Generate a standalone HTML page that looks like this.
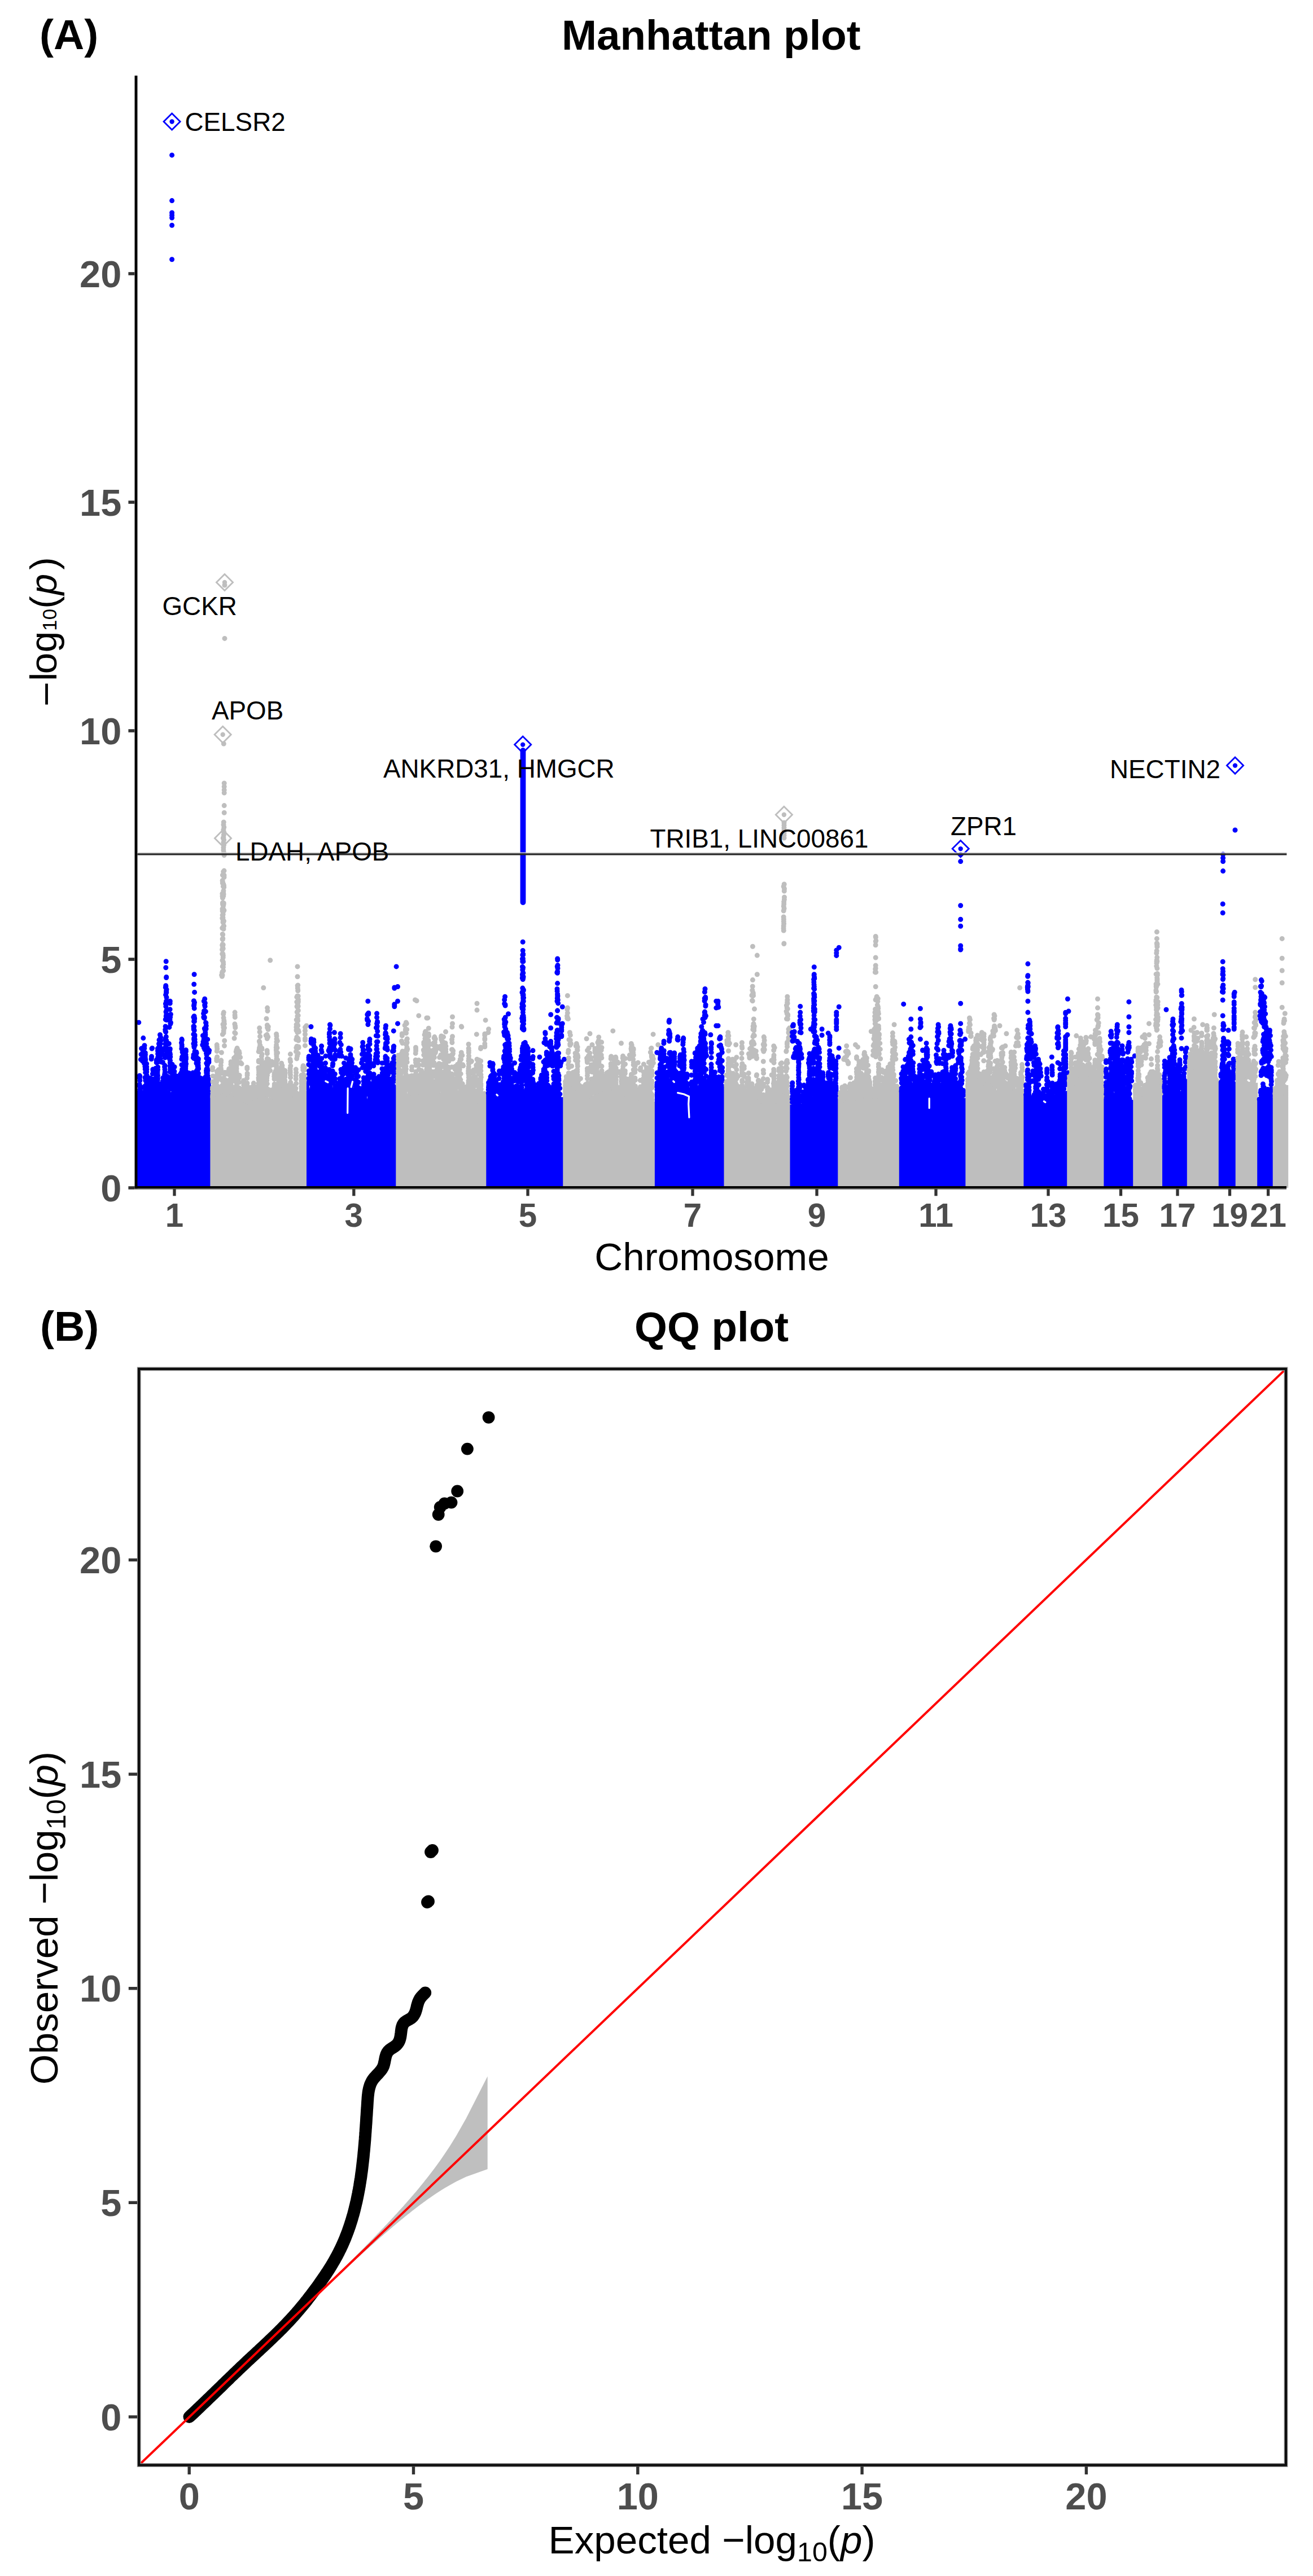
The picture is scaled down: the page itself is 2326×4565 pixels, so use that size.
<!DOCTYPE html>
<html lang="en"><head><meta charset="utf-8"><title>Manhattan plot and QQ plot</title>
<style>
html,body{margin:0;padding:0;background:#fff}
body{width:2326px;height:4565px;overflow:hidden}
svg{display:block}
text{font-family:'Liberation Sans', Arial, Helvetica, sans-serif}
.tk{font-size:66.7px;font-weight:700;fill:#4D4D4D}
.tkx{font-size:58.3px;font-weight:700;fill:#4D4D4D}
.ttl{font-size:74.5px;font-weight:700;fill:#000}
.tag{font-size:75px;font-weight:700;fill:#000}
.axt{font-size:69.2px;fill:#000}
.gl text{font-size:45.8px;fill:#000}
</style></head><body>
<svg width="2326" height="4565" viewBox="0 0 2326 4565">
<rect width="2326" height="4565" fill="#fff"/>
<g id="manhattan">
<path fill="#0000FF" d="M243 2105L243 1934.5L247 1934.5L248.5 1944.4L250 1936.1L251.5 1944.5L253 1943.1L254.5 1949.3L256 1945.6L257.5 1946.7L259 1945.9L260.5 1940.5L262 1937.1L263.5 1928L265 1929.7L266.5 1929.8L268 1925L269.5 1921.6L271 1918.2L272.5 1919.3L274 1929.6L275.5 1920.8L277 1916.4L278.5 1922L280 1924.5L281.5 1921.8L283 1926.7L284.5 1924.3L286 1928.9L287.5 1923.7L289 1926L290.5 1928.5L292 1921L293.5 1918.4L295 1924.1L296.5 1923.7L298 1932.1L299.5 1920.6L301 1928.3L302.5 1935.5L304 1934.2L305.5 1927.8L307 1924.6L308.5 1930.7L310 1932.3L311.5 1941.6L313 1942.6L314.5 1930.7L316 1928.3L317.5 1927.3L319 1920.8L320.5 1930.2L322 1929L323.5 1923.6L325 1919.6L326.5 1924.9L328 1915.6L329.5 1922.8L331 1918.6L332.5 1922.1L334 1930.5L335.5 1925.5L337 1923.8L338.5 1926.8L340 1923.1L341.5 1913.2L343 1921.3L344.5 1921.9L346 1919.9L347.5 1923.6L349 1913.7L350.5 1917L352 1920.3L353.5 1918.6L355 1904.9L356.5 1919.9L358 1920.9L359.5 1915.9L361 1912.8L362.5 1912.6L364 1916.4L365.5 1918.6L367 1914.4L368.5 1920.2L373.4 1920.2L373.4 2105Z"/>
<path fill="none" stroke="#0000FF" stroke-width="9" stroke-linecap="round" d="M247.2 1941.2h0M247.4 1938.2h0M247.1 1934.9h0M247.6 1930.9h0M247.3 1924.9h0M247.1 1921.8h0M247.8 1914.7h0M247.3 1910.2h0M247.8 1907.2h0M247.3 1906.3h0M250.2 1944.7h0M250.4 1941.4h0M250.1 1936h0M250.3 1926.7h0M253.9 1946.3h0M253.5 1942.8h0M253.4 1939.8h0M254.1 1936.2h0M253.7 1927.2h0M257.1 1949h0M257 1945.4h0M257.7 1940.5h0M257.6 1936.2h0M257.8 1933h0M257.3 1927.7h0M257.2 1924.3h0M257.8 1914.7h0M257 1909.5h0M257.7 1900.8h0M257.2 1894.7h0M256.9 1890.1h0M257.4 1884.1h0M257.7 1878.3h0M257.1 1872.8h0M257.4 1869h0M257.3 1865.7h0M260.1 1947.1h0M259.8 1943.1h0M260.1 1937.4h0M259.7 1932.9h0M259.4 1930h0M259.4 1927.2h0M259.7 1922.8h0M259.7 1918.9h0M259.8 1913.5h0M260 1909.9h0M260 1905.4h0M259.8 1899.6h0M259.9 1895.1h0M259.7 1890.8h0M259.7 1885.1h0M263.2 1937.9h0M263.2 1934.2h0M262.7 1929.6h0M264.3 1932.7h0M264 1929.7h0M264.4 1919.8h0M266.2 1929.6h0M266.5 1926.3h0M266.6 1918.6h0M266 1913.1h0M266.1 1910.6h0M268 1928h0M268.3 1922.9h0M268 1918.6h0M268.2 1916.5h0M271.3 1926.6h0M270.3 1918h0M270.4 1912.6h0M270.4 1902.9h0M271 1897.1h0M270.8 1895.1h0M272.2 1926h0M272.2 1914.1h0M275.5 1925.6h0M275.7 1917.3h0M275.4 1913.7h0M275.5 1910.7h0M275.4 1903.1h0M275.4 1899.1h0M275.7 1893.3h0M277.4 1922.3h0M277.4 1917.9h0M278 1913.4h0M277.4 1904.4h0M277.1 1900.4h0M277.1 1893.7h0M277.2 1883.1h0M277.1 1879.3h0M277.5 1878.1h0M279.2 1919.6h0M279.3 1913.7h0M279.4 1910.8h0M279.4 1906.4h0M279 1903.5h0M279 1899.4h0M279.5 1895.6h0M279.6 1891h0M279.9 1881.8h0M279.8 1873.5h0M279.7 1867.8h0M279.5 1862.3h0M279.4 1858.1h0M283.1 1927.7h0M282.8 1920.9h0M285.4 1931.9h0M285.5 1928.6h0M286 1923h0M285.8 1920.7h0M288.4 1931.4h0M288.9 1925.9h0M288.4 1921.4h0M288.4 1916.2h0M288.9 1910h0M292 1922.2h0M292.1 1917.2h0M291.6 1912.2h0M291.8 1908.6h0M291.6 1903.9h0M292.2 1900.2h0M292 1895.2h0M291.6 1890.8h0M292 1888.1h0M293.8 1919.5h0M293.5 1909.7h0M293.8 1905.5h0M295.3 1925.1h0M295.6 1912h0M297.5 1925.8h0M297.5 1922.8h0M297.1 1918.5h0M297.8 1914.6h0M297.5 1908.1h0M299.3 1927.1h0M299 1921.3h0M299.1 1916.1h0M301.1 1929.3h0M301.6 1926.4h0M301.3 1918.9h0M301.8 1915.5h0M301.4 1909.8h0M300.9 1899.4h0M301.6 1894.2h0M300.9 1889.3h0M301.3 1883.4h0M301.5 1879.5h0M301.5 1873.5h0M301.2 1869.7h0M301 1866.3h0M301 1860.5h0M301.3 1858.8h0M304.7 1930.2h0M304.9 1926.7h0M304.9 1923.6h0M305 1913.6h0M304.9 1909.1h0M305.6 1906h0M305.2 1902.8h0M304.9 1897.2h0M305 1893.5h0M305.1 1886.3h0M306.7 1930.6h0M306.5 1924.9h0M306.9 1922h0M306.1 1910.5h0M306.5 1909.3h0M309.5 1935h0M309.3 1929.8h0M308.6 1925.5h0M309.5 1920.1h0M308.7 1915.2h0M309.3 1911.5h0M309.1 1908.3h0M308.8 1903.6h0M308.9 1898.8h0M309.1 1890.7h0M312.3 1940.4h0M312.1 1931.6h0M312.5 1927.2h0M313 1923.5h0M312.4 1919.9h0M312.6 1912.2h0M315.6 1935.8h0M314.9 1932h0M314.9 1928.4h0M314.8 1922.5h0M315.3 1918.9h0M315 1913h0M315.1 1907.2h0M316.5 1932.4h0M316.2 1915.6h0M316.6 1913.6h0M319.9 1929.4h0M319.6 1925.4h0M319.5 1922h0M320 1911.3h0M319.3 1905.8h0M319.7 1903.4h0M321.8 1930.5h0M321.9 1924.8h0M321.5 1919.3h0M322.4 1916.4h0M322.4 1912.7h0M322.4 1908.8h0M322.2 1903.9h0M321.5 1900.1h0M321.9 1887h0M321.9 1877h0M321.8 1858.5h0M322.2 1854.7h0M322.2 1851.6h0M321.5 1847.9h0M322.4 1843.3h0M322 1841.6h0M325.3 1929.3h0M325.9 1926.1h0M325.6 1921.8h0M326 1917h0M325.3 1911.4h0M325.8 1905.9h0M325.4 1901.8h0M325.4 1898.2h0M325.6 1892.5h0M326 1883.9h0M326 1875.8h0M325.7 1873.8h0M329.1 1923.8h0M329.8 1920.6h0M329.3 1911.9h0M329.8 1908.2h0M329.4 1905h0M329 1901.5h0M329.4 1898h0M328.8 1893h0M329 1889.1h0M329.6 1885.3h0M328.9 1880.7h0M329.5 1876.6h0M329.5 1873.4h0M329.1 1869.3h0M329.4 1863.3h0M329.3 1860.8h0M332.1 1923.8h0M331.9 1919.8h0M332.1 1916.3h0M331.7 1916.1h0M335.4 1928.9h0M334.5 1924.6h0M335.4 1920h0M334.9 1916.8h0M334.8 1912.4h0M335.3 1904.7h0M335 1901.8h0M337.2 1930.6h0M336.4 1924.6h0M337.2 1918.8h0M336.8 1911.8h0M340 1925.9h0M340.1 1919.5h0M341.9 1921.4h0M341.7 1917.3h0M342.2 1909.1h0M342 1903h0M341.9 1901h0M344.1 1919.2h0M343.9 1915h0M344 1913.3h0M345.3 1919.8h0M345.6 1916.2h0M345.3 1911.9h0M345.3 1908.7h0M345.3 1907.5h0M347.3 1922.1h0M348 1917.2h0M347.3 1911.8h0M348.2 1907.4h0M348.1 1898h0M348 1884.3h0M347.6 1878.5h0M348.1 1873.2h0M348.2 1866.2h0M347.7 1864.3h0M349.5 1922h0M349.4 1919h0M350.1 1913.1h0M349.3 1909.8h0M349.6 1905.2h0M349.8 1899.5h0M350.2 1893.9h0M350 1889h0M350 1880.6h0M349.7 1879.3h0M351 1920.6h0M351.6 1915.1h0M351.6 1909h0M351 1905.2h0M351.4 1901.9h0M351.6 1894.1h0M351.3 1891.2h0M351.2 1888h0M351.1 1883.3h0M351.1 1878.4h0M351.4 1876.5h0M352.9 1919.4h0M353.3 1913.3h0M355.2 1920.1h0M355.5 1915.2h0M355.6 1910.8h0M358.1 1917.1h0M359.5 1919.8h0M359.7 1915.3h0M360 1913.1h0M363.3 1916.4h0M362.9 1910.5h0M363.2 1909.5h0M365.5 1917.7h0M365.3 1913.9h0M366 1908.2h0M366 1905.3h0M365.7 1901h0M365.5 1897.4h0M366 1894.4h0M365.8 1884.2h0M365.9 1875.4h0M366.2 1869.5h0M365.5 1866.6h0M366.2 1856.1h0M365.8 1854.7h0M367.8 1921.5h0M368.2 1916.4h0M367.9 1912h0M367.9 1906.4h0M367.4 1901.7h0M368.1 1896.9h0M367.3 1893.6h0M367.3 1887.7h0M367.9 1884.8h0M367.9 1879.9h0M367.6 1876.9h0M368.1 1865.7h0M367.3 1856.7h0M367.7 1841.9h0M369.5 1923.2h0M369.2 1919.7h0M369 1916.8h0M369.2 1912.2h0M294.2 1703.8h0M295.2 1777.7h0M295.1 1807.5h0M292.8 1824.7h0M294 1793.1h0M293.7 1846.8h0M294.3 1837.2h0M294.8 1758.8h0M294.6 1732.5h0M293.3 1749.8h0M294.6 1756h0M292.4 1874.3h0M294.1 1805.5h0M293.1 1850.1h0M293.8 1806.1h0M293.4 1854.9h0M293.4 1869.9h0M294.5 1758.5h0M293.2 1806.6h0M293 1827.4h0M294.8 1848.8h0M294.6 1848.7h0M293.9 1783.6h0M295.1 1790.1h0M294.7 1731.4h0M293.8 1714.7h0M295 1767.5h0M293.8 1807.1h0M293.3 1861.9h0M294.2 1800.8h0M294.9 1844.2h0M293.7 1828.8h0M293.4 1778.7h0M294.7 1856.4h0M293.1 1842.4h0M294.8 1797.3h0M293.1 1818.9h0M295.1 1801h0M293.6 1762.9h0M294.6 1774.3h0M293 1856.5h0M293.7 1746.8h0M294.2 1778.7h0M293.9 1747.8h0M295 1753.5h0M292.9 1840.6h0M301.3 1774.3h0M299.9 1820.4h0M302.4 1797.5h0M302 1814.3h0M300.5 1799.7h0M300.2 1808.2h0M301.1 1788.8h0M301.2 1778h0M301.9 1814.1h0M301.6 1802.5h0M300.4 1800.9h0M301 1806.8h0M302.5 1812.2h0M344.1 1726.7h0M344.2 1806.7h0M343.8 1847.9h0M344.5 1776.5h0M345 1863.5h0M345.1 1841.9h0M344.5 1839.4h0M343.6 1810h0M342.9 1832.9h0M344.7 1805.2h0M344.5 1843.5h0M343.9 1780h0M344.4 1810.1h0M344.5 1803.8h0M343 1869.3h0M344.9 1836.2h0M344 1800.8h0M342.4 1874.4h0M343.2 1822h0M345.5 1851.9h0M343 1818.8h0M344.2 1826h0M344.1 1844h0M345 1834.3h0M343.8 1819.1h0M343 1871.3h0M343.7 1840h0M342.9 1849.6h0M343.5 1875.5h0M343.7 1744.2h0M342.9 1802.4h0M343.9 1805.1h0M343.6 1841.7h0M343.5 1782.3h0M345.4 1847h0M343.3 1819.8h0M343.7 1854.2h0M343.4 1773.8h0M345 1851.2h0M344 1833.7h0M343.3 1824.4h0M343.5 1873.1h0M345 1834.3h0M344 1856h0M344.2 1786.9h0M344.6 1758.4h0M362.7 1770.3h0M364.5 1812.2h0M362.1 1804.2h0M362.3 1802.8h0M360.6 1796.1h0M361.1 1841.6h0M361.8 1802h0M362.3 1822.8h0M363.7 1835.3h0M364.9 1812.8h0M359.2 1851.2h0M365.8 1849.4h0M360 1846.2h0M363.7 1849.6h0M361.3 1774.2h0M363.9 1858.1h0M360.8 1802.5h0M361.6 1791.4h0M361.5 1845.6h0M364.3 1792.5h0M360.2 1846.7h0M363.5 1853.8h0M363.9 1846h0M365 1854h0M360.4 1850.1h0M362.9 1839.5h0M362.2 1843.1h0M363.1 1853.2h0M361.4 1803.9h0M362.6 1791.1h0M362.6 1781.1h0M362.6 1791.6h0M362.9 1824.3h0M358.8 1851.8h0M362.4 1850.3h0M363.7 1829.5h0M361.7 1850.3h0M365.2 1817.7h0M363.1 1783.4h0M359.5 1835.2h0M363.9 1833.1h0M361.3 1856.7h0M362.8 1860.1h0M365 1823.2h0M363.3 1777.5h0M361.6 1834.3h0M253.8 1839.6h0M252.4 1880.3h0M254 1865.6h0M251 1877.1h0M253.2 1864h0M256.4 1868.9h0M255.8 1857.7h0M253.8 1862.7h0M253.8 1856.7h0M255.4 1884.3h0M252.1 1877.8h0M252.5 1858.8h0M254.9 1870.1h0M249.4 1877.6h0M257.3 1875.3h0M250.1 1868.5h0M250.6 1858.1h0M256 1852.7h0M255.1 1871h0M257.7 1877.7h0M254.8 1871.1h0M283.5 1833.7h0M285.1 1869.9h0M285 1868.6h0M284.4 1849.8h0M285.4 1862.3h0M282 1842.9h0M284.5 1838h0M285.1 1881.8h0M285.7 1858h0M284.1 1876.7h0M282.3 1852.3h0M282.2 1860.6h0M284.5 1861h0M278.8 1882.6h0M279.7 1867.3h0M284.9 1844.1h0M286.9 1867.7h0M279.9 1861.8h0M284.1 1858.9h0M288.5 1882.7h0M282.8 1863.1h0M284.1 1843h0M281.5 1849.8h0M269.6 1857.4h0M269 1858.3h0M268.5 1872.3h0M268.1 1876.7h0M268.4 1875.3h0M324.3 1863.4h0M324.8 1865h0M325.2 1875h0M322.6 1873h0M325.6 1891.1h0M325.8 1893.3h0M324.6 1868.6h0M324 1889.4h0M322.6 1895.3h0M325.8 1896.1h0M323.1 1864.5h0M370.6 1861.4h0M369.9 1878.6h0M369.9 1864.9h0M368.9 1880.1h0M369.9 1882.6h0M369.9 1864.3h0M369.9 1877.1h0M368.8 1879.1h0M369.9 1881.4h0M299.3 1849.5h0M299.9 1869.5h0M298.9 1863.9h0M301.7 1872.7h0M299.7 1872.6h0M297.8 1860.5h0M300.5 1876.7h0M298.4 1873.6h0M301.5 1868.5h0M245.8 1811.9h0M304.6 274.9h0M304.6 355.6h0M304.6 377h0M304.6 381.5h0M304.6 386h0M304.6 399.2h0M304.6 459.8h0"/>
<path fill="#BEBEBE" d="M372.4 2105L372.4 1939.5L376.4 1939.5L377.9 1945L379.4 1934.8L380.9 1925.2L382.4 1918.3L383.9 1931.2L385.4 1925.1L386.9 1940.1L388.4 1931.5L389.9 1936.3L391.4 1935L392.9 1929.6L394.4 1926.5L395.9 1928.7L397.4 1936.5L398.9 1932.5L400.4 1931.4L401.9 1941.4L403.4 1933.7L404.9 1925.3L406.4 1922.2L407.9 1927.8L409.4 1936.2L410.9 1929.8L412.4 1931.2L413.9 1926.8L415.4 1935.6L416.9 1940.2L418.4 1942.7L419.9 1939.7L421.4 1947.3L422.9 1941.5L424.4 1943.3L425.9 1936.4L427.4 1940.5L428.9 1942.1L430.4 1932.2L431.9 1938.6L433.4 1943.9L434.9 1949.6L436.4 1947.4L437.9 1947.1L439.4 1943.3L440.9 1948.2L442.4 1951.4L443.9 1943.8L445.4 1940.4L446.9 1949.1L448.4 1937.4L449.9 1942.7L451.4 1946.9L452.9 1938.4L454.4 1932.8L455.9 1937.5L457.4 1939.5L458.9 1933.3L460.4 1932.6L461.9 1929.3L463.4 1931.1L464.9 1938.8L466.4 1935.8L467.9 1937.2L469.4 1931L470.9 1934.1L472.4 1941.1L473.9 1937.2L475.4 1945.8L476.9 1939.4L478.4 1945.5L479.9 1943.5L481.4 1945.8L482.9 1938.5L484.4 1939L485.9 1924.6L487.4 1918.6L488.9 1918.6L490.4 1913.1L491.9 1910.2L493.4 1917.5L494.9 1910.2L496.4 1913.5L497.9 1907.3L499.4 1910.2L500.9 1924.2L502.4 1928.4L503.9 1925.6L505.4 1927.9L506.9 1934.4L508.4 1936.5L509.9 1931.8L511.4 1940.1L512.9 1932.7L514.4 1928.5L515.9 1931.2L517.4 1927.8L518.9 1927.3L520.4 1937.1L521.9 1940L523.4 1939.5L524.9 1949.5L526.4 1940.2L527.9 1945.2L529.4 1940.1L530.9 1943.7L532.4 1938.8L533.9 1936.3L535.4 1940.6L536.9 1940.8L538.4 1939.6L539.9 1933.5L544 1933.5L544 2105Z"/>
<path fill="none" stroke="#BEBEBE" stroke-width="9" stroke-linecap="round" d="M376.8 1944h0M377.1 1940.1h0M376.8 1936.1h0M376.5 1930.3h0M376.6 1927.5h0M377 1917.1h0M377.1 1906.9h0M376.3 1895.7h0M376.7 1892h0M380.2 1933.3h0M380.1 1927.5h0M379.7 1922.5h0M380 1918.8h0M382.7 1929.5h0M382.5 1924.2h0M382.5 1913.9h0M382.4 1911.8h0M384.4 1931.4h0M384.1 1927.4h0M383.8 1922.9h0M383.8 1916.9h0M383.9 1912h0M384.2 1907.2h0M384.7 1904.3h0M384.3 1898.7h0M383.8 1879.5h0M383.8 1876h0M384.6 1873h0M384.3 1862.9h0M384.7 1858.8h0M384.4 1855.1h0M384.2 1851.6h0M386.9 1935.5h0M387 1926h0M387.7 1908.2h0M387.5 1905.1h0M387.2 1895.7h0M389.6 1935.3h0M389.6 1931.4h0M390 1928.4h0M391.3 1933.7h0M391.9 1928.7h0M392.1 1925.2h0M391.3 1912.8h0M391.5 1902h0M391.8 1896.5h0M391.3 1893.2h0M391.3 1888.1h0M391.6 1882.4h0M391.7 1879.1h0M393.5 1932.1h0M393.5 1928.7h0M394.2 1923h0M393.7 1915h0M393.4 1911.2h0M393.7 1901.2h0M397.1 1933.7h0M397.3 1930.3h0M398.5 1936.3h0M399 1930.3h0M398.2 1926.3h0M398.4 1920.8h0M398.4 1913h0M398.3 1904.4h0M398.7 1900.4h0M400.8 1938.7h0M400.8 1933.5h0M400.9 1930h0M400.7 1924.2h0M404.4 1935h0M403.6 1929.3h0M404.4 1923.5h0M404.4 1919.8h0M404 1917h0M405.3 1932h0M405.8 1927.4h0M406.1 1924.2h0M406 1918.6h0M405.3 1914.5h0M405.8 1904.4h0M406.2 1899.8h0M405.4 1896.3h0M405.8 1894.1h0M408.7 1931.2h0M408.6 1926.1h0M409.1 1921.3h0M409.5 1916.2h0M408.7 1911.1h0M408.9 1906.6h0M408.7 1903.4h0M409.3 1895.3h0M409 1886.1h0M409.1 1881.8h0M412.2 1931.5h0M411.7 1926.3h0M413.7 1933.3h0M414.3 1915.2h0M413.8 1909.3h0M413.9 1904.4h0M413.9 1901.4h0M414.3 1898.5h0M413.9 1891.2h0M417.6 1941.2h0M416.9 1938.3h0M417.2 1937.5h0M419.6 1943.6h0M419.2 1938.8h0M419.3 1930.8h0M419.6 1927.6h0M419.1 1923.1h0M418.8 1918.5h0M419.1 1915.2h0M418.8 1911.5h0M419.3 1902h0M419.1 1898.6h0M419.1 1893.9h0M418.9 1890.1h0M419.2 1885.6h0M419.5 1882.7h0M419.2 1879.1h0M419.5 1868.2h0M419.2 1866.5h0M420.6 1944.2h0M420.3 1939h0M420.3 1933h0M420.8 1929.1h0M420.9 1918.8h0M420.6 1910h0M424.3 1942.6h0M423.4 1939.3h0M423.9 1934h0M423.8 1928.1h0M423.8 1917.9h0M423.9 1909.8h0M424.2 1905.7h0M423.9 1905.4h0M426.1 1939.9h0M426.4 1936.1h0M428.2 1939.6h0M427.9 1936.4h0M428.1 1933.3h0M431.9 1940.1h0M431.6 1937.2h0M432 1927.4h0M431.7 1922.9h0M431.6 1918.8h0M431.5 1914.9h0M435.2 1951.4h0M435.1 1948.2h0M435.5 1943.6h0M435.1 1937.6h0M435.2 1931.8h0M437.5 1952.7h0M437.4 1943.3h0M438.1 1937.6h0M437.6 1927.3h0M437.5 1922.9h0M437.9 1919.4h0M437.7 1910.6h0M438 1905.2h0M438.1 1902.3h0M437.8 1894.1h0M437.8 1891.4h0M441.2 1950.7h0M440.3 1946h0M440.3 1942.6h0M440.7 1939.5h0M440.7 1936.1h0M443.1 1948.2h0M443.4 1945.3h0M443.2 1940.1h0M443.9 1936.4h0M443.5 1931.7h0M443.9 1927.6h0M443.5 1927.6h0M447.4 1945.9h0M447.7 1942.3h0M447.2 1938.4h0M449.6 1946.6h0M449.8 1942.8h0M449.5 1934.8h0M449.7 1931.2h0M449.2 1923.2h0M449.3 1919.6h0M451.9 1945.6h0M451.6 1941.4h0M451.8 1935.9h0M451.8 1932.5h0M452 1931.6h0M454.6 1940.4h0M454.8 1935.3h0M454.9 1929.8h0M455 1926.7h0M458.1 1936h0M458.8 1930.8h0M458.2 1922.8h0M458.1 1919.6h0M458.2 1913.8h0M458 1910.2h0M458.3 1904.5h0M458.6 1900h0M458.4 1895.9h0M457.9 1892h0M458.2 1881.6h0M458.3 1879.5h0M460.1 1935.5h0M460.6 1932h0M460.7 1928.2h0M460.3 1926.2h0M463.5 1934.6h0M464 1930.9h0M463.8 1925.9h0M463.6 1920.9h0M464 1915.3h0M464.3 1911.9h0M463.4 1906.7h0M463.5 1903.7h0M463.4 1899.9h0M463.5 1896.1h0M464.1 1890.5h0M464 1886.9h0M464.2 1882.9h0M463.4 1877.6h0M463.4 1871.9h0M464.1 1868.3h0M464 1859.5h0M463.8 1857.5h0M466.8 1935.5h0M467.3 1923.1h0M466.6 1918.3h0M467 1913.2h0M467 1907.8h0M468.2 1937.7h0M468.6 1929.8h0M471 1934.9h0M471.2 1931.8h0M470.9 1928.3h0M471 1923.2h0M471.2 1919.6h0M471.1 1913.7h0M471.4 1908h0M471.6 1891.3h0M471.1 1885.8h0M471.3 1884.6h0M472.9 1939.4h0M473.1 1936h0M473.1 1932.8h0M472.7 1928.7h0M473.3 1920.6h0M472.7 1914.6h0M472.8 1910.2h0M473.5 1905.6h0M473.5 1900.7h0M472.9 1895.7h0M473.4 1892.4h0M472.8 1886.9h0M473.4 1876.1h0M473.4 1866.7h0M473.2 1862.8h0M473.1 1861.8h0M476 1939.9h0M476.8 1935.2h0M476.5 1931.3h0M479.7 1940.9h0M480.1 1937.8h0M483 1944.4h0M483.3 1941h0M482.7 1937.9h0M482.8 1931.3h0M485.9 1930.1h0M486 1925.1h0M486.2 1921.2h0M486 1912.3h0M485.8 1907.7h0M486 1904.6h0M486.1 1902.3h0M490 1910.3h0M489.8 1907.3h0M490.1 1903.5h0M489.4 1899.1h0M489.8 1892.2h0M489.8 1888h0M489.6 1883.9h0M489.5 1879.4h0M490 1876.2h0M490 1871.5h0M489.7 1867.9h0M489.7 1864.2h0M489.3 1860.7h0M489.2 1856.2h0M489.6 1852h0M489.9 1846.4h0M490.1 1841.1h0M490 1835.9h0M489.6 1832.4h0M491 1910.3h0M491.1 1905h0M491.5 1900.9h0M491.6 1897.4h0M491.6 1878h0M491.6 1865.8h0M491 1856.9h0M491.4 1844.7h0M493.3 1913.9h0M492.9 1908.3h0M493.6 1905.4h0M493.1 1902h0M493.3 1897.3h0M495.9 1915.1h0M495.6 1910.6h0M499 1918.4h0M498.2 1915.5h0M498.9 1911.1h0M498.9 1908.1h0M498.6 1903.1h0M498.4 1890.8h0M498.6 1884.3h0M499.9 1920.8h0M499.9 1916.5h0M500.1 1912.5h0M500 1908.6h0M499.6 1902.5h0M499.8 1897.5h0M500.1 1893.1h0M500 1888.5h0M501.7 1923.7h0M501.5 1918h0M501.2 1913.1h0M501.4 1911h0M505.1 1926.9h0M505 1921.7h0M504.8 1917.7h0M504.7 1914.7h0M504.7 1908.6h0M504.7 1905h0M505.2 1901.7h0M504.9 1897.4h0M504.9 1897.2h0M506.4 1936.4h0M507 1931.2h0M506.6 1927h0M508.2 1939.4h0M508.4 1933.4h0M508.1 1930.9h0M511.5 1939.5h0M511.3 1933.7h0M511.3 1930.8h0M511.5 1925.7h0M511.6 1923.4h0M514.5 1935.4h0M514.8 1932h0M514.7 1927.2h0M514 1921.5h0M514.7 1918.1h0M514.6 1909.6h0M514.5 1904.7h0M514.3 1900.8h0M514.2 1897.8h0M514.1 1893.4h0M514.8 1889h0M514.6 1881.3h0M514 1877.4h0M514.4 1868.1h0M517.1 1933.1h0M516.8 1928.2h0M517 1924h0M519.2 1934.1h0M519.2 1928.8h0M519 1926.2h0M521.4 1940.6h0M520.9 1934.7h0M521.4 1930.9h0M524.2 1948.3h0M524.6 1942.3h0M524 1939.1h0M524.4 1936.1h0M524 1928.7h0M524.6 1920.1h0M524.2 1912h0M524.2 1906.6h0M524.6 1900.8h0M524.3 1895.1h0M527.9 1947.2h0M527.8 1939.3h0M530.4 1945h0M530.4 1941.3h0M530.7 1938.5h0M533.7 1942.4h0M533.9 1936.3h0M534.2 1933h0M534.2 1929.3h0M533.8 1925.6h0M534 1919.8h0M533.9 1915.1h0M534.2 1909.4h0M533.9 1905.6h0M536.8 1941.5h0M536.7 1932.1h0M537.5 1926.1h0M536.7 1922.8h0M536.7 1919.4h0M536.8 1904.3h0M536.8 1896h0M536.6 1891.7h0M537.1 1888.8h0M538.8 1943.2h0M539.1 1938.7h0M538.8 1935.3h0M538.8 1930.1h0M539.6 1926.1h0M539.7 1922.2h0M539 1916.5h0M538.8 1913.1h0M539.1 1910.1h0M538.7 1905.4h0M539.4 1895.8h0M539.2 1891.9h0M394.4 1600h0M394 1701.9h0M394.2 1655.4h0M394 1728h0M394.1 1663.9h0M395.2 1630.4h0M394.5 1602.5h0M393.5 1723.4h0M394 1690.3h0M393.8 1644.9h0M394.9 1626h0M395.7 1708.9h0M394.6 1613.7h0M394.7 1656.2h0M393.9 1683.3h0M392.6 1727.9h0M395.5 1704.9h0M394.6 1678.9h0M393.4 1730.2h0M395.1 1692.4h0M394.8 1663.1h0M394.4 1664.9h0M394.9 1690.5h0M394.6 1655.9h0M393.6 1682.7h0M393.7 1690.5h0M394.3 1721.6h0M394.4 1702.3h0M393.7 1675h0M395.1 1630.2h0M394.4 1681h0M395.2 1680.9h0M393.7 1644.6h0M394.2 1712.8h0M395.3 1693.6h0M395.6 1720.2h0M394.2 1612.4h0M395.4 1713.9h0M393.8 1627.2h0M396.3 1794.1h0M395 1815.2h0M397.5 1821.5h0M396.1 1830.5h0M396.1 1803.7h0M397.5 1853.3h0M396.2 1826.7h0M397.7 1844.2h0M396.8 1808.4h0M396.4 1822.1h0M395.9 1814.3h0M395.9 1820.5h0M395.7 1797h0M394.3 1833.1h0M397 1810.4h0M395.7 1816.6h0M397.4 1814.5h0M416.1 1794.1h0M416.3 1802.6h0M415.1 1840h0M416.8 1821.1h0M415.8 1829.9h0M416.1 1799h0M416.6 1818.3h0M415.9 1814.7h0M417 1831.3h0M459.7 1821.8h0M459.4 1845.3h0M460.9 1855.9h0M460.6 1836.7h0M459.3 1861.7h0M459.2 1859.7h0M460.1 1828.8h0M459.8 1846.7h0M460.7 1852.2h0M458.2 1863.6h0M459.6 1856.6h0M473.6 1786.1h0M475.3 1819.4h0M473.4 1816.8h0M473.2 1840.6h0M473.6 1821h0M474.7 1837.5h0M473 1833.6h0M474 1791.5h0M475 1824.3h0M471.2 1835h0M472 1805.3h0M527 1730.7h0M524.9 1856.7h0M527.7 1754.4h0M525 1826.1h0M528.1 1840.5h0M525.1 1815.6h0M526.6 1841.8h0M529.3 1828.6h0M529 1856.6h0M526.6 1765.2h0M524.9 1820.2h0M525.7 1876h0M526.4 1784.4h0M528.2 1783.3h0M527.1 1825h0M525.2 1807.2h0M528.3 1790.8h0M528.9 1854.9h0M526 1783.6h0M527.1 1746.7h0M526.9 1800.7h0M527.4 1816.4h0M528.2 1799.6h0M528.3 1774.6h0M525 1825.1h0M527.1 1792.2h0M527.3 1805.6h0M526.2 1793.6h0M525.9 1854.2h0M528.6 1844.1h0M526.8 1829.6h0M526.7 1870h0M524.5 1863.6h0M527.6 1809h0M527.8 1745.9h0M527.3 1751h0M528.3 1771.2h0M528.4 1825.7h0M527.8 1817.6h0M526 1839.8h0M528.1 1776.3h0M528.2 1765.3h0M525.8 1775.6h0M527.7 1755.8h0M526.5 1871.8h0M525.8 1837.9h0M528.1 1866.8h0M525.8 1766.9h0M524.7 1842.3h0M525.9 1858.8h0M527.3 1779.8h0M542.9 1817.8h0M540.5 1832.9h0M540.5 1826.6h0M540.5 1833.1h0M540.5 1826.5h0M540.5 1852.9h0M540.5 1820.6h0M540.5 1843.3h0M540.5 1840.5h0M420.1 1857.4h0M422.9 1873h0M422.3 1872.1h0M422.7 1862.9h0M423.5 1863.2h0M428 1885.1h0M417.3 1874.6h0M422.9 1870h0M425.6 1873.8h0M420 1862.1h0M421.7 1882.3h0M414.6 1874.9h0M418.2 1863.8h0M426 1882.9h0M424.2 1866.5h0M420.7 1859.5h0M417.3 1884.5h0M422.8 1884h0M419 1860.4h0M417 1872.6h0M415.1 1879.6h0M475.5 1877.2h0M469.1 1897.1h0M476.4 1880.4h0M476.3 1881.3h0M478.6 1897.1h0M463.9 1890.5h0M465 1891.6h0M464.9 1894.4h0M471.5 1893h0M479.3 1888.6h0M469.8 1883.3h0M469.7 1899.9h0M487.9 1898.1h0M466.7 1890.9h0M481.3 1881.3h0M475.5 1882h0M465.4 1892.1h0M467.1 1890.7h0M475.7 1892.1h0M468.7 1888.4h0M468.6 1889.3h0M471.3 1882.3h0M475.6 1898.7h0M459.1 1899h0M475.1 1900h0M477.8 1897.2h0M467.5 1895.2h0M464.8 1896.4h0M466.1 1886h0M476 1889h0M483.7 1886.7h0M394.4 1673.3h0M466.8 1750.5h0M478.7 1701.8h0M527 1712.9h0M392.4 1865.3h0M398 1131.4h0M398 1037h0M396.3 1318h0M397.2 1388h0M397.2 1394h0M397.2 1400h0M397.2 1405h0M397.2 1427.6h0M397.2 1440.3h0M396.3 1457h0M396 1461.5h0M396.8 1466h0M395.9 1470.5h0M396.7 1475h0M396.4 1479.5h0M395.9 1484h0M396.6 1488.5h0M395.9 1493h0M396.5 1497.5h0M395.9 1502h0M395.9 1506.5h0M396.5 1511h0M397.1 1515.5h0M394.3 1562.3h0M395.9 1641.3h0M395.7 1581.2h0M397 1543.1h0M396.6 1569.6h0M394.4 1550.8h0M394.9 1627h0M394.5 1601.4h0M395.9 1578.6h0M395.7 1544.8h0M394.1 1560.4h0M396.1 1584.6h0M394.9 1601.8h0M395.4 1570.7h0M396.4 1614.2h0M394.7 1600.6h0M395.6 1633.4h0M396.2 1569.4h0M397 1550.9h0M395.2 1620.5h0M394.4 1591.3h0M394 1610.8h0M396.3 1600.5h0M396.7 1572.2h0M396.1 1602.8h0M395.8 1587.7h0M396.6 1641h0M395.4 1610.4h0M394.1 1614.5h0M396 1646.2h0M396.5 1569h0M395.1 1610.9h0M394 1588.3h0M394.4 1550.8h0M394.1 1621.7h0M394.3 1565h0M395.2 1633h0M394.2 1587h0M395.7 1634.3h0M396.5 1632.2h0M394.8 1583.3h0M395 1634.4h0M397 1554.5h0M394.5 1563.3h0M394.6 1590.9h0M395.8 1566.6h0M393.9 1583.7h0M395.1 1599.7h0M396.9 1613.3h0M395.5 1605.3h0M395.2 1674.2h0M395.2 1696.7h0"/>
<path fill="#0000FF" d="M543 2105L543 1917.4L547 1917.4L548.5 1929.7L550 1912.2L551.5 1911L553 1905.1L554.5 1904.8L556 1898.1L557.5 1903.9L559 1901L560.5 1908L562 1911.1L563.5 1910L565 1909.9L566.5 1914.6L568 1909.1L569.5 1912.3L571 1919.1L572.5 1918.2L574 1919L575.5 1927.8L577 1922L578.5 1921.5L580 1921.8L581.5 1916.4L583 1922.6L584.5 1924.7L586 1927.3L587.5 1932.5L589 1937.2L590.5 1932.7L592 1945.5L593.5 1943.1L595 1948.6L596.5 1940.4L598 1935.2L599.5 1932.1L601 1937.2L602.5 1934.3L604 1927.7L605.5 1933.8L607 1930.6L608.5 1938.5L610 1927.4L611.5 1926.2L613 1925.9L614.5 1929.1L616 1924.9L617.5 1921.7L619 1918.5L620.5 1918.5L622 1919.7L623.5 1918.6L625 1914L626.5 1928L628 1925.6L629.5 1929L631 1929.1L632.5 1937.2L634 1931.2L635.5 1935.7L637 1938.8L638.5 1941.4L640 1938.1L641.5 1937.8L643 1937.1L644.5 1940.8L646 1934.6L647.5 1942.6L649 1931.1L650.5 1948.2L652 1935.6L653.5 1934.1L655 1922.4L656.5 1929.6L658 1916.3L659.5 1931.7L661 1919.6L662.5 1927.5L664 1929.1L665.5 1925.7L667 1916L668.5 1919.3L670 1931.6L671.5 1918.3L673 1923L674.5 1930.9L676 1921.5L677.5 1929.2L679 1922.6L680.5 1921.3L682 1924.8L683.5 1920.2L685 1927.8L686.5 1923.6L688 1927.8L689.5 1928.5L691 1922.8L692.5 1932.8L694 1936.7L695.5 1931.7L697 1933.2L698.5 1929.1L702.3 1929.1L702.3 2105Z"/>
<path fill="none" stroke="#0000FF" stroke-width="9" stroke-linecap="round" d="M547.4 1919.8h0M547.6 1916.2h0M547 1911h0M547.5 1903.3h0M547.6 1897.8h0M546.9 1886.5h0M547.1 1877.8h0M547 1874.5h0M547.3 1871.9h0M551 1915.7h0M551.4 1911.2h0M550.7 1905.9h0M551.3 1901.1h0M550.9 1897.9h0M550.7 1889.6h0M551.4 1878.3h0M551 1872.9h0M551.5 1861.7h0M551.4 1848.5h0M551 1844.9h0M551.4 1841.3h0M551 1819.5h0M552.9 1910.3h0M552.9 1906.4h0M552.6 1905.6h0M553.4 1907.9h0M553.8 1904.7h0M553.7 1899.9h0M554.2 1896.4h0M553.5 1891.6h0M553.8 1887.8h0M553.9 1875.9h0M556.2 1902.7h0M555.7 1897.9h0M555.3 1882.1h0M555.4 1870.8h0M556.3 1861.6h0M555.8 1852.8h0M556 1846.9h0M555.8 1843h0M558.3 1907h0M558 1901.2h0M558.4 1895.2h0M558 1890.1h0M557.7 1876.7h0M558.1 1868.9h0M560.4 1914.1h0M561 1910h0M560.9 1905.3h0M564 1915.1h0M563.5 1909.4h0M565.5 1908.3h0M566.1 1905h0M565.4 1899.6h0M565.8 1889.4h0M567.6 1915.1h0M567.8 1910.1h0M570.1 1918.7h0M569.6 1915.2h0M569.5 1912h0M570 1904.2h0M569.8 1899.9h0M569.3 1894.6h0M569.7 1889.3h0M569.4 1884.3h0M569.7 1875.7h0M570.1 1864.4h0M569.2 1860.7h0M569.6 1853.7h0M571.6 1923.4h0M572.4 1919.6h0M572.2 1914.7h0M571.8 1905.4h0M571.6 1899.9h0M571.9 1895.5h0M574.7 1925.9h0M574.4 1920.1h0M574.6 1917.1h0M574.6 1909.7h0M576.7 1924.7h0M577.2 1919.2h0M577.1 1915.8h0M577.2 1905.6h0M577.1 1897.4h0M576.5 1892.6h0M576.6 1884.1h0M576.9 1871.4h0M580.3 1921.5h0M580.1 1917.6h0M579.5 1914.3h0M580.2 1910h0M579.9 1910h0M583 1923.2h0M583.1 1918.3h0M583.6 1913.6h0M582.8 1904.7h0M583.3 1899.3h0M583.3 1895.4h0M585 1927.1h0M584.8 1922.4h0M585.1 1917.6h0M585.2 1905.6h0M584.4 1902.6h0M584.8 1899.9h0M587.7 1937.9h0M587.7 1934h0M587.8 1931h0M589.6 1942.9h0M589.8 1938.7h0M589.6 1935.2h0M589.8 1919h0M589.1 1916h0M589.7 1910.4h0M589.2 1906.7h0M589.2 1898h0M589.2 1888.5h0M589.8 1885.3h0M589.6 1884.8h0M593.6 1947.2h0M593 1942.9h0M593.3 1939.7h0M592.9 1936.2h0M593.8 1930.4h0M593.6 1924.4h0M592.8 1914.7h0M593.2 1911.2h0M593.3 1903.2h0M596.2 1946.3h0M595.6 1941.7h0M595.8 1935.5h0M598.4 1941.8h0M598.3 1936.1h0M598.4 1931.3h0M598.8 1927h0M598.3 1921.9h0M598.7 1919.4h0M600 1939.3h0M599.9 1934.3h0M600.1 1929.3h0M600.1 1923.5h0M601.9 1933.7h0M601.8 1928.2h0M602.1 1925.3h0M601.1 1919.8h0M601.6 1911.8h0M604.2 1936.2h0M604.7 1932.9h0M604.8 1924.6h0M604.1 1921.2h0M604.8 1910h0M604.6 1900.9h0M604 1895.5h0M604.5 1895.5h0M606.7 1937.4h0M606.8 1934.4h0M606.7 1930.1h0M606.1 1926.6h0M606.4 1920.6h0M606.9 1917.5h0M606.4 1911.9h0M607 1904.8h0M606.1 1899.4h0M606.5 1897.1h0M609.6 1936.7h0M609.6 1932.4h0M609.9 1922.2h0M609.1 1916.7h0M609.4 1896.1h0M609.5 1892.2h0M609.5 1883.9h0M613.2 1931.5h0M612.5 1926.2h0M612.5 1922h0M613 1912.4h0M613.1 1902.1h0M612.6 1898.3h0M612.9 1890.3h0M612.7 1874.9h0M615 1929h0M614.8 1926.1h0M614.5 1920.1h0M614.6 1913.1h0M617.5 1925.1h0M617.5 1922.1h0M617.9 1913.5h0M617.6 1908.8h0M617.3 1905.7h0M617.4 1901.7h0M618 1892.2h0M617.6 1888.8h0M617.7 1884.6h0M618.2 1879.5h0M617.4 1859.8h0M617.8 1857.6h0M619.5 1922.4h0M619.1 1917.4h0M619.5 1910.2h0M619 1906.6h0M619.4 1905.2h0M620.7 1917.6h0M620.9 1912.2h0M620.8 1907.7h0M621 1902.2h0M620.8 1896.9h0M620.9 1893.4h0M621.4 1888.5h0M621.4 1885.5h0M621 1881.9h0M621.3 1878.7h0M621.1 1875.5h0M621 1872.1h0M620.9 1868.9h0M620.8 1859.9h0M621.1 1858.7h0M624.2 1922.6h0M624.2 1917h0M623.5 1912.5h0M623.4 1906.9h0M623.4 1898.8h0M623.5 1894.5h0M623.4 1889.5h0M623.5 1883.5h0M623.8 1877.3h0M625.4 1922.9h0M625.1 1918.4h0M624.8 1913.6h0M625.1 1895.5h0M627.4 1923.1h0M626.5 1920h0M626.7 1915.8h0M627 1913.6h0M629.3 1922.5h0M629.7 1916.6h0M630.1 1902.8h0M630.2 1895h0M629.8 1892.1h0M632.3 1932.3h0M631.7 1929.4h0M632.2 1923.9h0M632.1 1920.2h0M631.8 1915.1h0M632.1 1908.6h0M631.8 1900.8h0M632 1896.1h0M632.1 1895.8h0M635.5 1938.5h0M635.5 1930.6h0M634.8 1927.5h0M635.1 1918h0M634.7 1907.5h0M635 1895.9h0M638.3 1941.9h0M638.7 1936.3h0M641.7 1941.8h0M641.3 1938.1h0M641 1933.6h0M641.5 1928.8h0M644.5 1941.1h0M644.3 1935.7h0M644.5 1930.7h0M644.3 1921.9h0M644.2 1915.9h0M644.3 1909.9h0M647.6 1939.9h0M647.2 1934.6h0M647 1931h0M647.4 1927.8h0M647.9 1924.7h0M647.7 1920h0M647.5 1915.7h0M647.1 1912.8h0M647.7 1898.6h0M647.7 1892.6h0M647.8 1888.8h0M647.2 1878.3h0M647.7 1875.4h0M647 1871.7h0M647.5 1871.5h0M650.2 1939h0M651 1935.3h0M650.9 1932.4h0M650.5 1926.8h0M652.2 1935.9h0M652.2 1932.1h0M651.8 1928.4h0M652.3 1925h0M652.5 1919.9h0M652.2 1914.8h0M651.8 1906.7h0M652.4 1901.6h0M652.3 1892.6h0M652.5 1889.1h0M651.8 1883.7h0M651.8 1878.7h0M651.8 1875.3h0M651.9 1870.4h0M652.4 1866.2h0M652.3 1859.7h0M652.2 1855.4h0M654.8 1928.8h0M654.7 1923.8h0M655.3 1920.3h0M654.8 1909.7h0M655.1 1904.5h0M655 1901.4h0M654.7 1892.4h0M655 1889.2h0M655 1885.2h0M654.6 1879.8h0M654.8 1875.7h0M654.8 1870.7h0M655 1861h0M655 1850.3h0M654.6 1845.4h0M655 1841.6h0M658.6 1927.6h0M658.2 1922.8h0M658.6 1921.2h0M661.4 1931.9h0M662.3 1927.7h0M662.1 1924.7h0M661.4 1921.5h0M662.2 1918.1h0M662.1 1914.7h0M661.4 1910.5h0M662.1 1903.7h0M661.8 1888.8h0M661.8 1884.8h0M664.6 1931.3h0M665.3 1925.4h0M664.7 1921.4h0M665 1910.8h0M666.5 1928.6h0M667 1925.2h0M666.7 1920.3h0M669.7 1925.9h0M669.8 1915.2h0M669.4 1914.1h0M671.3 1926.3h0M671 1922.4h0M671.8 1914.6h0M671.8 1909.3h0M671.4 1907.8h0M675.4 1927.7h0M675.2 1923.9h0M677 1927.6h0M677.1 1922h0M676.9 1918.1h0M677.5 1906.9h0M677.3 1901.6h0M676.9 1894h0M677.1 1884h0M678.7 1926.6h0M678.5 1923.4h0M678.5 1918h0M678.6 1914.9h0M679.2 1910.6h0M679.1 1904.7h0M678.9 1902.8h0M681.6 1925.4h0M681.5 1921.6h0M681.7 1918.4h0M681.3 1913.9h0M681.4 1907.7h0M684.1 1926.2h0M684 1921.1h0M683.5 1918.1h0M683.2 1913h0M683.9 1908.4h0M683.9 1904.4h0M684 1899h0M683.5 1893h0M683.4 1884.3h0M683.7 1879.1h0M683.3 1874.7h0M683.6 1854.1h0M685.3 1927.3h0M686.2 1922.8h0M686.3 1916.9h0M686 1912.2h0M685.9 1906.8h0M685.7 1903.1h0M685.4 1898.6h0M686 1895.8h0M685.6 1890.5h0M685.9 1886h0M685.9 1880.3h0M686.3 1860.4h0M685.4 1856.1h0M686 1847.4h0M686.1 1841.3h0M685.8 1838h0M687.5 1928.5h0M687.3 1923.6h0M687.3 1920.1h0M687.3 1916.2h0M688.1 1911.9h0M687.6 1904.4h0M689.1 1930.9h0M689.6 1927.5h0M689.3 1921.5h0M689.6 1917.3h0M689.4 1915h0M691.2 1934h0M691.3 1931.2h0M691.5 1927.2h0M690.9 1923h0M691.3 1918.4h0M691 1912.5h0M691.1 1899.3h0M694.7 1935h0M695.2 1931.5h0M694.6 1926.1h0M694.6 1921.7h0M694.8 1916h0M694.8 1914h0M697.5 1932.9h0M697.9 1928.9h0M697.5 1925.2h0M697.5 1916.6h0M697.8 1911.1h0M697.2 1908.2h0M697.4 1902.7h0M697.9 1899.7h0M698.1 1888.6h0M697.9 1881.3h0M697.2 1875.7h0M697.3 1862.3h0M697.3 1854.5h0M697.7 1854.1h0M584.5 1815.8h0M586.8 1861.4h0M586.3 1844.4h0M584 1848.7h0M583.6 1837.8h0M587.4 1876.1h0M582.8 1863.1h0M583.4 1832.8h0M585.3 1843.8h0M584.5 1823.2h0M582.1 1861.8h0M585.6 1849h0M584.2 1856.4h0M585 1871.7h0M584.1 1843h0M586.5 1874.6h0M584.8 1873.3h0M583.6 1830.1h0M585.2 1845.7h0M585 1816.9h0M584.5 1867.1h0M585 1817.1h0M585.1 1847.5h0M585.5 1856.1h0M586.3 1847.2h0M587 1875.2h0M583.6 1858.5h0M592.4 1829.7h0M591.7 1852.5h0M593.7 1873.8h0M593.7 1869.5h0M593.3 1876.9h0M593.1 1849.8h0M592.7 1847.1h0M593.2 1841.6h0M591.6 1857.5h0M590.5 1874.5h0M593.6 1874.7h0M593 1841.1h0M593.9 1861h0M603.1 1831.7h0M602.8 1859.6h0M601.2 1871.2h0M601.4 1866.1h0M602 1847.5h0M602.8 1869.2h0M602.1 1864.4h0M603.7 1864.5h0M603.1 1838.9h0M601.9 1864.2h0M602.2 1861.9h0M604.3 1851.4h0M605.4 1871.5h0M651.8 1774.3h0M652 1796.2h0M652.6 1809.7h0M652.7 1797.3h0M652.8 1795.2h0M650.8 1798h0M650.7 1807.7h0M650.5 1805.4h0M651.9 1815.5h0M650.6 1807.4h0M667.6 1796h0M667 1859.6h0M668.7 1827.5h0M667.6 1803h0M668.5 1810.3h0M665 1877.9h0M667.5 1846.2h0M668.8 1865.6h0M669.2 1836h0M666.5 1821.2h0M665.6 1872.5h0M667.6 1821.3h0M666.4 1835.4h0M667.5 1880.4h0M666.3 1870.4h0M666 1879.2h0M668.3 1878.8h0M669.2 1883.2h0M667.8 1859.1h0M667.3 1875.3h0M668.7 1811.7h0M668.6 1871.8h0M666.2 1867.5h0M669 1846.1h0M670.1 1882.6h0M668.2 1818.6h0M667.2 1853.3h0M683.5 1817.8h0M682.6 1833.4h0M683.4 1851.6h0M683.1 1839.9h0M684.4 1856h0M682.2 1857.8h0M682.9 1872.1h0M685.7 1875.4h0M683.6 1831.4h0M682.9 1875.7h0M682.8 1855.6h0M683 1822h0M683 1830.2h0M697.3 1857.4h0M697.8 1888.2h0M698.8 1899.3h0M698.8 1877.8h0M697.7 1888.4h0M698.8 1896.4h0M698 1877.7h0M698.8 1875.1h0M698.8 1872.6h0M695.5 1863h0M695.2 1885.4h0M694.7 1883.6h0M698.8 1895.5h0M698.8 1890.2h0M698.8 1900.7h0M693.3 1891.2h0M697.1 1862h0M695.6 1900h0M693.8 1885.9h0M698.8 1880h0M698.8 1886.7h0M642.7 1853.5h0M642.1 1855h0M643.7 1864.4h0M643.8 1860.6h0M644 1868.2h0M641.9 1877.6h0M642.1 1892.1h0M640.5 1883.7h0M645.3 1887.9h0M643.3 1861.1h0M641.5 1868.3h0M558.7 1857.4h0M560.5 1870.4h0M567.4 1884.2h0M560.9 1885h0M553.8 1877.6h0M559.5 1879.2h0M563.2 1870.3h0M555.2 1867.4h0M555.7 1864.4h0M562.9 1876.1h0M558.7 1864.4h0M559.5 1875.7h0M559.2 1871.7h0M556.1 1858.6h0M555.6 1872h0M554.7 1879.9h0M554.5 1881.4h0M558.5 1862.1h0M556.8 1871h0M554.4 1880.1h0M563.6 1878h0M558.8 1872.7h0M560.5 1883.5h0M704.5 1748.5h0M698.8 1751.3h0M698.8 1750h0M698.8 1750.1h0M704.5 1774.3h0M698.8 1782.6h0M698.8 1783.8h0M698.8 1779.8h0M698.8 1780.8h0M554 1843.6h0M620.1 1889.1h0M642.7 1847.5h0M651.8 1853.5h0M702.1 1712.9h0M704.5 1813.9h0M697.3 1826.9h0M683.5 1848.7h0M667.6 1813.9h0"/>
<path fill="#BEBEBE" d="M701.3 2105L701.3 1913.4L705.3 1913.4L706.8 1917.6L708.3 1922.8L709.8 1926.4L711.3 1927L712.8 1928.1L714.3 1933.9L715.8 1929.4L717.3 1927.1L718.8 1920.7L720.3 1919.1L721.8 1938.5L723.3 1928.1L724.8 1930.8L726.3 1936.5L727.8 1926.6L729.3 1932.5L730.8 1936.8L732.3 1946.4L733.8 1931.5L735.3 1939.1L736.8 1937.2L738.3 1924.2L739.8 1923.3L741.3 1919.2L742.8 1915.6L744.3 1927.7L745.8 1912.5L747.3 1921.5L748.8 1920.2L750.3 1919.4L751.8 1927.5L753.3 1923.4L754.8 1919.7L756.3 1919.3L757.8 1912.4L759.3 1919.4L760.8 1918.6L762.3 1919.4L763.8 1914.2L765.3 1901.5L766.8 1916.4L768.3 1920.7L769.8 1925L771.3 1925.1L772.8 1929.1L774.3 1937.1L775.8 1926.8L777.3 1929L778.8 1924.7L780.3 1936L781.8 1933.4L783.3 1922.5L784.8 1929.1L786.3 1917.3L787.8 1915.5L789.3 1915.8L790.8 1916.4L792.3 1920L793.8 1923L795.3 1928.9L796.8 1927.8L798.3 1914.5L799.8 1919.1L801.3 1918.4L802.8 1916.8L804.3 1919.9L805.8 1915.8L807.3 1918.8L808.8 1915.9L810.3 1925.3L811.8 1932.5L813.3 1926.2L814.8 1921.8L816.3 1914.4L817.8 1919.1L819.3 1926.4L820.8 1924.5L822.3 1931.2L823.8 1933.1L825.3 1940.4L826.8 1945.9L828.3 1938.2L829.8 1939.5L831.3 1941.2L832.8 1938.9L834.3 1930.9L835.8 1937.2L837.3 1938.6L838.8 1934.5L840.3 1947.2L841.8 1940.8L843.3 1950L844.8 1952L846.3 1948.6L847.8 1942L849.3 1951.7L850.8 1945.1L852.3 1947.6L853.8 1954.7L855.3 1944.3L856.8 1949.2L858.3 1948.8L862.3 1948.8L862.3 2105Z"/>
<path fill="none" stroke="#BEBEBE" stroke-width="9" stroke-linecap="round" d="M705.8 1921.1h0M705.1 1916.9h0M705.7 1913.7h0M705.2 1910.3h0M705.2 1905.9h0M705.6 1900.6h0M705.5 1897.2h0M706 1892.3h0M705.5 1889.4h0M705.8 1885.9h0M705.4 1879.9h0M705.5 1874.9h0M705.6 1870.3h0M707.5 1923.4h0M708 1913h0M709.5 1927.1h0M709.5 1923.6h0M710 1918.2h0M709.2 1912.7h0M709.7 1908.3h0M710 1903.2h0M709.8 1900.2h0M709.1 1897h0M709.5 1879.9h0M711.1 1931.1h0M710.5 1925.5h0M710.5 1919.8h0M710.3 1915.8h0M711.2 1912.8h0M710.8 1911.1h0M713.2 1936h0M713.4 1930.3h0M712.9 1929.7h0M716.3 1929.5h0M716.4 1925h0M716.7 1921h0M716.6 1917.4h0M716.8 1912.9h0M716.4 1909.5h0M716.3 1898.8h0M716.5 1893h0M716.6 1892.7h0M719.2 1924.8h0M718.6 1920.4h0M718.7 1916.1h0M719.1 1912.1h0M719.2 1908.6h0M719 1903.7h0M718.5 1898.6h0M719.4 1894.6h0M718.9 1889.6h0M722.1 1930.6h0M722.5 1927.4h0M722.2 1923.8h0M724.4 1932h0M724.8 1926.8h0M724.4 1921.2h0M724.2 1913.9h0M724.4 1907.7h0M727.8 1931.3h0M727.7 1927.8h0M728 1920.4h0M727.8 1916.7h0M727.7 1912.6h0M728 1907.3h0M727.9 1906.9h0M729.8 1936.8h0M729.3 1931.9h0M729.7 1922.8h0M729.5 1918.9h0M729.7 1914h0M729.5 1910.7h0M730 1906.5h0M729.5 1896.1h0M729.6 1890.7h0M731.6 1942.9h0M731.5 1936.9h0M731.9 1933.3h0M731.6 1932.2h0M734.6 1943.2h0M734.5 1940h0M734 1932.6h0M733.9 1929.8h0M734.3 1925.7h0M734.3 1921.9h0M734.3 1915.9h0M734.3 1912h0M736.9 1939.7h0M736.6 1935.7h0M736.1 1931.1h0M736.1 1925.2h0M736.3 1920.2h0M737 1912.4h0M736.2 1908.4h0M736.5 1903.4h0M736.8 1899.2h0M737 1887.9h0M736.5 1882.9h0M736.2 1878.5h0M736.2 1866.6h0M736.6 1862.2h0M736.6 1858.9h0M736.5 1856.3h0M738.6 1932.8h0M738.6 1929h0M741.6 1925h0M741.9 1920.7h0M741.8 1915.4h0M742 1909.5h0M741.4 1906.3h0M742.2 1895.2h0M742.2 1887.3h0M741.8 1878.8h0M744.2 1922.5h0M744 1916.8h0M744 1912.8h0M744.1 1908h0M744.5 1904.6h0M746.9 1922.9h0M746.2 1913h0M746.1 1901.9h0M746.5 1897h0M749.5 1925h0M749.1 1921.7h0M748.8 1916.4h0M749.1 1910.5h0M751.5 1927.2h0M751 1923.6h0M751.6 1920h0M751.1 1916h0M751 1903.8h0M751.1 1903h0M754.1 1926.9h0M754.1 1923.6h0M753.8 1919.1h0M754.4 1913.9h0M754.2 1910.8h0M754.2 1906.4h0M753.6 1902.8h0M754.1 1900.4h0M756.1 1923h0M755.7 1918.2h0M756.4 1912.9h0M756.3 1907.5h0M756.5 1903.2h0M755.9 1899.8h0M755.7 1895.3h0M755.7 1889.6h0M755.7 1886.2h0M756 1881.8h0M756.3 1871h0M755.7 1866.3h0M756.3 1861h0M756.2 1857.4h0M755.6 1853.3h0M756.3 1845.1h0M755.8 1836.3h0M756 1833.8h0M757.9 1917.5h0M757.9 1913.9h0M758.2 1909.8h0M757.5 1906.6h0M758.2 1902.7h0M758.2 1893.8h0M757.5 1885.6h0M757.9 1879.7h0M757.6 1869.9h0M758 1861.6h0M757.7 1857.2h0M758.3 1849.5h0M758 1844h0M759.4 1916.2h0M758.9 1910.6h0M759.5 1906.8h0M759.4 1903.3h0M759.2 1898.3h0M759.1 1894.5h0M759.1 1891.2h0M759.3 1885.8h0M759.5 1880.4h0M759.2 1874.4h0M759.3 1871h0M759.3 1866.8h0M759 1858.9h0M759.4 1852.9h0M759.5 1847.4h0M758.8 1843.7h0M759.6 1835.9h0M759.3 1832.2h0M759.3 1822.3h0M760.7 1917.3h0M761 1913h0M760.8 1908.3h0M761 1902.4h0M761.1 1897.3h0M760.7 1894h0M760.8 1890.7h0M761.2 1887.6h0M760.9 1880.1h0M761.4 1874.6h0M761.6 1867.2h0M761.4 1864.1h0M761.2 1861.8h0M764.3 1919.2h0M764.1 1915.8h0M764.1 1911.1h0M764.6 1906.1h0M763.9 1901.7h0M764.3 1898.9h0M766.7 1920.8h0M766.6 1916.6h0M767 1900.9h0M767.2 1887.8h0M767 1884.4h0M767.1 1880.9h0M767 1874.6h0M766.5 1869.5h0M766.8 1865.9h0M769 1925.9h0M769.3 1920.8h0M769.1 1916.7h0M769.6 1907.3h0M769.3 1899.3h0M769.4 1887.7h0M769 1883.4h0M768.8 1872.4h0M768.8 1869h0M768.8 1865.1h0M769.5 1860h0M769 1852.2h0M769 1849.4h0M769.1 1847.6h0M772.1 1934.8h0M772.3 1928.8h0M772.6 1927.3h0M774.2 1935.7h0M773.9 1931.2h0M774.6 1925.2h0M774.5 1919.5h0M774.4 1916.6h0M774.4 1911.5h0M773.9 1908.2h0M774.3 1904h0M774.6 1894.5h0M774 1889h0M774.1 1888.3h0M776.2 1933.4h0M776.8 1923.4h0M776.3 1918h0M776 1912.7h0M776.4 1900.9h0M778 1931.8h0M778.3 1921.8h0M778 1921h0M779.7 1927.8h0M779.6 1924.9h0M780.1 1919h0M779.4 1913.6h0M779.6 1909.8h0M779.5 1904.8h0M779.2 1896.5h0M779.7 1894h0M781.5 1930.7h0M781.2 1920h0M780.9 1917.2h0M781.2 1912.3h0M781.1 1908.3h0M781.4 1905.1h0M781.2 1900.3h0M781.5 1889.4h0M781.1 1887.8h0M783.5 1928.4h0M783.2 1922.6h0M783.4 1918.6h0M783.2 1913.7h0M783.6 1907.9h0M783.2 1900.3h0M783.3 1890.3h0M783.1 1889.1h0M786.6 1919.4h0M786.2 1918.9h0M789.6 1919.8h0M789.4 1914.3h0M789.5 1910.8h0M789.6 1906h0M789.9 1900.1h0M789.4 1896.4h0M789.2 1892.5h0M789.9 1887.8h0M789.5 1884.9h0M789.8 1879.1h0M789.9 1874.9h0M789.1 1871.9h0M789.7 1868.6h0M789.8 1863.9h0M789.8 1859.4h0M789.9 1853.9h0M789 1848.5h0M789.5 1828.5h0M792.7 1925.7h0M793.2 1920.7h0M792.6 1916h0M793.2 1911.4h0M792.9 1907.8h0M794.9 1929.6h0M795 1926.4h0M794.6 1922.6h0M795.1 1917.2h0M794.6 1913.9h0M794.3 1908.2h0M794.9 1902.9h0M794.9 1899.8h0M794.7 1894.2h0M794.5 1891.2h0M795 1880.5h0M794.6 1877.2h0M794.8 1871.3h0M797.2 1930.9h0M796.8 1926h0M796.9 1922h0M800.6 1925.6h0M800.3 1919.9h0M800.8 1916.8h0M801 1913.4h0M800.9 1909h0M800.2 1903.3h0M800.5 1891h0M803.1 1921.3h0M803.1 1916.1h0M807.2 1920.7h0M806.9 1917.4h0M807.2 1911.7h0M807.1 1903.3h0M806.4 1895.4h0M806.7 1889.7h0M810.4 1925h0M810.9 1920.8h0M810.3 1914.9h0M810.5 1911.7h0M811 1907h0M810.4 1902.8h0M810.4 1894.7h0M810.5 1891h0M810.5 1886.3h0M812 1926.5h0M812.7 1922.5h0M812.2 1918.9h0M811.8 1914.4h0M812.5 1911.3h0M812.3 1906.6h0M814.4 1927.6h0M813.9 1922.7h0M814.6 1918.3h0M814.3 1913.4h0M814 1909.8h0M814.6 1904.4h0M814.2 1895.6h0M814.8 1891h0M814.5 1886h0M814.1 1882.8h0M814.4 1881.3h0M816.1 1927.7h0M815.5 1922.4h0M815.5 1918.8h0M815.9 1913.6h0M816.2 1902.9h0M815.7 1902.6h0M819.2 1925.8h0M819 1921.7h0M819.2 1920.6h0M822.7 1931h0M822.7 1926.6h0M822.4 1926.4h0M824.7 1938.9h0M824.9 1933.9h0M827.5 1942.7h0M827.4 1939.2h0M827.1 1934h0M827.2 1930.1h0M827.3 1925.4h0M830.3 1943.6h0M829.7 1940.4h0M830.1 1937.2h0M830.5 1933.5h0M830.3 1929.7h0M830.5 1925.1h0M829.9 1919.2h0M830 1915.3h0M830.4 1909.5h0M830.5 1905.7h0M829.7 1902h0M829.7 1898h0M830 1894.3h0M830.3 1890.5h0M830.5 1885.3h0M830 1879.9h0M830.5 1876h0M830.5 1871.2h0M830.3 1865.5h0M830.4 1861.9h0M830.2 1857.9h0M830.1 1850.5h0M834 1942.8h0M833.4 1939.8h0M833.5 1936.5h0M833.9 1931.1h0M833.8 1926h0M835.7 1941.3h0M835.9 1933h0M835.5 1923.3h0M835.8 1917.4h0M835.5 1912.1h0M835.6 1900.6h0M835 1881.2h0M835.4 1880.6h0M837.1 1940.4h0M837.2 1927.2h0M837.4 1922.4h0M837.3 1918.2h0M837.4 1914.4h0M836.6 1910.7h0M836.9 1902h0M838.8 1941.1h0M838.5 1936.4h0M838.5 1930.5h0M838.1 1918.8h0M838.6 1913.7h0M838.9 1910.4h0M838.3 1902.9h0M838.6 1896.6h0M842.1 1947.8h0M841.6 1941.7h0M841.8 1937.8h0M842.6 1933.6h0M842.4 1924.1h0M842.2 1916.8h0M842 1911.5h0M842.1 1908.2h0M845 1948.9h0M845.4 1941.2h0M848.8 1952h0M848.8 1946.1h0M848.9 1941.4h0M848.6 1936.7h0M848.8 1932.5h0M848.6 1928.5h0M848.9 1921.3h0M848.8 1917.2h0M848.2 1913.2h0M848.5 1903.8h0M848.4 1895.2h0M848.4 1885.7h0M848.7 1878.8h0M850.8 1952.1h0M849.9 1946.9h0M849.8 1943.9h0M850.3 1938.5h0M850.3 1930.4h0M851.7 1952.3h0M851.6 1943.5h0M851.7 1939.5h0M851.5 1935.3h0M852.3 1930.1h0M851.9 1924.2h0M851.9 1921h0M851.4 1916.1h0M851.5 1912.9h0M852.2 1909h0M851.9 1904.5h0M851.8 1897.5h0M851.5 1891.7h0M851.7 1888.4h0M851.7 1880.2h0M851.5 1858.4h0M851.8 1856.2h0M854 1952.1h0M854 1948.4h0M855.7 1950.5h0M855.3 1945.5h0M855.8 1943.1h0M858 1946.2h0M858.3 1942.7h0M858 1938.8h0M858.2 1938.1h0M801.5 1813.9h0M802.4 1867h0M802.6 1862.3h0M800.4 1859.9h0M801 1820h0M801.5 1836.8h0M801.8 1868.6h0M800.9 1847.5h0M802.4 1876.4h0M800.5 1842.2h0M800.6 1876.4h0M800.2 1869.8h0M801.1 1859.9h0M864.9 1829.7h0M858.8 1855.1h0M858.8 1834.7h0M858.8 1853.3h0M858.8 1849.6h0M858.8 1840.4h0M858.8 1834.1h0M858.8 1832.3h0M858.8 1842.3h0M769.8 1837.6h0M773.3 1858.9h0M767.6 1851.5h0M771.3 1865.6h0M767 1861.5h0M765.4 1873.4h0M768.3 1848.3h0M769.6 1861.7h0M771.8 1863h0M769.4 1874h0M771.3 1841.3h0M769.1 1839.6h0M770.4 1846.8h0M765.9 1870.6h0M772.2 1853.5h0M765.9 1867.6h0M785.6 1837.6h0M786.8 1867.5h0M784.6 1857.9h0M784.9 1866.6h0M784.9 1846.4h0M784.5 1857.6h0M785.8 1857h0M785.3 1863h0M783.9 1871.1h0M786.9 1854.9h0M787.5 1873.1h0M817.3 1865.3h0M817.6 1888h0M817.9 1888.5h0M816.3 1870.9h0M818.8 1870.2h0M816.8 1877.2h0M814.5 1882.8h0M819.7 1886.7h0M820.6 1888.7h0M815.3 1877.1h0M818.9 1887.9h0M845 1877.2h0M843.9 1888.5h0M846.9 1883.1h0M847.6 1890.5h0M843.7 1887.8h0M847.2 1891.6h0M843.4 1898.9h0M844.1 1895.3h0M847.9 1898.5h0M843.8 1892.5h0M847.7 1886.2h0M719.4 1811.9h0M718.2 1876.2h0M718.5 1823.9h0M716.1 1885.9h0M719.6 1876.8h0M719.6 1860.7h0M719.7 1850.9h0M720.7 1824.4h0M718.3 1825.7h0M720.2 1868.3h0M720.6 1876.6h0M716.3 1883.9h0M718.8 1814.4h0M717.2 1874.9h0M720.8 1859.2h0M719.5 1830.8h0M721.1 1882.2h0M719.3 1850h0M721.3 1841h0M720.6 1875.1h0M720.4 1843h0M720.9 1856.2h0M721.1 1847.5h0M719.1 1869.1h0M721.1 1861.3h0M721.8 1859.1h0M720.3 1813.8h0M719.3 1870.9h0M717.1 1879.2h0M753.8 1827.9h0M755.4 1854.5h0M752.4 1879.8h0M755.6 1887.6h0M752.1 1833.8h0M754.1 1836.6h0M752.1 1853.6h0M750.3 1860.7h0M757.7 1883.8h0M753.3 1866.7h0M754.5 1852.7h0M757.3 1855h0M756.4 1885.9h0M749.2 1879.9h0M753 1840.4h0M753.4 1840.6h0M757.8 1887.3h0M750.5 1886h0M750.8 1847.3h0M750.8 1850.6h0M752 1865.1h0M754.4 1872.5h0M751.9 1868.7h0M755.7 1875.5h0M753.5 1874.5h0M752 1861.6h0M753.6 1833.3h0M750.8 1869.6h0M758 1881.5h0M757.3 1881.2h0M751 1863h0M755.4 1850.5h0M749.2 1887.2h0M753.2 1829.3h0M754.5 1855.2h0M781.8 1835.9h0M783.2 1846h0M784.2 1859h0M780.7 1858.5h0M784 1850h0M784.2 1870.9h0M781.9 1842.5h0M785.7 1877.1h0M778.1 1885.4h0M784.8 1860.7h0M785 1868.4h0M779.3 1854.5h0M779.6 1885.8h0M780.8 1869.6h0M785 1870.4h0M785.3 1885.8h0M783.5 1854.7h0M781.5 1838.5h0M779.5 1885.7h0M782.3 1860.4h0M782.9 1853.6h0M778.6 1873.7h0M777.8 1884.8h0M712.2 1831.9h0M711.8 1874.6h0M711.5 1845h0M713.3 1887.8h0M712.9 1863.1h0M713.7 1886.6h0M711.6 1866.8h0M713.5 1866.1h0M712.7 1876.1h0M711.9 1881.2h0M713.2 1868.1h0M712.9 1848.6h0M712.3 1835.4h0M755.9 1804h0M801.5 1802h0M817.3 1819h0M845 1778.2h0M845 1790.1h0M860.1 1807.9h0M865.6 1823.8h0M844.3 1832.9h0M735.4 1771.9h0M741.8 1799.9h0M757.8 1803.9h0M817.8 1819.9h0M717.1 1817h0M738.1 1773.5h0"/>
<path fill="#0000FF" d="M861.3 2105L861.3 1935.5L865.3 1935.5L866.8 1930.9L868.3 1931.6L869.8 1936.3L871.3 1933.3L872.8 1938.1L874.3 1941.6L875.8 1944.5L877.3 1944L878.8 1946.5L880.3 1942.1L881.8 1936.8L883.3 1937.6L884.8 1935.1L886.3 1933L887.8 1927.3L889.3 1924.3L890.8 1921.5L892.3 1934.1L893.8 1926.4L895.3 1926.4L896.8 1920L898.3 1927.5L899.8 1927.6L901.3 1935.2L902.8 1936.7L904.3 1944.6L905.8 1949.6L907.3 1951.4L908.8 1952.8L910.3 1943.2L911.8 1936.9L913.3 1932.7L914.8 1936.8L916.3 1935.4L917.8 1938.1L919.3 1948.7L920.8 1941.8L922.3 1944.4L923.8 1943.3L925.3 1939.5L926.8 1940.8L928.3 1932.9L929.8 1928.2L931.3 1933.2L932.8 1935.7L934.3 1936.7L935.8 1937.8L937.3 1936.7L938.8 1942.1L940.3 1936L941.8 1938.4L943.3 1932.7L944.8 1931.4L946.3 1930.2L947.8 1938.4L949.3 1944.5L950.8 1948.1L952.3 1945.2L953.8 1952L955.3 1953.2L956.8 1947.4L958.3 1949.4L959.8 1942.1L961.3 1935.8L962.8 1939.5L964.3 1931.1L965.8 1933.1L967.3 1922.5L968.8 1925.6L970.3 1929.1L971.8 1935.1L973.3 1923.9L974.8 1939.4L976.3 1940.6L977.8 1938.9L979.3 1940.4L980.8 1940.9L982.3 1939.8L983.8 1940.7L985.3 1931.3L986.8 1932.3L988.3 1939.1L989.8 1927.6L991.3 1936.7L992.8 1933L994.3 1944.3L998.3 1944.3L998.3 2105Z"/>
<path fill="none" stroke="#0000FF" stroke-width="9" stroke-linecap="round" d="M865.2 1936.9h0M865.3 1931.1h0M865.5 1926.9h0M865.8 1924.1h0M865.9 1920.8h0M865.6 1918.4h0M868.6 1935.9h0M869 1930.6h0M868.8 1927.7h0M869.1 1924.1h0M872.4 1938.9h0M872.6 1933.9h0M872.8 1925.7h0M873.1 1922.3h0M872.5 1918.5h0M872.8 1915.3h0M873.1 1909.5h0M872.5 1904.5h0M873 1895.3h0M872.5 1890.5h0M873.3 1886.2h0M872.9 1884.8h0M875.3 1946.1h0M875.3 1941.2h0M875.5 1931.1h0M878.2 1950.6h0M878.5 1943.6h0M878.9 1938.4h0M878 1933.4h0M878 1930.4h0M878.5 1922.5h0M882.4 1945.6h0M882 1941.6h0M881.7 1935h0M881.9 1932.5h0M884.3 1936.7h0M884.1 1931.8h0M884.5 1926.5h0M885 1922.3h0M884.1 1911.3h0M884.3 1903.3h0M884.5 1897.9h0M885.7 1933.6h0M885.8 1923.9h0M888.4 1931.2h0M888.2 1925.7h0M891.1 1931.2h0M891.8 1928.3h0M891.2 1922.8h0M891.3 1917.2h0M891.9 1904.7h0M891.4 1894.4h0M892.7 1932.3h0M893.4 1928.4h0M892.6 1925.4h0M893.1 1919.3h0M893.2 1910.9h0M892.9 1905.9h0M896.8 1933h0M896.4 1927.8h0M896.1 1923.1h0M896 1919.2h0M896.6 1914.1h0M896.8 1910.6h0M896.5 1905.7h0M896.1 1901.6h0M896.5 1893.9h0M898.2 1931.3h0M898.2 1928.3h0M898.2 1925.3h0M901.9 1933.4h0M901.6 1928.6h0M901.4 1920.4h0M901.4 1916.8h0M901.3 1913.9h0M901.5 1910.3h0M901.5 1907.4h0M901.6 1903.5h0M902.1 1899.6h0M901.3 1894.4h0M902.1 1886.5h0M901.8 1880.8h0M901.8 1879h0M903.5 1938.9h0M903.4 1934h0M905.8 1949.1h0M906.6 1946.2h0M906.5 1940.5h0M905.9 1937.1h0M906.6 1931.4h0M906.4 1923.7h0M905.8 1920.1h0M905.9 1914.7h0M906.4 1911h0M906.3 1901.1h0M905.9 1897.8h0M906.6 1894.7h0M905.9 1889.7h0M906.2 1888.1h0M908.9 1949.4h0M909.1 1944.6h0M908.9 1943.7h0M911.5 1941.9h0M911.6 1936h0M912.1 1931.4h0M911.8 1926.1h0M911.3 1915.2h0M911.4 1910.5h0M911.8 1905.2h0M911.8 1900.8h0M911.6 1883.8h0M915.1 1940.4h0M915.3 1937.5h0M915.3 1933.7h0M915.2 1930.6h0M915.3 1926.6h0M915.3 1924.4h0M917 1943.8h0M916.8 1937.8h0M916.9 1933.9h0M916.5 1928.5h0M916.8 1925h0M917.4 1916.6h0M917.2 1911.7h0M917.4 1907.8h0M916.9 1905.2h0M919.5 1945h0M920.1 1940.1h0M920.1 1936.1h0M919.7 1935.6h0M922.1 1942.9h0M921.9 1939.7h0M921.9 1936.6h0M921.3 1931.4h0M922 1925.7h0M921.3 1917h0M921.3 1912.5h0M922 1906.9h0M921.6 1903.5h0M922.1 1900.4h0M921.6 1896.7h0M924.6 1942.6h0M923.8 1936.6h0M924 1931h0M924.3 1927.7h0M923.9 1923.4h0M924 1918.2h0M924.2 1903.8h0M924.2 1902.6h0M927 1942.7h0M927.4 1938.4h0M931 1938.1h0M931.1 1935h0M931.1 1933.6h0M933.3 1937.9h0M932.5 1935h0M933.3 1929.8h0M932.4 1922.6h0M933.3 1919.6h0M932.4 1915.6h0M932.5 1911.1h0M932.7 1906.3h0M932.9 1901h0M935.5 1940.8h0M936 1937.8h0M936.2 1926.2h0M936.4 1920.9h0M935.9 1916.3h0M937.1 1942h0M937.8 1937.2h0M938 1934.3h0M937.9 1930.6h0M937.6 1921.7h0M937.6 1918.8h0M937.5 1915.8h0M939.8 1941.5h0M939.7 1936.5h0M940.1 1931h0M942.3 1935.5h0M942.2 1929.9h0M942.3 1924.6h0M943.8 1939.9h0M943.5 1935.6h0M944.1 1931.1h0M944.2 1925.6h0M944 1921.8h0M944.3 1917.3h0M943.8 1912.8h0M943.6 1901.4h0M944.4 1896.5h0M944 1891.5h0M943.9 1886.4h0M943.7 1876.3h0M944.2 1872.6h0M944 1861.7h0M946.6 1940.4h0M946.1 1934.5h0M946.7 1930.5h0M947 1926h0M946.6 1921.7h0M948.2 1941.1h0M947.7 1936.1h0M948.1 1935h0M951.1 1945.6h0M951.6 1942.3h0M951.9 1939h0M951.5 1936.1h0M954 1949.4h0M954.3 1945h0M954.6 1941.7h0M954.5 1938.9h0M954.8 1933h0M954.1 1929.8h0M954.4 1925.9h0M954.4 1920.3h0M957.6 1948.5h0M958.4 1942.9h0M958.2 1938.4h0M958.2 1926h0M957.8 1920.9h0M958 1913.1h0M958 1910.7h0M959.9 1948h0M959.3 1944.3h0M959.8 1941.2h0M959.7 1935.8h0M959.6 1931h0M959.7 1926.4h0M959.8 1923.2h0M959.7 1918.5h0M959.5 1914.1h0M959 1911.2h0M959.5 1905.3h0M962.7 1940.6h0M963.3 1935h0M963.3 1930.1h0M963.1 1926.4h0M962.9 1917.4h0M963.1 1909.3h0M962.9 1903.6h0M963 1898.5h0M963.2 1894.9h0M963 1881.7h0M965.5 1930.4h0M966.1 1927.3h0M965.4 1922h0M966 1916.2h0M966.1 1910.5h0M965.5 1905.6h0M966 1900.8h0M965.1 1895.1h0M965.8 1889.7h0M966 1886.6h0M966.1 1882.6h0M965.6 1879.1h0M968 1925.9h0M968.8 1915.1h0M968.6 1909.9h0M968.5 1904.5h0M968.1 1901.1h0M968.2 1888.7h0M968.7 1881.6h0M968.3 1877h0M968.3 1869h0M968.3 1865.7h0M968.3 1864.7h0M971.1 1928.5h0M970.2 1925.2h0M970.7 1923.2h0M972.3 1931.7h0M972.3 1926.4h0M972.4 1925.6h0M975.4 1936.2h0M975 1932.8h0M975 1928.1h0M978.4 1942.3h0M977.8 1938.5h0M978.1 1933.9h0M978 1931.5h0M981 1944.9h0M981.2 1940.2h0M980.6 1936h0M980.7 1932.7h0M981.4 1927.7h0M980.7 1924.1h0M981.1 1920.8h0M981.1 1912.1h0M980.6 1907.2h0M981 1898.5h0M984.1 1939.3h0M984 1935.3h0M984.5 1931.8h0M984.7 1912.5h0M984.3 1909.8h0M987 1936.2h0M987.2 1932h0M987.5 1928.2h0M986.9 1919.8h0M987.3 1914.2h0M986.7 1909.6h0M987.4 1905.2h0M986.9 1901.7h0M987.2 1896.3h0M987.3 1893.3h0M987.1 1891.2h0M989.1 1936.5h0M988.6 1932.4h0M989.1 1927.9h0M988.5 1923.2h0M988.8 1914.2h0M988.2 1909.6h0M988.8 1904.4h0M988.7 1902.2h0M990.2 1937.4h0M989.6 1927.6h0M990.4 1921.6h0M990 1914.3h0M989.8 1911.2h0M990 1906.2h0M991.9 1938.9h0M991.8 1928.6h0M894.6 1766.3h0M895.7 1828.1h0M893.7 1814.9h0M896.7 1832.6h0M893.8 1834.9h0M895.3 1827.9h0M895.9 1828.9h0M894.2 1805.8h0M895.2 1826.4h0M895.9 1811.2h0M893.7 1771.7h0M893.2 1806.5h0M892.7 1829h0M893.3 1831.2h0M895.1 1782.1h0M894.2 1819.6h0M894.8 1814.7h0M894.6 1834.9h0M894.4 1811.2h0M895.2 1803h0M895 1780.1h0M895.8 1833.8h0M894 1811.4h0M893.7 1778.8h0M895.9 1811.2h0M893.1 1830.3h0M895.8 1823.7h0M898.5 1829.7h0M902.8 1870.8h0M897.1 1850h0M901.3 1873h0M896.2 1868.8h0M896.8 1893.8h0M895.4 1866.9h0M901 1871h0M900.2 1863h0M892.7 1871.7h0M895 1899h0M904.3 1875h0M894.7 1851.6h0M895.5 1851.5h0M898.8 1892.9h0M897.1 1836.3h0M894.6 1872.8h0M902.5 1859.1h0M895.5 1868.5h0M893.5 1878.2h0M900.3 1873.4h0M898.9 1841.3h0M900.9 1859.3h0M903.9 1879.3h0M894.4 1878.7h0M900.2 1849.9h0M891.9 1890.6h0M896.1 1866.7h0M902.9 1870h0M901.6 1875.8h0M895.3 1888h0M896.9 1879.4h0M898.9 1870.4h0M894 1882.3h0M893.3 1892.2h0M902 1859.5h0M896.3 1900.2h0M890.9 1898.4h0M893.6 1898.6h0M900.1 1835.5h0M900.5 1847.9h0M896.5 1831.4h0M894.2 1862.7h0M896.7 1870.2h0M898.4 1886.5h0M904.2 1899.1h0M901.9 1848.7h0M899.5 1895.3h0M894.5 1873.8h0M895.7 1860.1h0M899.5 1850.7h0M901.2 1860.3h0M902.7 1876.7h0M900.9 1841.2h0M900.1 1872.6h0M900.3 1854h0M901 1866h0M893.9 1877.3h0M901 1858.6h0M899.2 1832.9h0M901.2 1874.9h0M898.3 1860.7h0M901.5 1870.6h0M898.6 1839.7h0M899.3 1855.6h0M895.8 1855.6h0M902.1 1853.5h0M902.5 1863.1h0M895.2 1886.3h0M892.3 1875.5h0M900.6 1897.4h0M926.2 1669.3h0M926.3 1699.7h0M926.7 1761.6h0M927.1 1731h0M925 1779h0M927.5 1804h0M926.7 1733.4h0M927.5 1809h0M926.7 1690.7h0M926.8 1724.3h0M926.1 1787.3h0M927.3 1814.1h0M927.9 1825.1h0M926.9 1772.4h0M925.9 1785.2h0M926.3 1762.2h0M925.8 1718.8h0M927.4 1807.1h0M926.8 1788.7h0M926.4 1763.7h0M924.8 1784.7h0M927.4 1754.3h0M926.2 1717.1h0M925.9 1692.3h0M924.7 1804.6h0M927.2 1801.5h0M925.4 1810h0M925.8 1817.6h0M927.3 1755.3h0M926.7 1768.5h0M925.5 1699.3h0M925.4 1727h0M925.4 1804.6h0M926.9 1820.7h0M926.6 1714.6h0M926.3 1735.6h0M926.7 1691.9h0M926.5 1800h0M925.8 1787.8h0M926 1702.7h0M926.4 1794.1h0M925.8 1704.1h0M925 1758.8h0M926.2 1684.5h0M926.9 1703.9h0M926.6 1702.9h0M925.6 1801h0M927.6 1768.1h0M925.9 1778.2h0M925.4 1822.9h0M925.6 1820.5h0M925.8 1751.1h0M927.3 1782.8h0M925.3 1787.6h0M927 1824.6h0M927.1 1763.2h0M926.4 1698.6h0M927.1 1799.9h0M924.9 1785.5h0M925.7 1759.3h0M925.9 1777h0M926.3 1756.1h0M927.3 1774.4h0M925.8 1729.9h0M925.5 1713.3h0M927.6 1807.7h0M926 1702.4h0M927.5 1814.4h0M928 1823.2h0M925.3 1733.3h0M926.2 1724.6h0M930.2 1847.5h0M928 1850.5h0M933.6 1887h0M925.5 1864.6h0M923.7 1877.7h0M925.5 1861.9h0M939.1 1906.1h0M933.1 1854h0M933.8 1908.5h0M935.1 1875.6h0M925.3 1858.1h0M923 1914.5h0M936.6 1912.4h0M926.2 1854.5h0M922.7 1897.5h0M933.9 1898.6h0M929.9 1870.7h0M935.3 1869.2h0M934.2 1896.6h0M921 1896h0M937.1 1910.8h0M931.9 1889.7h0M935 1888.3h0M925.9 1890.8h0M924.7 1889.7h0M930.4 1848.8h0M935.6 1910h0M930.3 1869h0M931.8 1893.8h0M930.4 1886.2h0M938.5 1899.9h0M935.6 1889.7h0M921.9 1899.4h0M927.5 1872.7h0M930.1 1879.3h0M937.8 1875.2h0M927.3 1902.5h0M939.6 1900.6h0M931.8 1865h0M927 1914.7h0M937.7 1910.4h0M924.6 1877h0M928.2 1906.5h0M929.6 1879.1h0M939.1 1902.2h0M936.9 1912.4h0M928.5 1866.3h0M927.7 1849.2h0M925 1878.4h0M923.4 1887.3h0M928.3 1897.9h0M932.9 1871.8h0M922.6 1877.6h0M936.3 1908.2h0M925.1 1910.4h0M933.1 1873h0M935.9 1863.9h0M931.2 1897.9h0M928 1855h0M938.7 1883.9h0M931.3 1863.8h0M935.2 1857.7h0M937.3 1903.2h0M922.9 1903.3h0M923.6 1871.4h0M921.9 1891.9h0M925.9 1867.3h0M937.5 1912.6h0M937.3 1874.6h0M925.7 1865h0M935.4 1881.2h0M933.4 1859.7h0M936.1 1891.4h0M922.8 1878.1h0M932.7 1859.8h0M935.2 1889.2h0M927.2 1868.2h0M935 1869.1h0M922.6 1900.7h0M919.8 1902h0M925.7 1886.6h0M965.8 1829.7h0M966.8 1849.1h0M964.6 1847.6h0M966.1 1831.9h0M963.9 1847.8h0M967.6 1850.5h0M965.9 1840.8h0M967.5 1846.9h0M965.9 1846.9h0M987.6 1699h0M987.6 1721.8h0M987.7 1701.1h0M987.4 1713.3h0M987.2 1712.8h0M988 1710.6h0M987.5 1724.3h0M986.8 1723.5h0M988 1715.9h0M987.4 1722h0M987.6 1742.6h0M988.7 1777.9h0M988.2 1835.4h0M986.5 1803.3h0M987.3 1831h0M988.4 1866h0M987.9 1851.7h0M986.1 1851.4h0M988 1876.9h0M986.5 1834.1h0M988 1764.9h0M988.3 1848.5h0M987.6 1790.9h0M988.2 1853.1h0M985.7 1868h0M985.6 1853.8h0M987.8 1837.2h0M987.5 1761.7h0M989.1 1842.1h0M987.6 1762.3h0M986 1856h0M989.6 1866.2h0M986.8 1802.9h0M987 1774.3h0M988.3 1812.7h0M987.9 1870.8h0M987.3 1872.5h0M985.7 1840.9h0M986.1 1812.7h0M988.3 1772.1h0M987.2 1769.1h0M987.7 1825.7h0M987 1752.4h0M987.2 1843h0M987.6 1765.1h0M989.1 1806.8h0M987.1 1756.4h0M987.7 1761.8h0M988.9 1873.2h0M987.7 1768.7h0M989.1 1804.9h0M988 1846.4h0M987.5 1791.1h0M987.2 1825.8h0M986.1 1830.2h0M989.2 1812.9h0M987.6 1810.2h0M988.9 1851.5h0M987.1 1849.6h0M986.4 1846.9h0M985.8 1836.3h0M996.3 1813.9h0M994.8 1820.8h0M994.8 1824.7h0M994.8 1815.2h0M994.8 1817.8h0M994.8 1836.7h0M994.8 1834.7h0M994.8 1826.9h0M994.8 1815.8h0M975.7 1845.5h0M977.9 1874.2h0M973.9 1855.1h0M976.5 1869.9h0M973.2 1875.4h0M979.2 1871.5h0M977.4 1859.7h0M977.4 1884h0M975.2 1867h0M973.2 1867.9h0M974.9 1851.2h0M977.6 1856.2h0M978 1864h0M978.6 1871.3h0M977.7 1882h0M974.1 1867.2h0M872.8 1897h0M871.1 1909.9h0M867.8 1914.2h0M871.2 1911.1h0M873.1 1907.4h0M878.6 1916.6h0M876.2 1906.2h0M873.1 1916.2h0M870 1909.9h0M872.6 1913.6h0M877.2 1913.2h0M874.6 1910.9h0M869.5 1909.7h0M869.1 1908.1h0M875.6 1902.5h0M870 1906.6h0M983.7 1873.3h0M974.8 1881.8h0M977.3 1884.2h0M985.8 1878.3h0M969.6 1888.2h0M985.7 1885.6h0M982 1882.5h0M982.2 1873.8h0M980.1 1883h0M978.9 1889h0M992.2 1887.2h0M983.4 1886.6h0M991 1882.7h0M980 1876.4h0M983.6 1873.9h0M993.1 1882h0M980.9 1888.3h0M975.2 1882.6h0M984.2 1886.1h0M989.1 1877.4h0M980.3 1874.8h0M994.1 1882.4h0M980.4 1876.9h0M979.3 1886.6h0M969.8 1888.3h0M980.6 1878.7h0M972.7 1887.3h0M993.2 1885.1h0M992.7 1888.8h0M983.5 1875h0M977.7 1878.3h0M868 1883.2h0M868 1889.1h0M900.5 1796.8h0M955.9 1873.3h0M975.7 1798h0M975.7 1821.8h0M975.7 1849.5h0M996.3 1784.2h0M999.5 1877.2h0"/>
<path fill="#BEBEBE" d="M997.3 2105L997.3 1921.9L1001.3 1921.9L1002.8 1918L1004.3 1919L1005.8 1917.5L1007.3 1920.6L1008.8 1917.2L1010.3 1918.4L1011.8 1907.4L1013.3 1912.2L1014.8 1913.2L1016.3 1910.6L1017.8 1911.8L1019.3 1917.7L1020.8 1924.2L1022.3 1926.5L1023.8 1927L1025.3 1929.4L1026.8 1935.2L1028.3 1940.3L1029.8 1938.6L1031.3 1942.8L1032.8 1939.3L1034.3 1933.8L1035.8 1934.2L1037.3 1932.5L1038.8 1939.8L1040.3 1938.5L1041.8 1944.1L1043.3 1935.4L1044.8 1938.7L1046.3 1940.4L1047.8 1936.2L1049.3 1932.9L1050.8 1942.1L1052.3 1937.8L1053.8 1927L1055.3 1929.5L1056.8 1928.8L1058.3 1934.5L1059.8 1922.1L1061.3 1925.8L1062.8 1927.8L1064.3 1934L1065.8 1924.3L1067.3 1919.6L1068.8 1925.5L1070.3 1927.7L1071.8 1931.9L1073.3 1928.8L1074.8 1929.9L1076.3 1925.5L1077.8 1925.3L1079.3 1923.5L1080.8 1913.1L1082.3 1912.6L1083.8 1918.7L1085.3 1919.8L1086.8 1930.1L1088.3 1929.2L1089.8 1928L1091.3 1931.3L1092.8 1925.8L1094.3 1940.5L1095.8 1940.1L1097.3 1941.9L1098.8 1945.6L1100.3 1939.7L1101.8 1949L1103.3 1932.4L1104.8 1929.2L1106.3 1928.7L1107.8 1923.1L1109.3 1918.5L1110.8 1926.4L1112.3 1923.1L1113.8 1923.7L1115.3 1923.2L1116.8 1928.1L1118.3 1931L1119.8 1929.3L1121.3 1938.4L1122.8 1935.9L1124.3 1937.7L1125.8 1942.6L1127.3 1939.1L1128.8 1940.1L1130.3 1940.7L1131.8 1935.6L1133.3 1941.1L1134.8 1942.5L1136.3 1953.4L1137.8 1944.1L1139.3 1951.4L1140.8 1944.2L1142.3 1931.9L1143.8 1927.2L1145.3 1933.7L1146.8 1937.3L1148.3 1933L1149.8 1939.7L1151.3 1940.1L1152.8 1949.3L1154.3 1940.4L1155.8 1939.3L1157.3 1952L1160.9 1952L1160.9 2105Z"/>
<path fill="none" stroke="#BEBEBE" stroke-width="9" stroke-linecap="round" d="M1001.8 1920.1h0M1001.6 1916.6h0M1002.8 1919.1h0M1003.2 1913.2h0M1003.2 1908h0M1006.7 1921.9h0M1007.1 1918.4h0M1007 1913.9h0M1007.4 1910h0M1006.6 1907h0M1007.3 1901.8h0M1007.4 1892.1h0M1006.6 1886.6h0M1007.4 1880.8h0M1007.4 1875h0M1006.5 1865.4h0M1007 1861.4h0M1009.5 1922.5h0M1009.8 1918.8h0M1009.7 1914h0M1009.3 1909.7h0M1009.4 1908.2h0M1012.4 1918.5h0M1012.2 1913.4h0M1012.5 1908.3h0M1012.5 1902.2h0M1012.5 1889.4h0M1012.6 1889.3h0M1014.8 1915.8h0M1015.5 1910.9h0M1014.8 1903.9h0M1015.3 1900.5h0M1017.9 1917.9h0M1018.3 1915.1h0M1017.9 1912.4h0M1019.4 1920.6h0M1019.5 1916h0M1019.8 1910.1h0M1019.3 1898.7h0M1023.1 1929.1h0M1023.1 1923.7h0M1022.9 1919h0M1022.9 1914.2h0M1023 1905.2h0M1022.8 1899.6h0M1022.7 1895.5h0M1023.3 1889.5h0M1022.9 1885.3h0M1023.5 1880.6h0M1022.6 1875.9h0M1023.2 1872.3h0M1022.8 1868.9h0M1023.1 1855.5h0M1024.6 1933.9h0M1024.1 1921h0M1024.5 1915.5h0M1024.6 1913.2h0M1027 1940.7h0M1026.6 1935.9h0M1026.6 1930h0M1027.2 1925.3h0M1026.8 1923.7h0M1028.1 1943.6h0M1028.6 1939.3h0M1028 1933.6h0M1028.1 1930.4h0M1028.7 1926.2h0M1028.4 1911.4h0M1031.6 1944.2h0M1032.2 1938.4h0M1031.5 1935.4h0M1032.2 1926.3h0M1031.9 1925.9h0M1034.6 1942.9h0M1035.3 1933.4h0M1034.8 1930.5h0M1037.4 1941.7h0M1037.5 1935.6h0M1037.5 1931.5h0M1037.2 1922.1h0M1041 1943.1h0M1040.1 1938.5h0M1040.1 1934h0M1041 1927.9h0M1040.8 1925h0M1040.6 1920h0M1040.6 1911.6h0M1040.5 1906.1h0M1040.8 1901.7h0M1040.4 1893.7h0M1040.4 1882.6h0M1040.1 1878.4h0M1040.6 1861.4h0M1043.6 1942.2h0M1044 1939h0M1043.7 1933.8h0M1043.7 1933.7h0M1045.8 1939.2h0M1046.3 1933.2h0M1045.9 1931.2h0M1047.5 1937.9h0M1047.9 1933.1h0M1047.5 1929.3h0M1047.8 1924h0M1047.1 1917.9h0M1047.8 1912.2h0M1047.5 1892.9h0M1047.5 1888.9h0M1047.6 1886.9h0M1049.2 1932.1h0M1049.1 1927.2h0M1051 1936.4h0M1051.5 1932.7h0M1051.3 1928.4h0M1052.7 1935.4h0M1052.5 1932h0M1052.5 1928.3h0M1052.6 1922.7h0M1054.1 1934.4h0M1054.1 1929.7h0M1054.5 1924h0M1054.4 1919.1h0M1053.5 1913.4h0M1054.1 1908.5h0M1054.4 1903h0M1053.5 1899.2h0M1054 1896h0M1053.8 1890.1h0M1053.9 1886.1h0M1053.6 1881.1h0M1054.2 1873.1h0M1053.9 1865h0M1053.9 1861.9h0M1054 1858.3h0M1057.7 1931.9h0M1057.6 1927.4h0M1057.4 1923.3h0M1058 1919.1h0M1057.5 1915.2h0M1057.9 1911.6h0M1057.4 1908.2h0M1057.2 1903.5h0M1057.7 1899.1h0M1057.3 1894h0M1058 1890.2h0M1057.3 1880.4h0M1057.3 1873h0M1057.6 1867.4h0M1057.6 1858.5h0M1060.5 1933h0M1061.2 1928.2h0M1060.6 1923h0M1061 1920h0M1060.9 1916.7h0M1060.7 1912.4h0M1060.8 1902.5h0M1060.8 1889.4h0M1061.1 1884.7h0M1061.1 1880.4h0M1061.2 1870.5h0M1060.4 1867.5h0M1060.3 1862.6h0M1060.8 1859.4h0M1060.3 1855h0M1060.3 1850.5h0M1060.6 1847.5h0M1060.4 1844.1h0M1060.7 1837.9h0M1062.5 1930.9h0M1062.6 1923.2h0M1062.2 1917.9h0M1065.7 1930.6h0M1065.4 1925h0M1065.3 1922h0M1065.5 1916.2h0M1065.6 1910.2h0M1065.4 1907h0M1066.1 1901.1h0M1066 1897.4h0M1066 1889.6h0M1065.8 1874.8h0M1065.2 1869.6h0M1065.2 1861.1h0M1066 1856.5h0M1065.3 1847.1h0M1065.6 1847h0M1068.9 1927.8h0M1068.6 1923.9h0M1068.5 1922.3h0M1071.7 1932.6h0M1071 1927.8h0M1071 1921.9h0M1071.2 1918.5h0M1071.4 1912.6h0M1071.4 1907h0M1075 1932.2h0M1075.2 1926.3h0M1074.6 1921.7h0M1075.1 1916.7h0M1075.2 1912.8h0M1075.4 1902.9h0M1074.9 1901.6h0M1078.1 1923.2h0M1077.9 1920.2h0M1077.9 1916.7h0M1078.2 1907.3h0M1078.1 1901.9h0M1077.7 1899.7h0M1081 1920.4h0M1080.7 1916.4h0M1080.4 1913.1h0M1080.8 1909.4h0M1082.7 1920h0M1082.7 1916.5h0M1082.6 1911.7h0M1082.3 1906.2h0M1082.6 1899.3h0M1082.2 1895h0M1082.4 1889.5h0M1082.2 1885.2h0M1082.2 1876.2h0M1082.9 1872.3h0M1082.6 1872.2h0M1085.7 1925.6h0M1086.4 1920.6h0M1086.5 1917.6h0M1086.1 1913.4h0M1085.9 1910.2h0M1086 1904.9h0M1088.2 1932.2h0M1087.9 1928.8h0M1088 1922.8h0M1088.1 1918.4h0M1087.6 1915.3h0M1087.7 1910h0M1088 1901.6h0M1088 1895.7h0M1088.2 1890.2h0M1087.8 1884.1h0M1091.8 1934.5h0M1091.6 1930.4h0M1091.9 1925h0M1091.2 1921.4h0M1091.1 1918.1h0M1091.4 1913.4h0M1091.7 1908h0M1091 1904.8h0M1091.4 1898.2h0M1091.5 1882.3h0M1093.6 1932.5h0M1093.8 1930.5h0M1097.6 1943.9h0M1097.1 1938.9h0M1097.4 1934.8h0M1097.2 1927.4h0M1099.2 1946.2h0M1098.6 1942.7h0M1098.7 1939.2h0M1098.2 1934.4h0M1098.7 1929.4h0M1100.9 1946.1h0M1100.7 1942.4h0M1100.9 1938.8h0M1100.5 1934.3h0M1100.6 1929.6h0M1100.4 1925h0M1101.1 1919.3h0M1100.7 1916.2h0M1101.1 1912h0M1100.4 1908.1h0M1100.7 1905.3h0M1103.4 1940.1h0M1103.5 1936.2h0M1103.3 1930.4h0M1103.1 1921h0M1103.7 1916h0M1103.2 1912.3h0M1103.9 1907.1h0M1103.8 1902.9h0M1103.5 1899.2h0M1103.2 1895h0M1103.9 1889.7h0M1104 1884.2h0M1103.5 1881.4h0M1103.2 1875.1h0M1103.5 1871.5h0M1105.6 1934.3h0M1105.5 1929.3h0M1105.7 1923.3h0M1105.9 1919.5h0M1105.9 1918.9h0M1107.2 1932.5h0M1107.9 1928.6h0M1107.1 1923.2h0M1107.4 1919.2h0M1107 1915.1h0M1107.1 1910.2h0M1107.3 1902.3h0M1107.3 1897.7h0M1107.5 1885.8h0M1107.5 1875.8h0M1110.6 1931.1h0M1110.1 1925.3h0M1112.7 1929.6h0M1112.4 1924.5h0M1112.6 1919.7h0M1112.3 1912.5h0M1115.3 1929h0M1115.7 1922.9h0M1115.5 1918.1h0M1119 1932.3h0M1118.5 1926.5h0M1118.9 1922h0M1118.5 1916.5h0M1118.4 1911.1h0M1118.4 1907.4h0M1118.5 1904h0M1121.7 1941.6h0M1122.1 1938.8h0M1121.7 1934.5h0M1121.6 1931.7h0M1122.2 1927.8h0M1122.2 1924.2h0M1121.9 1918.2h0M1121.8 1915h0M1121.9 1912.1h0M1122.2 1901.4h0M1122.2 1895.8h0M1122.1 1887.1h0M1122.3 1882.7h0M1121.6 1877.2h0M1122.3 1869.8h0M1121.6 1865.2h0M1122.2 1860.1h0M1122.1 1858.4h0M1125.7 1944.5h0M1124.9 1939.2h0M1125.4 1934h0M1125.6 1928.9h0M1125.4 1924.7h0M1125.3 1914.1h0M1124.9 1910.5h0M1124.7 1900.3h0M1125.4 1895.6h0M1125.2 1888.5h0M1128.1 1944.1h0M1128.3 1940.3h0M1128.1 1939.6h0M1131 1943.8h0M1130.7 1938h0M1131 1930.8h0M1134.4 1947h0M1134.7 1942.6h0M1135.2 1937.2h0M1135.1 1933.7h0M1134.6 1930.1h0M1134.5 1925.9h0M1134.3 1914.6h0M1134.3 1896h0M1134.8 1892.6h0M1137.6 1950h0M1137.9 1940.5h0M1138 1935.6h0M1140.2 1947.1h0M1140.5 1939h0M1140.3 1935.1h0M1140.6 1929.5h0M1140.3 1924.8h0M1140.2 1921.5h0M1140.4 1918.7h0M1139.9 1914.3h0M1139.9 1911h0M1140.8 1905.4h0M1140.2 1899.7h0M1140.4 1885.9h0M1143.8 1938.8h0M1143.5 1934.3h0M1143.1 1923.8h0M1143.8 1908.1h0M1143.5 1902.4h0M1145.5 1935.8h0M1145 1930.5h0M1145.4 1926.9h0M1145.3 1921.6h0M1145.6 1916.9h0M1145.6 1912h0M1145.7 1899.1h0M1145.6 1894.2h0M1145.4 1891.9h0M1148.9 1938.6h0M1148.9 1932.8h0M1148.1 1926.8h0M1148.1 1923.1h0M1148 1919.5h0M1148.7 1914.7h0M1148.2 1911h0M1148.9 1904.1h0M1148.1 1900.1h0M1148.4 1892.7h0M1151.5 1945.9h0M1151.9 1942.9h0M1152 1938.3h0M1151.7 1934.8h0M1151.5 1931.5h0M1151.5 1921.8h0M1151.7 1914.5h0M1151.8 1913.4h0M1153.4 1948h0M1153.2 1944.7h0M1153.6 1941.1h0M1153.5 1937.9h0M1155.1 1948.9h0M1154.8 1943.3h0M1155.2 1940.2h0M1155.2 1927.6h0M1154.4 1923.8h0M1154.6 1919.2h0M1154.6 1915.5h0M1154.9 1905.9h0M1155.1 1902.2h0M1154.6 1897.5h0M1154.9 1888.8h0M1005.4 1786.1h0M1005.4 1795.1h0M1004.9 1804.6h0M1005.6 1805.2h0M1004.9 1788.8h0M1004.6 1800.5h0M1005.7 1803.8h0M1006.5 1805.6h0M1006.2 1805.2h0M1009.4 1829.7h0M1010.4 1834.4h0M1009.9 1852.2h0M1009.7 1850.3h0M1008 1842.4h0M1010.3 1843.4h0M1011.5 1849.7h0M1021.3 1849.5h0M1023.6 1871.3h0M1019.1 1866.5h0M1021.5 1868.3h0M1019.6 1878.9h0M1021.8 1851.8h0M1022.6 1859.8h0M1019.3 1872.8h0M1022.7 1871.4h0M1023 1861.1h0M1020.3 1853.6h0M1022.3 1873.6h0M1023.7 1873.9h0M1058.9 1847.5h0M1058.1 1857.6h0M1058.5 1868.7h0M1058.7 1864.3h0M1058.2 1878.2h0M1059.1 1873.1h0M1059.8 1860.6h0M1058.5 1859.6h0M1059.3 1857.3h0M1118.3 1849.5h0M1117.5 1870.6h0M1118.6 1855.1h0M1118.5 1861.8h0M1115.4 1869.7h0M1119.2 1852.2h0M1115.6 1874.4h0M1118 1858.5h0M1117.1 1873.7h0M1115.4 1876.3h0M1115.3 1875.2h0M1043.1 1857.4h0M1047.5 1887.2h0M1047.3 1891.5h0M1046.5 1877.3h0M1040.5 1897.8h0M1047.5 1893.3h0M1042.4 1871.1h0M1043.8 1893.3h0M1042.3 1898.3h0M1040.3 1881.3h0M1045.6 1873.9h0M1045.7 1873.3h0M1043.8 1894.4h0M1039.6 1875.2h0M1044.8 1866.2h0M1048.5 1899.6h0M1090.6 1873.3h0M1095.1 1883.9h0M1089 1888.3h0M1096.1 1899.1h0M1087.4 1894h0M1088.1 1878.5h0M1087.5 1883.5h0M1088.1 1891.5h0M1094.1 1882h0M1084.9 1886.4h0M1090.9 1874.1h0M1091 1875.2h0M1090.4 1875h0M1091.2 1892.6h0M1093.8 1882.1h0M1096.2 1900.4h0M1154 1857.4h0M1157.4 1883.7h0M1154.3 1870.5h0M1156.2 1871.7h0M1152.4 1864.7h0M1154.3 1872.7h0M1152 1885h0M1153.5 1857.9h0M1149.4 1882.5h0M1154.8 1874.4h0M1152.1 1881.7h0M1157.4 1876.5h0M1154.7 1884.6h0M1005.4 1764.4h0M1045 1831.7h0M1039.1 1840.8h0M1049 1851.5h0M1085.8 1826.9h0M1100.5 1848.7h0M1118.3 1850.3h0M1157.1 1832.9h0M1130.2 1883.2h0M1165.8 1851.5h0"/>
<path fill="#0000FF" d="M1159.9 2105L1159.9 1936.1L1163.9 1936.1L1165.4 1932.1L1166.9 1930.1L1168.4 1921L1169.9 1921.1L1171.4 1918.9L1172.9 1920.2L1174.4 1915.5L1175.9 1915.9L1177.4 1913.6L1178.9 1920.5L1180.4 1918.3L1181.9 1922L1183.4 1932.7L1184.9 1934.5L1186.4 1930.9L1187.9 1926.5L1189.4 1927.2L1190.9 1920.8L1192.4 1921.6L1193.9 1920.7L1195.4 1926.7L1196.9 1932.3L1198.4 1930.5L1199.9 1934.9L1201.4 1926.8L1202.9 1925.7L1204.4 1914.8L1205.9 1930.4L1207.4 1918.8L1208.9 1921.3L1210.4 1925.2L1211.9 1922L1213.4 1921.2L1214.9 1917.8L1216.4 1919.6L1217.9 1929.8L1219.4 1925.3L1220.9 1934.8L1222.4 1930.8L1223.9 1932.4L1225.4 1941.7L1226.9 1936.4L1228.4 1939.3L1229.9 1930.8L1231.4 1935.6L1232.9 1939.1L1234.4 1939L1235.9 1936.1L1237.4 1936.5L1238.9 1935.8L1240.4 1937.1L1241.9 1926L1243.4 1926.9L1244.9 1923.5L1246.4 1919.2L1247.9 1925.4L1249.4 1933.7L1250.9 1924.2L1252.4 1928.4L1253.9 1931.7L1255.4 1926.5L1256.9 1935.4L1258.4 1931.4L1259.9 1935.8L1261.4 1929.4L1262.9 1950.8L1264.4 1944.6L1265.9 1943.4L1267.4 1937.9L1268.9 1941.7L1270.4 1941.3L1271.9 1933L1273.4 1940.8L1274.9 1938.3L1276.4 1939.3L1277.9 1936.3L1279.4 1941.9L1283.5 1941.9L1283.5 2105Z"/>
<path fill="none" stroke="#0000FF" stroke-width="9" stroke-linecap="round" d="M1164.4 1936h0M1164.1 1930.9h0M1163.9 1925.8h0M1163.9 1922.6h0M1164.1 1918.9h0M1164.1 1910.2h0M1164.2 1901.2h0M1166.5 1934h0M1166.6 1930.5h0M1166.9 1927.5h0M1166.8 1920.5h0M1169.9 1925.4h0M1169.7 1920.3h0M1169.5 1916.6h0M1170.1 1913.1h0M1170.1 1909.8h0M1169.6 1906.8h0M1169.2 1895.8h0M1169.4 1892.3h0M1169.6 1886.8h0M1171.7 1920h0M1171.2 1915.9h0M1171.2 1912.4h0M1171.1 1907.9h0M1171.7 1904.1h0M1171.5 1898.9h0M1171.6 1895h0M1171.7 1889.1h0M1171.6 1884.1h0M1172.1 1879.2h0M1172.1 1875.3h0M1171.4 1869.9h0M1171.5 1866.5h0M1171.6 1862.2h0M1171.6 1859.3h0M1173.4 1918h0M1172.7 1914.6h0M1173.1 1910.2h0M1172.7 1905.4h0M1173.6 1902.4h0M1172.9 1897.3h0M1173.2 1894.3h0M1175.7 1919.6h0M1176.4 1915.9h0M1176 1911.8h0M1176.5 1908.9h0M1175.9 1903.8h0M1175.6 1899.6h0M1175.8 1893.8h0M1176.5 1890.9h0M1175.6 1880h0M1176 1876.2h0M1176.4 1872.7h0M1176.1 1867.7h0M1176.2 1862h0M1175.9 1848.9h0M1176.1 1845.2h0M1180.2 1915.3h0M1179.8 1907h0M1182 1930h0M1181.5 1926.6h0M1181.8 1917.4h0M1181.7 1912.1h0M1181.5 1907.6h0M1181.9 1903.6h0M1182.1 1900h0M1181.8 1889.3h0M1181.9 1880.2h0M1182 1877.3h0M1181.8 1875.8h0M1184.2 1932.9h0M1184.4 1929h0M1184.5 1923.7h0M1184.2 1921.5h0M1187.7 1930h0M1187.5 1922.8h0M1186.8 1919.6h0M1187.1 1914.4h0M1187.5 1905.8h0M1187.2 1904.5h0M1190.8 1926.9h0M1190.6 1917h0M1190.3 1912.4h0M1190.5 1901h0M1190.3 1886.7h0M1190.5 1882.9h0M1192.8 1927.9h0M1193.1 1922.1h0M1192.8 1914.7h0M1194.8 1930h0M1194.6 1924.1h0M1194.6 1918.3h0M1194.4 1913.4h0M1195 1907.7h0M1194.5 1904.1h0M1194.6 1898.7h0M1194.4 1894.6h0M1194.3 1889.5h0M1195.2 1885.5h0M1195.2 1881.4h0M1194.6 1876.2h0M1194.7 1872.6h0M1194.7 1867.7h0M1194.7 1865.9h0M1197.8 1934.5h0M1197.1 1930.3h0M1197.8 1926.8h0M1197.6 1917.7h0M1197.4 1912.7h0M1197.5 1907.5h0M1197.5 1902.9h0M1197.5 1899.1h0M1199.5 1934.8h0M1199.4 1930.3h0M1199.3 1922.6h0M1199.3 1920h0M1201.4 1930.3h0M1201.9 1926.7h0M1201.5 1922.9h0M1201.5 1919.7h0M1201.1 1907.9h0M1201.5 1903.9h0M1202.8 1925.5h0M1203.1 1921.6h0M1204.9 1922.7h0M1205 1918.2h0M1204.7 1912.8h0M1204.3 1908.8h0M1204.3 1905.2h0M1204.5 1901.9h0M1208.1 1926.5h0M1207.7 1921.1h0M1208.3 1909.6h0M1207.9 1904.7h0M1208.5 1899.6h0M1208 1892.3h0M1209.7 1928.2h0M1210.2 1922.8h0M1210.2 1919h0M1211.4 1926.9h0M1211.7 1923.2h0M1212.1 1920.4h0M1211.6 1916.6h0M1211.5 1910.9h0M1211.2 1905.9h0M1211.3 1901.9h0M1211.2 1895.5h0M1211.7 1892.4h0M1211.7 1887.4h0M1211.3 1883.5h0M1212.1 1878.7h0M1211.3 1875.1h0M1211.8 1870.9h0M1211.6 1864.3h0M1213.9 1925.7h0M1214.6 1921.9h0M1214.1 1915.9h0M1217.1 1930.7h0M1216.8 1926.2h0M1217.3 1923.4h0M1217 1920.3h0M1217 1909.6h0M1217.1 1906.4h0M1216.9 1903.4h0M1219.6 1935.2h0M1220 1931.7h0M1222.8 1935.9h0M1222.4 1932.7h0M1222.6 1920.6h0M1224.9 1939.6h0M1225.4 1935.6h0M1225.7 1927.8h0M1225.2 1922.7h0M1225.5 1917.5h0M1225 1905.2h0M1225.5 1890.9h0M1225.6 1886.7h0M1225.2 1881.6h0M1225.3 1881h0M1227.5 1940.5h0M1227.3 1934.6h0M1227.7 1924.1h0M1227.2 1920.9h0M1227.5 1919.4h0M1231.5 1931.4h0M1231.1 1928.3h0M1231.7 1922.3h0M1231 1917.8h0M1231.4 1913.4h0M1231.7 1907.4h0M1231.4 1904.1h0M1231.3 1898.4h0M1231.2 1892.9h0M1231.3 1887.4h0M1231.2 1880.3h0M1231.2 1866.6h0M1231.3 1866h0M1232.3 1935.2h0M1232.7 1931.8h0M1232.5 1928.7h0M1232.6 1925.4h0M1232.2 1921.4h0M1232.2 1917.4h0M1232.7 1908.2h0M1232.1 1905.1h0M1232.4 1900.5h0M1232.9 1894h0M1232.4 1889.7h0M1232.3 1877.9h0M1232.6 1873.7h0M1235.4 1938.8h0M1236 1935.8h0M1235.8 1931.2h0M1235.5 1916.2h0M1237.4 1940.7h0M1237.2 1931.7h0M1239.5 1939.5h0M1239.1 1936.3h0M1239.5 1932.2h0M1239.7 1927.3h0M1239.7 1917.4h0M1238.9 1912.1h0M1239.7 1909.2h0M1239.3 1905.1h0M1239 1896.3h0M1239.7 1891.1h0M1239.2 1886.9h0M1239.2 1880.7h0M1239.3 1879.8h0M1241.6 1929.1h0M1241.4 1923.3h0M1241.4 1918.7h0M1241.5 1905.2h0M1241.3 1901.4h0M1241.5 1895.4h0M1241.6 1886.7h0M1241.5 1881h0M1240.9 1876.1h0M1241 1865.7h0M1241.7 1855.2h0M1241 1851.9h0M1241.4 1846.6h0M1241.2 1845.2h0M1245 1925.9h0M1244.9 1913.1h0M1246.2 1926.3h0M1246.5 1922.9h0M1246.3 1920.4h0M1247.4 1927.9h0M1247.5 1924.3h0M1248.3 1919h0M1248 1915.3h0M1247.4 1910.4h0M1247.4 1900.3h0M1247.8 1892.8h0M1247.3 1884.5h0M1248.3 1873.4h0M1248.3 1868.5h0M1248.2 1863.4h0M1247.8 1861.4h0M1250.4 1930.2h0M1250.4 1924.8h0M1250.3 1921.8h0M1251 1916.4h0M1251 1907.1h0M1250.7 1895.1h0M1253.4 1932.4h0M1252.8 1929.1h0M1253.3 1923.8h0M1253.1 1918.9h0M1254.4 1934.4h0M1254.7 1930.5h0M1254.9 1925h0M1254.9 1924.8h0M1256.7 1936h0M1256.9 1933h0M1257.2 1927.5h0M1256.8 1916.9h0M1256.4 1913.6h0M1256.6 1910.4h0M1256.8 1909.4h0M1260.6 1940.2h0M1260.3 1934.7h0M1259.9 1931.2h0M1259.7 1927.7h0M1260.5 1922.3h0M1260.5 1919.2h0M1260.4 1915.1h0M1259.8 1910.6h0M1260.6 1907.4h0M1260.2 1904.4h0M1260.2 1900.7h0M1260.1 1897h0M1260.2 1891.6h0M1260 1886.1h0M1260.1 1874.2h0M1260.2 1865.1h0M1259.8 1859.3h0M1259.8 1855.9h0M1260.5 1849.9h0M1260.2 1847.9h0M1263.2 1946.4h0M1263 1942.2h0M1262.8 1937h0M1266.5 1946.9h0M1266.3 1941.4h0M1266.3 1937h0M1266.7 1931.7h0M1266.8 1927.9h0M1266.7 1922.5h0M1266.9 1919.1h0M1266.7 1913.8h0M1266.9 1910.4h0M1266.5 1907.5h0M1266.6 1900.1h0M1269.9 1942.2h0M1269.8 1938.9h0M1270.2 1933h0M1270.2 1929h0M1273.2 1942.3h0M1273.2 1939h0M1273.1 1934.3h0M1273.3 1931.1h0M1273.1 1926.8h0M1273.5 1923.6h0M1273.4 1918.5h0M1273.2 1910.5h0M1273.4 1908.6h0M1277.5 1941.7h0M1276.9 1938.5h0M1277.1 1934.9h0M1277.5 1930h0M1277.2 1918.4h0M1279.2 1940h0M1279.3 1934.8h0M1279.6 1928.9h0M1279.5 1924.9h0M1279.6 1915.1h0M1278.8 1911.6h0M1279.1 1908.3h0M1185.6 1807.9h0M1185.6 1828.2h0M1185.4 1811.3h0M1184.5 1832.9h0M1186.7 1832h0M1186.9 1838.1h0M1185.6 1845.1h0M1185.1 1810.2h0M1186.6 1835.4h0M1184.8 1826.1h0M1185.8 1841.7h0M1184.7 1831.4h0M1185.8 1834.6h0M1187.6 1865.3h0M1191.7 1892.9h0M1189.2 1870.5h0M1187 1880.6h0M1189.9 1881.4h0M1184.1 1884.6h0M1184.7 1885.7h0M1185.8 1866.9h0M1187.2 1882.6h0M1186.3 1865.5h0M1188.1 1898.3h0M1188.1 1900.5h0M1189.9 1899.8h0M1184.1 1882.8h0M1189.3 1873.8h0M1185.6 1891.5h0M1188.4 1874.5h0M1184.7 1899.1h0M1188 1900.9h0M1185.7 1876.3h0M1192 1893h0M1200.7 1837.6h0M1200.2 1842.4h0M1200.2 1841.3h0M1200.5 1842.8h0M1201 1843h0M1210.6 1839.6h0M1210.1 1847.1h0M1209.8 1850.9h0M1210 1841.9h0M1210.8 1840h0M1210.6 1841.9h0M1211 1859.5h0M1205.4 1869.3h0M1205 1880.7h0M1204.6 1884h0M1204.5 1872.4h0M1204.5 1875.8h0M1203.7 1881.4h0M1203.7 1888.6h0M1206.5 1886h0M1206.7 1885.7h0M1249 1752.5h0M1248.8 1796.9h0M1248.2 1769.2h0M1248.6 1793.1h0M1248.1 1773.7h0M1249.7 1767.3h0M1249.9 1782.9h0M1248.2 1799.6h0M1249.7 1770h0M1249.2 1770.6h0M1248.9 1803.4h0M1250.1 1780.6h0M1250.4 1800.3h0M1248.2 1793.7h0M1248.4 1758h0M1249.2 1802.8h0M1245 1805.9h0M1251.2 1870.9h0M1248.7 1830.2h0M1242.4 1832.9h0M1249.1 1832.8h0M1243 1874h0M1248.3 1847.2h0M1250.2 1866.5h0M1242.6 1839.2h0M1249.6 1849.1h0M1249.3 1855.3h0M1245.1 1827h0M1246 1872.7h0M1249 1865.9h0M1246.9 1844.6h0M1244.3 1860h0M1248.3 1849.6h0M1251.6 1870.8h0M1246.6 1839.6h0M1248.8 1851.5h0M1244.8 1830.4h0M1247.5 1831.6h0M1239.1 1861.1h0M1242.8 1819.4h0M1248.1 1854h0M1241.3 1838h0M1246.3 1853.7h0M1242.8 1843.8h0M1242.7 1838.2h0M1243.5 1867h0M1245.6 1861.3h0M1243.4 1829.6h0M1249.3 1858.8h0M1240.3 1872.8h0M1241.9 1831.8h0M1244.2 1826.4h0M1250.1 1861.6h0M1241.1 1854h0M1241.8 1840.2h0M1245.7 1833.3h0M1241.7 1848.4h0M1248.3 1833.1h0M1246.2 1856.4h0M1243.3 1836.4h0M1239 1864.1h0M1250.4 1857.8h0M1239.9 1856.7h0M1246.5 1811.6h0M1244.5 1826.1h0M1247.1 1857.6h0M1246.6 1834h0M1244.6 1872.6h0M1246.8 1841.5h0M1247.6 1870.3h0M1248.9 1873.3h0M1241.5 1874.9h0M1239.1 1853.5h0M1234.8 1877h0M1237.9 1859.8h0M1235.5 1883.9h0M1243.6 1866.6h0M1243.7 1884.7h0M1242.7 1868h0M1235.7 1857.6h0M1238 1857.5h0M1242.6 1864.4h0M1243.4 1870.8h0M1237.5 1872h0M1234.1 1867.6h0M1244.7 1871h0M1246.8 1884.5h0M1238.7 1859h0M1233.4 1881.1h0M1237 1857.6h0M1240.9 1858.4h0M1246.5 1878h0M1240.5 1856.8h0M1234 1880.1h0M1242.6 1858.2h0M1232.2 1880h0M1240.5 1862.5h0M1238.5 1861.9h0M1235.7 1861.1h0M1239.6 1871.9h0M1230.9 1881.4h0M1234.3 1868h0M1234.6 1873.8h0M1171.8 1857.4h0M1174.5 1869.5h0M1173.1 1877.5h0M1169.5 1876.5h0M1175.5 1878.3h0M1173.1 1862h0M1170 1869.9h0M1174.5 1877.6h0M1170.4 1864.7h0M1169.7 1873.9h0M1175.2 1874.1h0M1272 1774.3h0M1271.9 1775.3h0M1271.6 1779h0M1272.8 1784.9h0M1272.1 1783.2h0M1275.9 1837.6h0M1279.5 1898.2h0M1274 1914.9h0M1278.4 1859.3h0M1279.5 1892h0M1277.6 1856.4h0M1274 1853.6h0M1275.2 1853.9h0M1277.2 1878.6h0M1275.1 1913.1h0M1275.1 1890.2h0M1274.1 1876.2h0M1275 1839.1h0M1279 1899.7h0M1275.4 1897.3h0M1273.5 1878.3h0M1279.2 1865h0M1275.1 1890.8h0M1275.9 1887.2h0M1275.4 1869.2h0M1279.2 1879.7h0M1273.5 1910.3h0M1273.6 1881.5h0M1271.7 1914h0M1271.8 1883.4h0M1275.6 1881.9h0M1274.6 1840.9h0M1275.7 1884.7h0M1272.8 1870h0M1274.8 1871.7h0M1276.5 1852.1h0M1163.9 1865.3h0M1258.9 1833.7h0M1268.8 1774.3h0M1268.8 1786.1h0M1268.8 1817.8h0M1272 1817.8h0M1275.9 1840.4h0"/>
<path fill="#BEBEBE" d="M1282.5 2105L1282.5 1923.8L1286.5 1923.8L1288 1923.5L1289.5 1926.3L1291 1924.6L1292.5 1916.9L1294 1933.7L1295.5 1928.9L1297 1930.5L1298.5 1926.4L1300 1934.6L1301.5 1933.9L1303 1937.1L1304.5 1942.6L1306 1939.1L1307.5 1942.9L1309 1939.3L1310.5 1937.1L1312 1944.2L1313.5 1939.3L1315 1942.6L1316.5 1940.7L1318 1941.9L1319.5 1938.3L1321 1936.6L1322.5 1940.1L1324 1940.3L1325.5 1935.5L1327 1930.3L1328.5 1927.6L1330 1939.5L1331.5 1938.5L1333 1929.9L1334.5 1933L1336 1926.5L1337.5 1931.8L1339 1931.3L1340.5 1929.6L1342 1925.4L1343.5 1938.2L1345 1937.5L1346.5 1940.7L1348 1945.3L1349.5 1951.7L1351 1942.6L1352.5 1947.8L1354 1945.6L1355.5 1947.3L1357 1943.1L1358.5 1953.2L1360 1948.3L1361.5 1946.4L1363 1943.6L1364.5 1945.4L1366 1944.8L1367.5 1937.8L1369 1932.5L1370.5 1940.2L1372 1936.5L1373.5 1946.8L1375 1945.6L1376.5 1947.9L1378 1950.5L1379.5 1946.3L1381 1940L1382.5 1934L1384 1932L1385.5 1920.1L1387 1924.2L1388.5 1922.5L1390 1931.5L1391.5 1928L1393 1936.6L1394.5 1944.8L1396 1942.2L1400.5 1942.2L1400.5 2105Z"/>
<path fill="none" stroke="#BEBEBE" stroke-width="9" stroke-linecap="round" d="M1286.8 1923.3h0M1286.8 1918.2h0M1286.8 1916.9h0M1290.7 1925.2h0M1290.6 1920.2h0M1290.8 1914.9h0M1290.6 1908h0M1289.9 1904.6h0M1290 1898.1h0M1290.7 1892.2h0M1290.1 1888.5h0M1290.4 1883.8h0M1290.8 1879h0M1290.5 1876.1h0M1290.5 1862.2h0M1290.7 1851.6h0M1290.8 1835.6h0M1290.3 1834.7h0M1293 1929.1h0M1294 1924.8h0M1293.5 1921.6h0M1293.3 1913.7h0M1293 1910.3h0M1293.4 1906.9h0M1293.5 1906.7h0M1295.2 1930h0M1294.9 1925h0M1295 1921.7h0M1295 1916.3h0M1295.2 1914.1h0M1297.4 1931.4h0M1296.8 1925.6h0M1297.3 1921.3h0M1297 1916.6h0M1300.4 1935.8h0M1300.2 1930h0M1300.3 1921.2h0M1300.1 1917.6h0M1301.1 1937.8h0M1301.6 1933.5h0M1301.6 1929.8h0M1301.5 1921.9h0M1301.4 1917.9h0M1301.5 1916h0M1303.3 1939.6h0M1303.1 1933.7h0M1303.1 1930.8h0M1303.4 1927.5h0M1303.3 1919.2h0M1304.8 1940.7h0M1304.5 1935.9h0M1304.7 1932h0M1304.9 1927.4h0M1305 1923h0M1304.7 1911.7h0M1304.7 1908h0M1304.9 1904.1h0M1304.9 1895.6h0M1304.5 1886.6h0M1304.8 1873.7h0M1308.5 1943.1h0M1308.4 1938.5h0M1307.9 1933.4h0M1308.8 1928.8h0M1308.3 1925.7h0M1311.6 1944.3h0M1312.4 1939.6h0M1311.7 1934.8h0M1311.9 1931.7h0M1314.2 1942.3h0M1314.7 1937.3h0M1314.7 1932.2h0M1313.9 1929.3h0M1314.7 1923.4h0M1314.8 1917.3h0M1314.7 1914.4h0M1314.2 1905h0M1314.4 1901.7h0M1314.4 1897.2h0M1314.6 1894.1h0M1314 1890.7h0M1314.8 1885h0M1314 1875.5h0M1314 1866.5h0M1314.7 1857.2h0M1314.3 1854.3h0M1314.4 1847.7h0M1318.3 1944.2h0M1318.6 1941h0M1318.1 1936.3h0M1317.9 1932.3h0M1317.7 1928.9h0M1318.2 1907.3h0M1318.4 1903.8h0M1318.2 1893.4h0M1318.2 1889.7h0M1321 1944.9h0M1321 1940.7h0M1323 1941.9h0M1323 1938h0M1323.2 1933.8h0M1323.5 1924.9h0M1323.5 1921.8h0M1323 1917.6h0M1323.5 1911.1h0M1326.2 1932.8h0M1326.4 1927.5h0M1326.4 1923.5h0M1326.1 1918.7h0M1326.1 1914.8h0M1326 1910.5h0M1326.2 1901.7h0M1329 1937.1h0M1329.1 1934.3h0M1329.1 1928.4h0M1332.3 1937.7h0M1332 1934.4h0M1332.1 1930.1h0M1331.6 1924.1h0M1332 1920.7h0M1334.4 1938.3h0M1333.7 1933.7h0M1333.5 1930.1h0M1333.9 1928.2h0M1336.6 1936h0M1337 1929.7h0M1341 1932.5h0M1340 1928.2h0M1340.9 1923.5h0M1340.2 1906.2h0M1340.5 1904.8h0M1341.9 1933.2h0M1342 1927.7h0M1342 1927.4h0M1343.4 1938.8h0M1344.1 1933.6h0M1343.4 1929.7h0M1343.6 1926.2h0M1343.6 1920.2h0M1343.3 1915h0M1343.7 1914.5h0M1345.5 1946.8h0M1345.8 1937.5h0M1345.7 1934h0M1346.1 1927.2h0M1345.9 1921.5h0M1348.5 1951.4h0M1348.5 1942.9h0M1348.4 1939.8h0M1348.8 1930.5h0M1349 1925.3h0M1348.5 1922h0M1348.6 1918.9h0M1348.8 1917.2h0M1352.4 1949.8h0M1352.3 1944.9h0M1352.3 1940.3h0M1352.1 1925.6h0M1352.6 1921.2h0M1352.3 1911.6h0M1352.6 1901.9h0M1352.3 1896.7h0M1352.3 1881h0M1354.5 1950.1h0M1354.4 1945.9h0M1356.7 1951.9h0M1356.2 1948.5h0M1356 1944.5h0M1356.2 1942h0M1359.2 1949.1h0M1360.1 1944.8h0M1359.1 1941.8h0M1359.8 1935.8h0M1359.6 1930.9h0M1359.5 1926.7h0M1359.5 1917.7h0M1359.8 1913.2h0M1359.6 1912.8h0M1360.8 1951.8h0M1361.5 1946.7h0M1360.8 1943.6h0M1361.6 1939.1h0M1361.4 1933.4h0M1361.1 1929.5h0M1363.3 1948.7h0M1362.9 1945.8h0M1362.6 1940.1h0M1362.9 1938.7h0M1364.2 1945.5h0M1364.8 1942.5h0M1364.4 1935.1h0M1367.5 1942h0M1367.9 1936.1h0M1367.4 1931.7h0M1371.2 1943.2h0M1370.4 1938h0M1371.2 1932.3h0M1370.9 1926.6h0M1370.9 1923.2h0M1370.3 1920.1h0M1371 1916.5h0M1371.1 1911.4h0M1370.6 1908.1h0M1371 1904.4h0M1370.8 1899.2h0M1370.7 1895.3h0M1371 1883.4h0M1371.1 1878h0M1370.7 1873.7h0M1371 1869.9h0M1370.7 1861.3h0M1370.7 1853.7h0M1373.3 1944.8h0M1373.8 1939.5h0M1373.7 1934.6h0M1373.8 1930.7h0M1373.6 1928.2h0M1375 1951.3h0M1375.9 1948.3h0M1375.5 1937.2h0M1375.1 1926.6h0M1375.7 1922.1h0M1375.4 1918.9h0M1378.3 1950.8h0M1378.6 1947.5h0M1377.9 1942.5h0M1378.5 1932.2h0M1378.2 1928.1h0M1378.4 1924.4h0M1378.5 1919.9h0M1378.3 1918.7h0M1380.1 1945h0M1380.2 1940.1h0M1380.1 1936.1h0M1380.1 1932.4h0M1379.8 1916.6h0M1380 1911h0M1379.6 1906.4h0M1379.7 1897.5h0M1380 1893.9h0M1381.8 1937.9h0M1381.3 1932.2h0M1381.3 1926.9h0M1381.7 1921h0M1381.8 1916.5h0M1381.7 1912.3h0M1382.9 1932.6h0M1383.5 1928.4h0M1383.7 1925h0M1383.4 1920.2h0M1383.4 1916.5h0M1383.4 1913.3h0M1383.3 1912.8h0M1384.4 1929.6h0M1384.2 1926.5h0M1384.3 1918.4h0M1384.4 1914.3h0M1384.9 1908.8h0M1384.4 1905.5h0M1384.9 1898.3h0M1384.3 1892.3h0M1384.7 1883.8h0M1386.6 1927.8h0M1387.4 1923.2h0M1386.9 1917.8h0M1386.6 1913.1h0M1387 1911.2h0M1389.1 1928.7h0M1389.1 1925.9h0M1389.4 1922h0M1392.9 1937.1h0M1392.8 1932h0M1393.2 1928.5h0M1392.9 1922.7h0M1392.7 1917.6h0M1393.2 1914.7h0M1392.8 1910.4h0M1393 1906.8h0M1392.6 1898h0M1392.8 1893.6h0M1392.7 1890.2h0M1392.9 1884.3h0M1393.4 1881.2h0M1392.8 1863.3h0M1393.1 1862.3h0M1394.7 1942.5h0M1394.7 1937.4h0M1394.1 1933.2h0M1394.7 1924.4h0M1394.4 1918.4h0M1394.3 1909.3h0M1394.1 1893.6h0M1395 1883.6h0M1394.2 1879.5h0M1394.5 1854.8h0M1394.3 1849.9h0M1394.5 1847.3h0M1289.8 1829.7h0M1290.2 1834.4h0M1287.8 1843.9h0M1289.2 1835.8h0M1288 1847.7h0M1290.3 1841.1h0M1292.4 1848.9h0M1288.1 1850.5h0M1290.3 1845.1h0M1333.4 1736.6h0M1333.6 1760.7h0M1332.8 1754.9h0M1334.5 1764.4h0M1333.8 1764.9h0M1332.5 1773.1h0M1334.3 1761.5h0M1331.9 1764h0M1334.2 1759.4h0M1333.2 1748h0M1333.2 1773.8h0M1335.3 1805.9h0M1335.7 1826h0M1335.2 1834h0M1336.3 1835.2h0M1335.7 1821.9h0M1334.1 1818.8h0M1333.8 1824.4h0M1336.3 1818.8h0M1333.9 1836.9h0M1335 1814.2h0M1334.2 1823.4h0M1333.4 1845.5h0M1327.8 1872.5h0M1330.3 1865.5h0M1327.8 1868.4h0M1337.8 1864.2h0M1331.5 1847h0M1335.8 1850h0M1329.6 1869h0M1327.8 1874.8h0M1336.3 1864.1h0M1327.3 1867.2h0M1331.3 1848.8h0M1340.3 1875.9h0M1328.6 1858.4h0M1329 1868.1h0M1340.5 1874.6h0M1337.8 1871.9h0M1338.6 1871.8h0M1335.9 1860.9h0M1334.5 1846.7h0M1339.3 1862.8h0M1332.6 1872h0M1334.7 1870h0M1326.4 1867.6h0M1331.1 1855.9h0M1339.6 1869.9h0M1353.2 1837.6h0M1354.2 1860h0M1351.8 1860.2h0M1353.4 1849h0M1352.8 1863.3h0M1352.5 1861.7h0M1352.2 1850.9h0M1353.4 1854h0M1354.1 1843.7h0M1353.5 1838.5h0M1354.5 1851.9h0M1394.8 1766.3h0M1393.4 1781.8h0M1394.3 1796.3h0M1395.5 1800.4h0M1395.3 1787.8h0M1394.1 1796h0M1395.1 1778h0M1393.1 1792.3h0M1394.6 1776.4h0M1394.8 1772.8h0M1394.1 1786.1h0M1395.7 1798.3h0M1394.9 1771.6h0M1395.3 1805.7h0M1393.5 1805.5h0M1398.7 1821.8h0M1397 1829.4h0M1397 1829.8h0M1397 1830.3h0M1397 1842.1h0M1397 1823.9h0M1397 1838.7h0M1297.7 1877.2h0M1300.5 1878h0M1295 1884.3h0M1301.9 1890.2h0M1307.4 1907.6h0M1305.3 1905.3h0M1290.3 1895.3h0M1293.1 1887.9h0M1293.9 1883.5h0M1291.3 1890.7h0M1302.7 1889.9h0M1297.8 1888.2h0M1287 1905.3h0M1298.6 1902.2h0M1301 1879.5h0M1289.2 1903.9h0M1299.5 1908h0M1292.2 1899.8h0M1299.5 1879.5h0M1291.3 1901.8h0M1298.4 1879.7h0M1333.4 1677.2h0M1341.3 1693.1h0M1341.3 1726.7h0M1333.4 1736.6h0M1336.5 1788.1h0M1388.8 1672.5h0M1303.7 1851.5h0M1372.2 1856.6h0M1367 1879.2h0M1367 1905h0M1382.9 1885.1h0M1389 1458h0M1389 1462.5h0M1389 1467h0M1389 1471.5h0M1389 1476h0M1389 1480.5h0M1389 1485h0M1389.2 1567h0M1388.2 1571h0M1389.5 1575h0M1389.3 1579h0M1389.5 1590h0M1389.4 1594h0M1388.7 1598h0M1388.7 1602h0M1388.3 1606h0M1389.1 1610h0M1388.2 1614h0M1388.2 1625h0M1388.4 1629h0M1388.4 1633h0M1388.6 1637h0M1388.2 1641h0M1388.1 1645h0M1388.3 1649h0M1388.9 1672h0"/>
<path fill="#0000FF" d="M1399.5 2105L1399.5 1957.6L1403.5 1957.6L1405 1947.3L1406.5 1941.9L1408 1942.5L1409.5 1945L1411 1934L1412.5 1941.1L1414 1948.9L1415.5 1948.4L1417 1953.5L1418.5 1954.7L1420 1956.1L1421.5 1951.7L1423 1945L1424.5 1940.1L1426 1939.2L1427.5 1930.9L1429 1931.3L1430.5 1939.1L1432 1940L1433.5 1937.2L1435 1936L1436.5 1933.1L1438 1941.3L1439.5 1942.6L1441 1926.1L1442.5 1934.8L1444 1927.7L1445.5 1928.7L1447 1932L1448.5 1920.5L1450 1926.7L1451.5 1925.9L1453 1930L1454.5 1935.1L1456 1930.4L1457.5 1926.2L1459 1933.1L1460.5 1929.5L1462 1924.5L1463.5 1928.6L1465 1918L1466.5 1909.5L1468 1902.5L1469.5 1906.3L1471 1911.1L1472.5 1910.3L1474 1921.2L1475.5 1922.6L1477 1926.4L1478.5 1930.3L1480 1926.7L1481.5 1926.3L1485.3 1926.3L1485.3 2105Z"/>
<path fill="none" stroke="#0000FF" stroke-width="9" stroke-linecap="round" d="M1403.6 1953.4h0M1403.4 1947.8h0M1403.9 1942.7h0M1403.9 1936.8h0M1403.6 1933.7h0M1403.4 1929.5h0M1403.6 1924.4h0M1403.6 1919.7h0M1403.8 1918.9h0M1406.6 1946.1h0M1407 1937.7h0M1406.9 1934.5h0M1408.8 1943.8h0M1408.7 1937.5h0M1411.5 1944.9h0M1411.8 1940.8h0M1411.7 1931.7h0M1415.3 1948.4h0M1414.8 1944h0M1414.7 1939.5h0M1414.5 1935.3h0M1414.8 1931.9h0M1414.8 1926.2h0M1414.7 1920.6h0M1414.4 1916.1h0M1415.2 1913h0M1414.9 1909.6h0M1414.7 1904.5h0M1415.1 1900.5h0M1414.6 1896.5h0M1414.7 1892.1h0M1414.9 1888.9h0M1415.2 1885h0M1414.6 1881.9h0M1414.8 1878.9h0M1414.8 1878.6h0M1417.2 1949.7h0M1416.5 1944.8h0M1416.3 1931.8h0M1416.5 1928.2h0M1416.8 1921.7h0M1420.2 1951.2h0M1420.1 1945.5h0M1422.9 1949.8h0M1422.9 1945.4h0M1422.5 1940.6h0M1422.9 1935.2h0M1424.3 1946.7h0M1424.5 1936.5h0M1424.4 1924.5h0M1424.2 1923.1h0M1427.8 1938h0M1427.6 1934.1h0M1427.5 1928.2h0M1430 1936.9h0M1429.3 1931.6h0M1429.6 1929.8h0M1431.3 1939.1h0M1431.4 1934.1h0M1431.9 1930.4h0M1431.3 1924.5h0M1432.1 1918.9h0M1431.6 1913.7h0M1431.7 1913h0M1434.5 1941.5h0M1434.6 1935.7h0M1434.5 1929.8h0M1434 1923.9h0M1434 1919h0M1433.8 1914.6h0M1434.3 1909.2h0M1433.9 1905h0M1433.9 1901.9h0M1434.1 1898.4h0M1434.1 1892.7h0M1433.8 1888.4h0M1434.6 1884.6h0M1434.6 1879.8h0M1434 1874.4h0M1434.1 1867.3h0M1437.1 1939.4h0M1436.9 1936.4h0M1437.4 1928.6h0M1437.4 1927.2h0M1438.9 1937.8h0M1439.6 1934.5h0M1439.3 1928.8h0M1438.9 1924.6h0M1439.6 1919.6h0M1439.6 1915.9h0M1439.2 1915.2h0M1440.6 1937.3h0M1441.3 1933.4h0M1440.7 1929.3h0M1440.4 1923.7h0M1440.7 1920h0M1441 1916.2h0M1441.1 1913.2h0M1440.4 1904.1h0M1441.2 1899.1h0M1441 1893.5h0M1440.8 1879.7h0M1443.8 1935h0M1444 1931.8h0M1444.3 1927.6h0M1443.8 1923.9h0M1443.8 1903.4h0M1445.1 1931.8h0M1445.5 1926.7h0M1445.1 1922.7h0M1445.8 1913.7h0M1445.5 1903.8h0M1445.4 1900.5h0M1445.5 1894.6h0M1448.5 1923.9h0M1448.5 1918.9h0M1448.5 1909.7h0M1448.4 1904.9h0M1448.9 1899.2h0M1448.9 1889.5h0M1448.9 1885.9h0M1448.6 1883.5h0M1451.5 1935h0M1452.3 1929.3h0M1451.4 1924.7h0M1452 1921.3h0M1452.2 1917.2h0M1451.9 1910.6h0M1451.5 1907h0M1451.9 1902.4h0M1452 1898.7h0M1452 1890.8h0M1452 1885.1h0M1451.3 1877.4h0M1451.8 1874.5h0M1454.6 1934h0M1454.4 1929.8h0M1454.7 1928.9h0M1458 1933.3h0M1457.4 1929.6h0M1457.7 1924.6h0M1457.2 1920.4h0M1457.5 1914.4h0M1457.9 1908.8h0M1457.7 1904.6h0M1457.6 1901.3h0M1459.7 1927.4h0M1459.4 1926.9h0M1461.6 1932.6h0M1461.6 1929.2h0M1461.5 1923.5h0M1464 1920h0M1464 1919.3h0M1468 1910.5h0M1467.1 1907.1h0M1467.1 1904.1h0M1467.6 1900.7h0M1469.7 1909.7h0M1470.2 1906.9h0M1470.2 1892.4h0M1469.8 1889.2h0M1469.6 1885.3h0M1469.5 1879.8h0M1470 1875.3h0M1469.7 1868.1h0M1469.8 1862.3h0M1469.9 1850.8h0M1470 1847.7h0M1469.7 1843h0M1470 1838.5h0M1470 1836.1h0M1471.2 1913.1h0M1471.3 1907.7h0M1472.1 1903.8h0M1471.6 1903.6h0M1474.3 1924.4h0M1474.7 1920.9h0M1474.7 1920.5h0M1478.6 1932.1h0M1477.7 1923h0M1478.1 1918.9h0M1480.2 1933.6h0M1480.5 1929.3h0M1480.8 1924.9h0M1480.3 1919.8h0M1480.3 1914.2h0M1480.8 1910.7h0M1480.7 1907.5h0M1480.9 1902.5h0M1480.3 1898.8h0M1480.9 1893.2h0M1480.5 1888.7h0M1480.9 1885.6h0M1480.2 1882.8h0M1480.6 1880.5h0M1405.4 1815.8h0M1405.2 1818.1h0M1404 1845h0M1407.2 1828.2h0M1404.8 1843.8h0M1406.9 1837.8h0M1403.6 1829.5h0M1406.2 1830h0M1405.1 1844.7h0M1405 1831.1h0M1403.5 1836.3h0M1408 1843.6h0M1404.4 1818h0M1417.7 1794.1h0M1417 1812.3h0M1418.9 1829.9h0M1418.9 1821.7h0M1417.1 1808.4h0M1417.6 1815.3h0M1418.5 1807h0M1417.1 1829.2h0M1417.3 1808.4h0M1418.1 1815.8h0M1419.1 1830.1h0M1417.3 1800.7h0M1418.8 1815.1h0M1412.6 1845.5h0M1415.3 1863.2h0M1411.9 1873.1h0M1415.7 1860.8h0M1419.7 1868.2h0M1417.2 1857.4h0M1417.3 1864h0M1413.5 1868.2h0M1405.6 1873.7h0M1412.4 1857.8h0M1407.5 1872.8h0M1406 1871.8h0M1412.2 1860h0M1412.9 1870.2h0M1415.8 1873.6h0M1412.8 1861h0M1416.9 1861.2h0M1409.2 1858.5h0M1410.1 1856.6h0M1415.6 1872.6h0M1411.8 1856.6h0M1420.4 1874.7h0M1416.8 1855.8h0M1416 1849.3h0M1417.5 1859h0M1413.8 1847.9h0M1418.1 1875.4h0M1407.9 1866.4h0M1416.9 1856.3h0M1407.9 1874h0M1413.8 1859.8h0M1442.3 1726.7h0M1441.7 1772h0M1441 1826.5h0M1442 1805.4h0M1443.2 1789.7h0M1443.1 1815.7h0M1442.6 1731.8h0M1440.7 1819.9h0M1442.7 1763h0M1442.4 1826.6h0M1440.9 1828.3h0M1442.9 1767.1h0M1441.4 1820h0M1442.1 1799.4h0M1442 1815.1h0M1442.8 1773.8h0M1441.9 1811.2h0M1441.6 1812.9h0M1441.5 1792.7h0M1442.1 1776.5h0M1442 1744.7h0M1441.9 1777.4h0M1443.3 1793.3h0M1441.6 1824.9h0M1441.6 1751.4h0M1443.2 1828h0M1443.5 1815.1h0M1441.5 1782.6h0M1442.1 1745.1h0M1441 1817.7h0M1441.3 1786.4h0M1442.4 1761.7h0M1443.6 1807h0M1441.7 1774h0M1441.8 1740.4h0M1441.6 1735.7h0M1442.3 1748.7h0M1443.3 1788.3h0M1441.2 1791.2h0M1442.6 1752.9h0M1443.2 1836h0M1442 1764.1h0M1442.1 1786.4h0M1441.6 1769.7h0M1442.8 1734h0M1444 1835.6h0M1442.7 1780.4h0M1441.6 1760.7h0M1442.1 1728h0M1442.4 1820.3h0M1442.2 1764h0M1446.2 1837.6h0M1443 1862.6h0M1450.5 1859.3h0M1451.1 1859.3h0M1441.7 1868.7h0M1448.9 1874.8h0M1443.2 1859.1h0M1442.6 1866.6h0M1442.8 1859.8h0M1450.7 1858.1h0M1446.4 1864.6h0M1448 1865.2h0M1443.8 1864.7h0M1447 1850h0M1451.4 1875.1h0M1444.1 1860.8h0M1441.2 1864.2h0M1449.2 1861.1h0M1440.4 1876.3h0M1446.1 1849.5h0M1451.5 1864.9h0M1443.9 1845.1h0M1449.2 1860.6h0M1445.6 1840.4h0M1445.3 1868.3h0M1443.2 1848.5h0M1446.4 1869.9h0M1448.2 1862.5h0M1445 1869.9h0M1450 1856.2h0M1447.8 1843.3h0M1474 1871.3h0M1474.1 1892.3h0M1475.7 1884.6h0M1473.2 1886.7h0M1475 1875.8h0M1471 1904h0M1473.2 1880.3h0M1474 1873.9h0M1475.4 1904.5h0M1476.4 1893.8h0M1473.2 1886.7h0M1474.4 1885.2h0M1472.1 1892.5h0M1476.3 1893.4h0M1474.8 1905.4h0M1486.2 1679.2h0M1481.8 1693.4h0M1481.8 1688.6h0M1481.8 1684h0M1481.8 1688.7h0M1481.8 1688.6h0M1486.2 1784.2h0M1481.8 1814h0M1481.8 1806.9h0M1481.8 1810.4h0M1481.8 1820.1h0M1481.8 1819.6h0M1481.8 1824.3h0M1481.8 1793.9h0M1481.8 1798.6h0M1481.8 1808.1h0M1481.8 1812.2h0M1481.8 1799.5h0M1481.8 1798.3h0M1481.8 1794.6h0M1481.8 1807h0M1436.3 1873.3h0M1438 1880.9h0M1436.1 1881.5h0M1432.4 1883.8h0M1433 1877.8h0M1440.7 1884.3h0M1439 1879.3h0M1440.2 1881h0M1434.4 1884.3h0M1417.7 1783.4h0M1442.3 1713.7h0M1456.1 1823.8h0M1456.1 1834.5h0M1467.2 1830.9h0M1486.2 1857.4h0M1436.3 1823.8h0M1485 1873.3h0"/>
<path fill="#BEBEBE" d="M1484.3 2105L1484.3 1943.1L1488.3 1943.1L1489.8 1943.7L1491.3 1950.6L1492.8 1944.2L1494.3 1942.4L1495.8 1939L1497.3 1946.9L1498.8 1941.2L1500.3 1939.8L1501.8 1931.7L1503.3 1930.1L1504.8 1933.2L1506.3 1939.8L1507.8 1942L1509.3 1940.7L1510.8 1943.9L1512.3 1940L1513.8 1937.5L1515.3 1946.1L1516.8 1946.3L1518.3 1938.3L1519.8 1940.1L1521.3 1943.5L1522.8 1941.7L1524.3 1949.4L1525.8 1942.3L1527.3 1937.9L1528.8 1937.1L1530.3 1921.2L1531.8 1921.3L1533.3 1936.6L1534.8 1936L1536.3 1922.2L1537.8 1927.6L1539.3 1921.1L1540.8 1934.2L1542.3 1937.7L1543.8 1937.1L1545.3 1932.5L1546.8 1941.1L1548.3 1938.4L1549.8 1934L1551.3 1941.6L1552.8 1935.8L1554.3 1944L1555.8 1938.2L1557.3 1941L1558.8 1935.9L1560.3 1936.4L1561.8 1939.8L1563.3 1938.9L1564.8 1941.2L1566.3 1947.1L1567.8 1938.9L1569.3 1937.5L1570.8 1933.7L1572.3 1930.8L1573.8 1925L1575.3 1923.5L1576.8 1923.8L1578.3 1917.7L1579.8 1926.2L1581.3 1926.5L1582.8 1926.8L1584.3 1926.3L1585.8 1927.9L1587.3 1928.2L1588.8 1929.3L1593.8 1929.3L1593.8 2105Z"/>
<path fill="none" stroke="#BEBEBE" stroke-width="9" stroke-linecap="round" d="M1488.5 1945.4h0M1488.5 1939.4h0M1489 1936.5h0M1488.6 1936.3h0M1492.3 1949.8h0M1491.7 1944.6h0M1492 1933.5h0M1491.7 1928.4h0M1491.9 1926.7h0M1493.5 1949.4h0M1494.1 1945h0M1493.6 1940.9h0M1493.8 1938.8h0M1496.5 1946.2h0M1496.9 1941.1h0M1496.1 1935.9h0M1496.9 1931.9h0M1496.8 1924.6h0M1496.6 1924.2h0M1499 1944.8h0M1498.8 1940.5h0M1502.3 1940.7h0M1501.8 1935.9h0M1501.8 1926.6h0M1504.8 1937.7h0M1504.8 1924.5h0M1506.6 1939h0M1506.3 1933h0M1506.6 1926.1h0M1506.1 1921h0M1506.5 1909.8h0M1509.6 1943.1h0M1509.7 1939.5h0M1512.9 1945.2h0M1512.3 1942.3h0M1512.8 1938.7h0M1512.4 1935.5h0M1512.4 1931.6h0M1512.5 1926.2h0M1513.2 1920.5h0M1512.8 1918.9h0M1515.3 1945.7h0M1515.6 1939.6h0M1515.4 1939.3h0M1517.9 1945.6h0M1517.8 1942.7h0M1517.7 1938.3h0M1517.2 1934.9h0M1517.4 1929.3h0M1517.7 1923.9h0M1517.7 1920.3h0M1517.4 1914.2h0M1517.8 1908.9h0M1517.8 1903.3h0M1517.4 1899.5h0M1517.4 1894.1h0M1517.5 1875.5h0M1517.5 1873.1h0M1518.9 1945.3h0M1519.2 1941.1h0M1518.6 1937.9h0M1518.5 1934.7h0M1518.8 1930.4h0M1519 1923.6h0M1518.9 1923.3h0M1520.4 1945.1h0M1520.6 1942h0M1520.3 1938h0M1520.4 1927h0M1520.2 1922.4h0M1520.2 1917.7h0M1520.9 1904.4h0M1520.5 1892.7h0M1521.4 1942.2h0M1521.4 1936.9h0M1522.2 1931.4h0M1521.7 1927.3h0M1521.8 1922h0M1521.4 1918.4h0M1522 1914.7h0M1522.3 1911.4h0M1522.2 1906.5h0M1522.3 1901.2h0M1521.3 1896.7h0M1521.8 1893.5h0M1521.4 1888h0M1522.2 1884.8h0M1521.8 1881.1h0M1522.9 1945.4h0M1522.9 1941.9h0M1523 1938.1h0M1523.4 1933.3h0M1523.3 1929.6h0M1523.2 1929.3h0M1525.5 1944.6h0M1524.6 1939.8h0M1525.4 1935.2h0M1525.5 1929.9h0M1525 1927h0M1525.2 1915.9h0M1524.7 1912.7h0M1525.1 1908.9h0M1525.3 1905.8h0M1525.4 1902h0M1524.7 1891.2h0M1525 1885.6h0M1529 1937.6h0M1529 1934.5h0M1528.3 1931.3h0M1528.6 1926h0M1529 1921.3h0M1529 1918.3h0M1528.9 1913.8h0M1528.9 1909.6h0M1528.6 1907.5h0M1531.5 1935.6h0M1531.5 1932.7h0M1532.3 1927.9h0M1531.7 1925h0M1532 1918.9h0M1532.5 1913.3h0M1531.8 1909.5h0M1531.5 1905.5h0M1531.9 1885.8h0M1532 1874.9h0M1534.6 1935.9h0M1534.9 1932.2h0M1534.6 1928.1h0M1534.9 1924.2h0M1534.6 1920.8h0M1534.5 1914.8h0M1535.2 1900.5h0M1535.2 1895.5h0M1534.3 1891.1h0M1535.2 1886h0M1534.5 1880h0M1534.8 1877.9h0M1535.7 1935.8h0M1535.8 1932h0M1536.1 1926.7h0M1539.1 1936.9h0M1538.9 1931.7h0M1538.7 1926.2h0M1538.4 1923.3h0M1538.4 1919h0M1539.3 1913.3h0M1538.8 1908.1h0M1538.6 1899.7h0M1538.8 1897.4h0M1541.1 1938.2h0M1540.3 1934h0M1541 1930.2h0M1540.8 1925.6h0M1540.6 1922.2h0M1540.7 1919.2h0M1540.6 1917.2h0M1542.7 1939.6h0M1543.1 1936.3h0M1542.6 1935.4h0M1546.5 1942.2h0M1545.8 1936.6h0M1546.2 1932.9h0M1546.3 1929.9h0M1547.5 1942.7h0M1547.8 1938.5h0M1548.1 1932.1h0M1548 1931.4h0M1550.4 1941.1h0M1550.7 1936.3h0M1550.9 1932.3h0M1550.9 1928h0M1550.3 1922.8h0M1550.7 1919.4h0M1550.3 1916.3h0M1551 1911.8h0M1550.7 1910.5h0M1553.2 1940.3h0M1552.7 1930.5h0M1552.4 1927h0M1552.6 1922.1h0M1552.9 1922h0M1554.8 1941.2h0M1555.4 1935.8h0M1555.2 1931.3h0M1556.6 1942h0M1557 1938.4h0M1556.4 1934.5h0M1556 1928.5h0M1556.8 1923.5h0M1556.4 1920.3h0M1556.1 1916.6h0M1556.1 1913.6h0M1556.7 1910.7h0M1556.8 1905.8h0M1556.9 1902.8h0M1556.4 1899.8h0M1556.8 1895.8h0M1556.4 1890.4h0M1556.5 1886h0M1558.8 1944h0M1558.7 1938.5h0M1559 1934.7h0M1562.1 1945.5h0M1561.9 1940.9h0M1562.2 1935.2h0M1561.9 1930.6h0M1561.8 1927.2h0M1562 1923h0M1562.4 1914.1h0M1562.2 1909.7h0M1562.3 1898.6h0M1562.3 1896h0M1564.6 1944.1h0M1565 1939.5h0M1564.3 1934.8h0M1564.9 1930.7h0M1564.7 1925.7h0M1564.7 1916h0M1565.1 1900.2h0M1564.7 1898.6h0M1566.5 1943.2h0M1566.5 1936.3h0M1566.6 1933.5h0M1569.8 1941.6h0M1570.2 1938.3h0M1570.3 1934.8h0M1570.2 1930.8h0M1569.4 1925.9h0M1569.6 1922h0M1570.1 1913.7h0M1570.3 1908.6h0M1569.9 1904.6h0M1569.7 1899h0M1569.9 1897.8h0M1573 1934.4h0M1573.5 1925h0M1572.8 1920.2h0M1573.6 1914.5h0M1573.3 1891.3h0M1576.6 1926.9h0M1577.4 1921.2h0M1576.5 1917.3h0M1576.8 1911.6h0M1577.3 1906.6h0M1576.9 1902.9h0M1577.1 1898.5h0M1577.3 1891.2h0M1576.9 1885.5h0M1579.6 1925.6h0M1579.2 1922.2h0M1579.7 1916.3h0M1579 1912.1h0M1579 1908.6h0M1579.5 1903.7h0M1579.3 1893.9h0M1579.3 1890h0M1581.2 1924.6h0M1581.5 1920.1h0M1581.5 1906.5h0M1581.1 1902.2h0M1581.7 1896.2h0M1581.2 1891.8h0M1581.5 1885.9h0M1581.5 1881.7h0M1580.9 1877.2h0M1581.4 1872.2h0M1581.1 1864.6h0M1581.6 1860.7h0M1581.6 1850.5h0M1581.1 1846.5h0M1581.6 1842.4h0M1581.4 1836.5h0M1581.4 1830.6h0M1583.2 1927.5h0M1583.4 1923.1h0M1583.1 1917.1h0M1583 1907.3h0M1583.4 1904.2h0M1586.3 1931.1h0M1586.9 1925.7h0M1586.6 1915h0M1589.2 1932.5h0M1588.9 1927.2h0M1588.9 1925.1h0M1551.2 1659.4h0M1551.4 1661h0M1551.1 1674.7h0M1551.3 1668.3h0M1551.8 1667.1h0M1551.2 1710.9h0M1551.2 1715.9h0M1551.7 1722.9h0M1550.7 1717.4h0M1550.4 1722.9h0M1553.2 1766.3h0M1546.9 1862.3h0M1557.4 1867.2h0M1557.2 1832.9h0M1555.4 1858.3h0M1549.9 1806.6h0M1550.6 1788.4h0M1555.6 1848.9h0M1551.5 1872.7h0M1556.4 1818.2h0M1559.3 1859.4h0M1555.3 1769.7h0M1556 1823.5h0M1553.5 1800.5h0M1555.9 1855.9h0M1548.2 1850.8h0M1547 1870.1h0M1554 1861.9h0M1550 1844h0M1556.5 1859.2h0M1556.6 1805.4h0M1556.6 1823.7h0M1552.2 1803.5h0M1549.7 1801h0M1550.9 1792h0M1553 1833.9h0M1555.7 1786.9h0M1553.4 1845.2h0M1552.5 1808.3h0M1552.1 1869.7h0M1557.5 1832.6h0M1556.5 1822h0M1554.3 1781.1h0M1551.7 1789.1h0M1555.4 1783.9h0M1557.2 1868.2h0M1549.2 1832.2h0M1557.4 1834.3h0M1547.1 1853.1h0M1559.6 1876.2h0M1547.9 1840.8h0M1554.7 1852.4h0M1552.9 1768.1h0M1551.1 1771.7h0M1556.3 1849.3h0M1550.2 1814.1h0M1551 1808.3h0M1550.7 1837.8h0M1546.5 1869.9h0M1554.1 1803.2h0M1549.1 1827h0M1551.1 1820.7h0M1549.8 1860h0M1555.2 1845.6h0M1548.8 1823.9h0M1549 1835.7h0M1556.5 1804.4h0M1556.4 1796.4h0M1550 1794.3h0M1554.9 1774.6h0M1550.1 1868.5h0M1551.8 1816.3h0M1550.9 1845.1h0M1554.7 1829.1h0M1550.2 1808.5h0M1554.9 1846.9h0M1552.9 1768.1h0M1554.4 1864.2h0M1558.8 1848.9h0M1552.4 1799.9h0M1555.8 1792.8h0M1557.3 1840.6h0M1551.3 1847.3h0M1550.4 1852.1h0M1554.5 1832.7h0M1549.9 1858.1h0M1584.9 1845.5h0M1585.1 1871.2h0M1582.9 1867.9h0M1583.1 1865.1h0M1586.2 1868h0M1584.6 1861h0M1585.1 1867.8h0M1586.9 1876.7h0M1584.1 1869.4h0M1585.3 1849.1h0M1585.5 1855.9h0M1586.6 1868.5h0M1584.8 1849.4h0M1531.4 1865.3h0M1529.6 1877.7h0M1534.7 1875.4h0M1532 1880.7h0M1531.8 1870.9h0M1526 1885h0M1528.8 1877.7h0M1525.7 1883.1h0M1529.4 1892.7h0M1523.3 1891.5h0M1537.6 1887.7h0M1529.9 1880.3h0M1528.6 1884.8h0M1535.4 1875h0M1531.4 1885.3h0M1535.1 1880.8h0M1528 1887.5h0M1530.4 1876.9h0M1530.8 1868.5h0M1532.7 1870.8h0M1529.5 1877.5h0M1499.7 1853.5h0M1498.1 1863.6h0M1502.2 1864h0M1500.1 1871h0M1503 1866.9h0M1496.6 1875h0M1494.8 1877.2h0M1502.6 1885h0M1499.3 1863.4h0M1502.8 1883h0M1500.6 1879.9h0M1500.6 1862.8h0M1496.5 1874.5h0M1515.5 1851.5h0M1519.5 1855.4h0M1551.2 1697h0M1551.2 1748.5h0M1584.1 1815.8h0M1543.3 1827.7h0"/>
<path fill="#0000FF" d="M1592.8 2105L1592.8 1929.7L1596.8 1929.7L1598.3 1928.4L1599.8 1919.8L1601.3 1923.1L1602.8 1916.2L1604.3 1918L1605.8 1916.2L1607.3 1910.5L1608.8 1910.5L1610.3 1911.2L1611.8 1914.2L1613.3 1909.3L1614.8 1910.2L1616.3 1919.9L1617.8 1907.9L1619.3 1910.6L1620.8 1917.2L1622.3 1925.4L1623.8 1924.3L1625.3 1930.1L1626.8 1927.2L1628.3 1924.9L1629.8 1933.7L1631.3 1927L1632.8 1930.6L1634.3 1934.2L1635.8 1926L1637.3 1935.2L1638.8 1929.8L1640.3 1938.7L1641.8 1944.3L1643.3 1939.7L1644.8 1948.7L1646.3 1947.4L1647.8 1941.4L1649.3 1942.7L1650.8 1936.7L1652.3 1942.6L1653.8 1936.1L1655.3 1926L1656.8 1931.1L1658.3 1928L1659.8 1926.4L1661.3 1923.6L1662.8 1927L1664.3 1919L1665.8 1930.1L1667.3 1923.6L1668.8 1926.5L1670.3 1917.1L1671.8 1919.7L1673.3 1921.2L1674.8 1909.8L1676.3 1907L1677.8 1913L1679.3 1919.3L1680.8 1910.4L1682.3 1916.6L1683.8 1917.1L1685.3 1913.6L1686.8 1918.4L1688.3 1917.2L1689.8 1923L1691.3 1923.3L1692.8 1921.6L1694.3 1930.1L1695.8 1931.3L1697.3 1936.8L1698.8 1938.3L1700.3 1941.8L1701.8 1940L1703.3 1931.3L1704.8 1935.2L1706.3 1936.6L1707.8 1945.7L1711.4 1945.7L1711.4 2105Z"/>
<path fill="none" stroke="#0000FF" stroke-width="9" stroke-linecap="round" d="M1597.1 1933.9h0M1597.2 1928.1h0M1597.3 1919.2h0M1597.5 1914h0M1596.7 1911h0M1597.1 1903h0M1600.1 1925.4h0M1600.1 1921.2h0M1599.7 1917.3h0M1599.8 1912.4h0M1599.7 1907.7h0M1600.3 1904.7h0M1600.1 1901.4h0M1600 1897.9h0M1600 1890.8h0M1604 1919.4h0M1603.3 1914.6h0M1603.3 1910.7h0M1603.3 1907.6h0M1603.8 1902.9h0M1603.7 1898.8h0M1604 1890.8h0M1603.7 1877.6h0M1607.2 1918.5h0M1606.9 1915h0M1610.3 1913.6h0M1610.9 1909.5h0M1610.3 1900.1h0M1610.6 1896.4h0M1610.1 1892h0M1610.1 1886.6h0M1610.3 1882h0M1610.4 1873.9h0M1610.5 1865.1h0M1610.9 1848.1h0M1610.4 1841.8h0M1612 1911.6h0M1612.2 1902.1h0M1612.4 1901.2h0M1614.7 1911.4h0M1614.9 1906.7h0M1614.8 1905h0M1617.6 1912.5h0M1617.6 1906.8h0M1617.1 1903h0M1617.7 1899.7h0M1616.9 1894.8h0M1616.9 1889.5h0M1617.8 1883.4h0M1617.3 1868.2h0M1617.1 1863.3h0M1617.3 1852.7h0M1620.7 1919.4h0M1621.2 1914.4h0M1620.4 1911.1h0M1620.9 1907.6h0M1621.9 1923h0M1622.6 1918h0M1622.3 1910.9h0M1622.3 1908.9h0M1625.4 1928.4h0M1626 1924.8h0M1625.6 1919.8h0M1625.3 1914.5h0M1625.7 1912.1h0M1626.8 1929.6h0M1627.4 1925.8h0M1626.7 1922.7h0M1627.5 1918.5h0M1627.1 1917.7h0M1629.1 1930.6h0M1629.3 1925.1h0M1629.3 1915.1h0M1629 1910.4h0M1629.1 1904.6h0M1629.3 1900.2h0M1628.8 1894.1h0M1629 1888h0M1632.4 1928.7h0M1632.1 1922.8h0M1632.4 1921.9h0M1634.8 1934.1h0M1634.1 1929.8h0M1634.8 1925.8h0M1634 1921.5h0M1634.7 1917.3h0M1634.4 1909.8h0M1634 1905.8h0M1634.2 1895.2h0M1634.3 1891.3h0M1634.8 1887.6h0M1634.7 1879.1h0M1634.6 1861.6h0M1634.5 1860.9h0M1636.9 1936.9h0M1636.9 1931.3h0M1637 1927.2h0M1637.1 1921.3h0M1636.8 1917.1h0M1636.8 1906.6h0M1638.7 1938.3h0M1638.6 1932.8h0M1638.8 1929.3h0M1638.2 1919.1h0M1638.8 1906.4h0M1638.6 1894.9h0M1637.9 1891.7h0M1638.3 1887.5h0M1638.4 1884.8h0M1641.8 1942.5h0M1641.3 1938.7h0M1641.7 1935h0M1641.2 1930h0M1641 1926.3h0M1641.1 1920.2h0M1641.4 1907.1h0M1641.5 1903.5h0M1641.6 1892.3h0M1641.1 1876.3h0M1641.3 1871.5h0M1641.3 1867h0M1641.4 1857.2h0M1642.9 1945.8h0M1643.2 1940.4h0M1643.3 1936.8h0M1643 1933.4h0M1643 1930.4h0M1642.9 1927.2h0M1642.6 1915h0M1643.3 1910.2h0M1642.6 1907.2h0M1643.3 1901.3h0M1643.3 1893.3h0M1643.1 1883.7h0M1642.9 1873h0M1643.1 1869.2h0M1642.7 1864.4h0M1642.7 1860.7h0M1642.9 1859.9h0M1645.2 1948.9h0M1645.2 1934.7h0M1644.6 1931.2h0M1644.9 1927.8h0M1645.1 1924.6h0M1644.5 1919.1h0M1645.3 1916.2h0M1644.8 1913.6h0M1647.8 1949h0M1647.1 1944.3h0M1647.1 1938.3h0M1647.8 1935.4h0M1647.1 1926.5h0M1647.5 1922.1h0M1647.3 1914.1h0M1647.4 1908.5h0M1647.5 1904.1h0M1650.9 1943.7h0M1651.7 1939.8h0M1651.4 1934.7h0M1651.3 1930.4h0M1655 1935h0M1655.1 1930.1h0M1655.1 1925.8h0M1655 1921.7h0M1655.1 1917.8h0M1656.5 1931.6h0M1656.6 1925.7h0M1656.5 1919.8h0M1656.4 1914.6h0M1656.5 1911.4h0M1656.8 1904.8h0M1659.6 1929h0M1659.6 1923.5h0M1659.2 1920h0M1659.5 1915.8h0M1659.5 1912.9h0M1659.4 1911.4h0M1662.8 1929.4h0M1662.9 1926.4h0M1662.6 1921h0M1663.2 1911.9h0M1662.8 1908.4h0M1662.7 1903.6h0M1666.1 1931.2h0M1665.8 1927.8h0M1666.1 1924.1h0M1666.4 1913.4h0M1666.3 1907.8h0M1670.4 1925h0M1670.1 1921.3h0M1669.5 1908.7h0M1669.8 1900.9h0M1669.9 1899.9h0M1671.6 1919.8h0M1672.2 1914.9h0M1672 1905.7h0M1672 1900.1h0M1672.1 1898.9h0M1673.1 1917.1h0M1673.1 1911.3h0M1673.5 1906.1h0M1675.5 1915.2h0M1675.4 1911h0M1675.6 1907.4h0M1675.9 1903.9h0M1676.1 1897.9h0M1676 1893.3h0M1675.5 1890.4h0M1675.8 1885.3h0M1675.7 1878.3h0M1676 1874.4h0M1676.3 1870.2h0M1675.8 1870h0M1678.8 1911.2h0M1679.3 1903.9h0M1680.5 1916.5h0M1680.7 1911.1h0M1680.9 1906.8h0M1683.5 1918.5h0M1683.9 1915.7h0M1683.5 1912.3h0M1683.4 1906.5h0M1686.9 1921.5h0M1687 1917.1h0M1686.5 1913.7h0M1686.3 1910.6h0M1686.9 1907.2h0M1686.6 1902.1h0M1686.2 1898.1h0M1686.6 1892h0M1689.6 1924.3h0M1689.7 1920h0M1693 1928.3h0M1692.7 1924.5h0M1692.2 1919.1h0M1692.5 1911.4h0M1692.7 1902.9h0M1692.5 1896.9h0M1693 1893.4h0M1692.7 1888.4h0M1695.2 1934.6h0M1695 1922.5h0M1695.3 1919.1h0M1698.1 1943.7h0M1698.1 1939.9h0M1698.3 1935.5h0M1698.6 1928.6h0M1701.6 1943.5h0M1702.3 1935.6h0M1702.4 1932.7h0M1701.7 1928h0M1701.5 1922.8h0M1701.6 1918.5h0M1701.8 1915.2h0M1702.3 1909.3h0M1701.6 1906.4h0M1701.9 1903.5h0M1704 1940.5h0M1704.1 1936.7h0M1703.5 1931.1h0M1703.6 1920.1h0M1704.2 1914.4h0M1703.5 1908.6h0M1704.3 1899.6h0M1704.4 1894.8h0M1703.6 1891.8h0M1703.9 1886.1h0M1707.1 1940.7h0M1707.1 1934.9h0M1706.7 1932.6h0M1613.8 1837.6h0M1612.8 1861.3h0M1614.8 1855.9h0M1613 1858.9h0M1612.9 1849.2h0M1614.7 1851.9h0M1614.6 1847.2h0M1613.7 1846.4h0M1614.7 1855.1h0M1630.4 1805.9h0M1629.9 1821.1h0M1631 1813.8h0M1631.3 1819.3h0M1631.1 1811.8h0M1630.7 1818.9h0M1662.1 1815.8h0M1662.9 1828.9h0M1662.6 1819.8h0M1663.1 1831.3h0M1661.4 1835.8h0M1662.1 1828.4h0M1661.4 1822.5h0M1660.6 1837h0M1662.2 1843.7h0M1660.9 1828.5h0M1661.7 1827.2h0M1660.1 1849.5h0M1659.3 1857.5h0M1664.2 1884.2h0M1664.2 1882.8h0M1663.8 1876.9h0M1659.4 1875h0M1660.8 1858.9h0M1664.2 1884.2h0M1659.6 1884.4h0M1664.1 1876.3h0M1663 1877.4h0M1660.6 1881.6h0M1658.8 1881.7h0M1659.5 1880.4h0M1661.7 1860.8h0M1661.3 1879.5h0M1658.5 1869.8h0M1683.9 1817.8h0M1685.3 1870.1h0M1686.4 1861.8h0M1684.8 1821.8h0M1680.7 1870.6h0M1685.2 1823.9h0M1684 1839.6h0M1681 1874.1h0M1680.8 1852.9h0M1687.1 1871.5h0M1685.8 1849.7h0M1685.2 1832.2h0M1685.8 1868.5h0M1683.2 1822.5h0M1686.5 1861.4h0M1685.1 1852.7h0M1684.4 1850.8h0M1682.2 1841h0M1684.3 1871.4h0M1682.7 1843.2h0M1684 1844.1h0M1683.6 1832.7h0M1683.2 1844.9h0M1681.1 1845.8h0M1682.1 1872h0M1687.5 1865.6h0M1682.9 1846.6h0M1687.4 1862.1h0M1684.9 1854.9h0M1683.1 1829h0M1684.9 1850.7h0M1685.3 1846.7h0M1681.7 1869.9h0M1700.9 1825.7h0M1698.1 1862.5h0M1701.3 1851.1h0M1698.2 1877.3h0M1702.3 1876h0M1697.1 1877.1h0M1698.4 1862h0M1702.4 1874.8h0M1703.4 1845.5h0M1699.9 1880.5h0M1702.3 1844.6h0M1703 1852.1h0M1702.8 1848.5h0M1701.4 1853h0M1701.6 1850.7h0M1700.4 1832.9h0M1701.4 1853h0M1700.8 1876.1h0M1697.7 1883h0M1700 1872.8h0M1700.1 1844.3h0M1700.8 1854.2h0M1702.9 1860.5h0M1700 1875.6h0M1701.7 1874.5h0M1702 1830.5h0M1702.2 1879.9h0M1703.7 1861.4h0M1701.7 1884.3h0M1701 1832.5h0M1700.7 1843.7h0M1698.8 1866.3h0M1700.9 1833.4h0M1701.7 1676h0M1701.7 1681.4h0M1702 1682.2h0M1701.6 1683h0M1610.6 1869.3h0M1611.4 1886.7h0M1613.9 1879.4h0M1616.4 1895.3h0M1610.6 1884.8h0M1606.4 1888.7h0M1611.8 1880.8h0M1604.5 1899.2h0M1610.7 1883.3h0M1608.4 1885.5h0M1609.3 1877.8h0M1609.4 1873h0M1612.7 1873.3h0M1610.6 1892.1h0M1612.1 1882.9h0M1613.6 1883.5h0M1607.1 1897.3h0M1609.2 1888.6h0M1606.8 1900.6h0M1609.2 1872.1h0M1612.3 1899.6h0M1646.2 1889.1h0M1646.1 1904.8h0M1645.2 1904.3h0M1648.2 1901.3h0M1653.3 1905.8h0M1650.9 1903.3h0M1643.7 1894.2h0M1638.8 1907.6h0M1643 1900.2h0M1643.6 1901.7h0M1639.4 1907.5h0M1653.7 1906.3h0M1649.8 1899.2h0M1642.3 1902.9h0M1641.3 1901.2h0M1641.7 1897.3h0M1672 1861.4h0M1672.9 1868h0M1673.2 1875.7h0M1671.3 1874.7h0M1671.5 1875.3h0M1669.8 1884.7h0M1671.3 1868.4h0M1600.7 1779.4h0M1613.8 1805.9h0M1613.8 1823.8h0M1630.4 1787.3h0M1630.4 1841.6h0M1641.1 1848.7h0M1641.1 1868.5h0M1701.7 1604.8h0M1701.7 1629.3h0M1701.7 1641.2h0M1701.7 1778.2h0M1701.7 1813.9h0M1709.6 1841.6h0M1701.7 1514.4h0M1701.7 1526.6h0"/>
<path fill="#BEBEBE" d="M1710.4 2105L1710.4 1919.4L1714.4 1919.4L1715.9 1921.3L1717.4 1920.4L1718.9 1922.1L1720.4 1919.8L1721.9 1906L1723.4 1914L1724.9 1919.4L1726.4 1916.4L1727.9 1905.9L1729.4 1898.5L1730.9 1898.5L1732.4 1897.3L1733.9 1905.1L1735.4 1918.5L1736.9 1920L1738.4 1920.8L1739.9 1921.4L1741.4 1907.3L1742.9 1913L1744.4 1902.3L1745.9 1908.9L1747.4 1903.2L1748.9 1907.3L1750.4 1905.2L1751.9 1911.3L1753.4 1909.6L1754.9 1910.3L1756.4 1910.6L1757.9 1911.7L1759.4 1914.3L1760.9 1912.2L1762.4 1915.7L1763.9 1922.8L1765.4 1932.4L1766.9 1922.8L1768.4 1926.2L1769.9 1926.3L1771.4 1925.3L1772.9 1926.6L1774.4 1928.6L1775.9 1921.5L1777.4 1934.3L1778.9 1933.1L1780.4 1941.7L1781.9 1935.2L1783.4 1934.9L1784.9 1940.5L1786.4 1929.8L1787.9 1931.6L1789.4 1923.2L1790.9 1919.6L1792.4 1919.8L1793.9 1912.5L1795.4 1927.3L1796.9 1922L1798.4 1921.1L1799.9 1931.6L1801.4 1931.5L1802.9 1934.2L1804.4 1933.4L1805.9 1932.4L1807.4 1939.5L1808.9 1941.2L1810.4 1939.5L1814.4 1939.5L1814.4 2105Z"/>
<path fill="none" stroke="#BEBEBE" stroke-width="9" stroke-linecap="round" d="M1714.6 1923.9h0M1715.1 1920.6h0M1714.7 1916h0M1714.5 1912.4h0M1714.7 1902.8h0M1717.1 1922.9h0M1716.8 1919.5h0M1716.6 1914.3h0M1716.4 1908.4h0M1716.4 1903.8h0M1717 1900.8h0M1716.8 1899.6h0M1719.9 1921.3h0M1720.1 1915.9h0M1719.2 1911.7h0M1720 1907.7h0M1719.8 1903.4h0M1720 1900.4h0M1719.7 1897.2h0M1719.6 1892.4h0M1719.7 1891.5h0M1723.2 1915.9h0M1723.5 1910.2h0M1724 1907.1h0M1723 1903.5h0M1723.1 1897.9h0M1723.4 1892.3h0M1723.6 1884.7h0M1723.2 1876.4h0M1723.9 1873.5h0M1723.3 1868.3h0M1723.2 1859h0M1723.5 1856.1h0M1726.1 1916h0M1725.5 1910.6h0M1726.3 1905.6h0M1726 1904.4h0M1729.3 1907.6h0M1728.7 1901.8h0M1729.2 1896.5h0M1728.6 1891.9h0M1728.6 1888.5h0M1729.1 1878.9h0M1729.5 1873.8h0M1729.2 1870.8h0M1729 1866.9h0M1729.3 1862.5h0M1728.5 1850.5h0M1728.9 1847.5h0M1728.7 1844.1h0M1729 1840.4h0M1731.8 1903.6h0M1731.3 1899.4h0M1731.9 1893.4h0M1731.3 1887.6h0M1731.4 1884.1h0M1731.7 1875.2h0M1732.1 1866.1h0M1731.6 1860.6h0M1731.3 1857.5h0M1731.9 1850h0M1731.4 1842.5h0M1731.7 1834.7h0M1735.5 1913.3h0M1735.4 1909h0M1735.6 1905.5h0M1735.3 1903h0M1738.6 1921h0M1738.7 1917.5h0M1738.9 1916.1h0M1740.9 1918.4h0M1740.9 1914.2h0M1742.7 1914h0M1742.7 1910.9h0M1742.8 1906.9h0M1743.5 1903.4h0M1742.9 1899.8h0M1742.7 1879.7h0M1743.4 1864.2h0M1742.8 1858.8h0M1742.9 1855.8h0M1743 1851.3h0M1742.9 1847.5h0M1743.5 1842.5h0M1742.9 1836.8h0M1743.1 1832.5h0M1746.3 1911h0M1746.6 1907.7h0M1748.3 1907h0M1747.6 1903.2h0M1748.4 1899h0M1748.1 1898.7h0M1751 1911.9h0M1751.6 1908.1h0M1751.1 1903.9h0M1751.5 1899.9h0M1751.4 1894.3h0M1750.9 1889.7h0M1751.3 1886.7h0M1751.2 1881.1h0M1751.3 1872h0M1751.4 1870h0M1754.8 1914.4h0M1754.2 1910.1h0M1754.4 1899.8h0M1754.4 1892.4h0M1754.1 1887.8h0M1754.5 1884.2h0M1755 1874.1h0M1754.7 1871.2h0M1754.7 1866.3h0M1754.4 1862h0M1754.8 1857.8h0M1755 1854.4h0M1754.3 1842.6h0M1754.5 1839.5h0M1758.3 1918.1h0M1757.8 1914.4h0M1758.3 1911.3h0M1760.7 1920.4h0M1760.7 1915.2h0M1760.6 1910.9h0M1760.5 1906.5h0M1760.3 1893.9h0M1762.6 1923.7h0M1763.2 1919.9h0M1763.4 1916.4h0M1763.2 1912.7h0M1762.7 1907.8h0M1762.8 1902.3h0M1763.2 1897.8h0M1763 1880.6h0M1766.8 1925.5h0M1766.6 1920.8h0M1766.8 1916.3h0M1766.6 1909.3h0M1766.6 1903.3h0M1767 1897.8h0M1767.2 1894.7h0M1766.4 1889.9h0M1767.1 1884.5h0M1766.9 1880.2h0M1766.7 1879.4h0M1769.6 1925.9h0M1769.5 1918.4h0M1769.5 1913.5h0M1769.2 1909.1h0M1769.7 1906.9h0M1771.5 1927.4h0M1771.8 1923.6h0M1771.8 1917h0M1771.4 1912h0M1771.9 1906.9h0M1771.8 1901.1h0M1771.6 1899h0M1774.5 1930.3h0M1774.1 1924.6h0M1774.4 1920h0M1774.4 1916.4h0M1773.9 1913.2h0M1774.1 1908.1h0M1774.3 1902.5h0M1774.6 1898.6h0M1774 1894.6h0M1774.8 1889.5h0M1774.2 1885.9h0M1774.3 1878.3h0M1774.8 1874.1h0M1774 1870h0M1773.9 1866.6h0M1774.3 1857.1h0M1775.8 1933.6h0M1776.7 1930.1h0M1776 1924.8h0M1776.2 1921.5h0M1776.1 1915.6h0M1776.2 1911.9h0M1776.7 1906.5h0M1776.8 1901.7h0M1776.8 1897.7h0M1776.2 1882.2h0M1776.4 1869.4h0M1776.4 1865.5h0M1775.8 1857.3h0M1776.3 1855.4h0M1777.7 1936.7h0M1777.3 1932.6h0M1777.4 1928.1h0M1777.2 1916.4h0M1777.7 1910.2h0M1779.8 1941.3h0M1779.7 1936.5h0M1780 1931h0M1780.1 1928.2h0M1779.8 1923.7h0M1779.5 1917.9h0M1779.5 1908.5h0M1779.9 1904.9h0M1779.6 1896.9h0M1779.3 1892.6h0M1779.7 1891.8h0M1782.2 1943.8h0M1782.1 1940h0M1781.5 1935.8h0M1782 1932.6h0M1782 1928h0M1781.4 1923.3h0M1782.1 1919.9h0M1782.1 1907.6h0M1781.8 1904.1h0M1781.7 1902.5h0M1785.2 1940.5h0M1784.7 1932.8h0M1785.1 1928.1h0M1785.2 1924.1h0M1785.1 1910.2h0M1788.8 1931.4h0M1788.9 1927.3h0M1789 1922.7h0M1789.2 1916.7h0M1789 1912.9h0M1788.6 1907.4h0M1788.8 1905.7h0M1791.1 1926.1h0M1790.9 1914.4h0M1790.9 1910.3h0M1790.9 1905h0M1791.6 1900.5h0M1790.8 1896.3h0M1791.7 1891.5h0M1791.3 1887.9h0M1791 1882.8h0M1791.1 1874.7h0M1791.6 1871h0M1791.1 1865.7h0M1791.3 1864.4h0M1793.6 1923.3h0M1793 1919.5h0M1792.9 1913.5h0M1793.2 1908.4h0M1792.9 1902.8h0M1793.2 1897.9h0M1793.4 1894.4h0M1793.5 1885.5h0M1793.2 1882.8h0M1796.6 1916.3h0M1797.2 1912.9h0M1796.7 1903.8h0M1797.1 1897.7h0M1796.8 1892.8h0M1797.2 1889.2h0M1797 1883.4h0M1797.2 1879.5h0M1796.3 1873h0M1796.8 1864.6h0M1798.1 1922.9h0M1798.7 1917.7h0M1798 1913.8h0M1798.1 1909.3h0M1798.5 1892.8h0M1798.7 1886.8h0M1798.4 1886.5h0M1800.5 1922.5h0M1801.8 1933.1h0M1802.3 1911.6h0M1803.6 1938.2h0M1804.5 1932.5h0M1804.1 1929.3h0M1803.8 1925.3h0M1804.3 1917.8h0M1804 1917.4h0M1806.4 1942.1h0M1806.1 1937.6h0M1808.9 1944.2h0M1808.5 1940.1h0M1808.7 1936.9h0M1808 1932.6h0M1808.5 1921.7h0M1808.7 1909.8h0M1808.5 1904h0M1808.5 1900.7h0M1810.7 1943.2h0M1810.5 1937.4h0M1810.1 1932.7h0M1810.4 1924.2h0M1810.7 1919.3h0M1810.2 1914.8h0M1811.1 1909h0M1811 1896.7h0M1810.7 1891.6h0M1810.6 1886.6h0M1717.5 1804h0M1716.2 1820.9h0M1718.5 1816h0M1720.2 1836.3h0M1718.4 1806.9h0M1717 1827.7h0M1718 1806.9h0M1716.3 1825h0M1715.7 1825h0M1719.5 1836.2h0M1720.1 1830.6h0M1717.5 1813.2h0M1719.9 1836.5h0M1715.7 1828.1h0M1717.8 1823.8h0M1739.3 1829.7h0M1738.6 1854.6h0M1738.8 1842.5h0M1740.5 1843.6h0M1738.6 1840.1h0M1737.5 1868.8h0M1739.1 1832.8h0M1739.9 1855.2h0M1741.2 1865.3h0M1739.8 1831.4h0M1739.6 1842.4h0M1761.1 1798h0M1759 1832.3h0M1763 1823h0M1761.6 1818.3h0M1760.4 1830.5h0M1761.6 1805.5h0M1762 1800.3h0M1761.3 1820.9h0M1761.2 1807.2h0M1761.7 1819.4h0M1760.6 1804.7h0M1762.3 1823h0M1758.8 1827.1h0M1760.5 1835.8h0M1763.4 1826.3h0M1755.1 1837.6h0M1753.6 1865.3h0M1755.2 1849h0M1752 1856.5h0M1758.4 1859.5h0M1755.8 1846.3h0M1752.6 1857.5h0M1751.1 1865.8h0M1750.6 1863.9h0M1752.6 1866.7h0M1756.8 1861.8h0M1757.8 1861.2h0M1754.7 1849.5h0M1757.1 1859h0M1754 1853.8h0M1725.4 1853.5h0M1721.6 1886.9h0M1724.6 1883.4h0M1723.7 1889.2h0M1726.3 1859h0M1722.4 1873.7h0M1727.4 1858h0M1722.3 1881.8h0M1725.7 1859.5h0M1721.8 1878.9h0M1725.5 1883.5h0M1721.9 1885.1h0M1725.9 1854.5h0M1725.5 1853.9h0M1728.3 1876.9h0M1722.3 1882.9h0M1801.9 1825.7h0M1803.3 1832.3h0M1802.4 1835h0M1800.7 1838.4h0M1802.6 1838.8h0M1800.9 1838.6h0M1804 1838.6h0M1804.4 1853h0M1800.9 1848.3h0M1803.3 1847.6h0M1799.4 1853.2h0M1771 1817.8h0M1782.9 1831.7h0M1780.9 1853.5h0M1806.6 1750.5h0"/>
<path fill="#0000FF" d="M1813.4 2105L1813.4 1938.2L1817.4 1938.2L1818.9 1941.8L1820.4 1938.8L1821.9 1946.5L1823.4 1948.7L1824.9 1954.4L1826.4 1957.9L1827.9 1955.3L1829.4 1957.1L1830.9 1952.1L1832.4 1963L1833.9 1954L1835.4 1955.2L1836.9 1948.5L1838.4 1951.5L1839.9 1951.6L1841.4 1946.5L1842.9 1951.7L1844.4 1952.7L1845.9 1951.2L1847.4 1954.4L1848.9 1952.6L1850.4 1945.8L1851.9 1966.2L1853.4 1966L1854.9 1958.9L1856.4 1963.1L1857.9 1957L1859.4 1956.8L1860.9 1952.5L1862.4 1954L1863.9 1962.2L1865.4 1958.7L1866.9 1948.3L1868.4 1948.8L1869.9 1943.1L1871.4 1954.8L1872.9 1947L1874.4 1949.1L1875.9 1949.9L1877.4 1956.1L1878.9 1958.6L1880.4 1930.9L1881.9 1933L1883.4 1932.2L1884.9 1932.8L1886.4 1933.3L1891.2 1933.3L1891.2 2105Z"/>
<path fill="none" stroke="#0000FF" stroke-width="9" stroke-linecap="round" d="M1817.7 1939.8h0M1818.2 1934.6h0M1818.1 1931.2h0M1817.9 1925.1h0M1817.7 1922.5h0M1820.5 1942.2h0M1820.7 1937.6h0M1820.7 1933.2h0M1820.4 1928.4h0M1819.8 1924h0M1820.6 1913.5h0M1820.5 1909.6h0M1820.3 1903.9h0M1820.2 1899.1h0M1820.6 1896h0M1820.3 1885.7h0M1823 1948h0M1822.4 1945.1h0M1822.7 1939.7h0M1822.6 1935.8h0M1823.1 1932.1h0M1822.9 1926.5h0M1822.8 1920.7h0M1822.7 1915.3h0M1822.2 1911.6h0M1823 1907.9h0M1822.7 1904.1h0M1826.7 1958.3h0M1826.2 1954.2h0M1826.4 1952.3h0M1828.8 1959.2h0M1829.5 1949.9h0M1829.1 1944.9h0M1832.4 1959.3h0M1832.4 1955.4h0M1832.5 1950.3h0M1831.7 1946h0M1832.1 1940h0M1835.1 1956.6h0M1834.6 1950.6h0M1835.1 1945.3h0M1834.8 1942h0M1834.5 1939.1h0M1834.4 1934.6h0M1834.7 1928.8h0M1834.7 1925.6h0M1834.9 1919.6h0M1834.7 1915.6h0M1834.6 1912.1h0M1834.8 1904h0M1837.1 1953.1h0M1837.2 1945.8h0M1836.6 1941.9h0M1836.8 1928h0M1839.9 1950.7h0M1840 1946.4h0M1839.7 1943h0M1840.5 1939.7h0M1839.8 1934.7h0M1840.2 1922.6h0M1843.3 1954.3h0M1842.7 1949.8h0M1843.1 1946.2h0M1843.1 1942.7h0M1845.4 1957.3h0M1845.4 1953.3h0M1845.4 1952.6h0M1848.1 1954.5h0M1848.7 1950.5h0M1848.6 1944.8h0M1848.6 1940h0M1848.2 1935.9h0M1848.5 1930.2h0M1852.3 1972.2h0M1852 1969.2h0M1852.3 1963.6h0M1852.6 1958.5h0M1852.1 1953.3h0M1852.2 1950.4h0M1854.2 1964.8h0M1854.3 1961h0M1855.1 1955.5h0M1855 1951.9h0M1855 1948.1h0M1855.1 1942.2h0M1854.8 1932.9h0M1854.8 1928.1h0M1854.4 1922.3h0M1854.5 1914.3h0M1854.7 1909.6h0M1854.6 1901.5h0M1854.6 1898h0M1854.7 1894.5h0M1856.2 1962h0M1856.5 1958.7h0M1856.6 1954.2h0M1856.1 1945.3h0M1856.6 1939.8h0M1856.1 1932.7h0M1856.9 1924.1h0M1856.2 1920.8h0M1856.4 1916.5h0M1860.2 1963.5h0M1859.5 1958.6h0M1860 1950.5h0M1859.7 1941.8h0M1859.8 1938.4h0M1862.1 1963.4h0M1862.3 1959h0M1863.4 1961.8h0M1863.5 1957.6h0M1863.4 1953.1h0M1864.2 1940.2h0M1863.6 1936.8h0M1864.2 1932.7h0M1864.1 1928.9h0M1863.9 1924.7h0M1864.2 1919.4h0M1864.1 1905h0M1864.1 1900.9h0M1863.9 1896.1h0M1863.8 1891.3h0M1863.8 1889.1h0M1865.4 1959.2h0M1865.5 1954.6h0M1865.5 1948.6h0M1865.6 1947.4h0M1868.3 1955h0M1868.1 1949.1h0M1868.3 1943.4h0M1867.9 1930.7h0M1871.1 1947h0M1870.6 1935h0M1870.6 1929.9h0M1871.4 1926.4h0M1871 1921.3h0M1874 1950.9h0M1873.6 1947.4h0M1874.1 1944.3h0M1874 1941.2h0M1873.9 1937.4h0M1873.7 1926.7h0M1874 1921.3h0M1874 1920.5h0M1875.6 1953.6h0M1876.1 1949h0M1875.7 1940.5h0M1875.8 1937.2h0M1876.1 1933.1h0M1875.9 1923.3h0M1875.8 1918.7h0M1877.9 1957.6h0M1877.7 1952.3h0M1877.6 1947.5h0M1878.1 1939.5h0M1877.6 1935.1h0M1878 1930.6h0M1878.4 1926.2h0M1877.8 1923h0M1878.2 1919.8h0M1877.6 1914.2h0M1878.4 1910.7h0M1878 1907.6h0M1878.1 1904.2h0M1877.6 1894h0M1877.9 1885.7h0M1880.9 1932.7h0M1880.6 1929.7h0M1881.1 1925.9h0M1881 1920.9h0M1884.6 1929.7h0M1884.4 1925.1h0M1884.9 1919.3h0M1884.3 1914h0M1884.4 1908.4h0M1884.3 1904.1h0M1884.5 1900.1h0M1884.6 1896.8h0M1884.5 1892.1h0M1884.2 1884.3h0M1884.4 1879.5h0M1884.4 1876.5h0M1884.2 1868.7h0M1884.4 1862.6h0M1820.9 1728.7h0M1820.9 1757h0M1820.2 1749.4h0M1820.4 1752h0M1820.4 1747.8h0M1820.7 1746.7h0M1820.9 1755.7h0M1820.4 1753h0M1820.9 1746.5h0M1820.8 1741.1h0M1820.6 1730.3h0M1821.2 1741.7h0M1821.3 1748.5h0M1823.7 1807.9h0M1822.1 1819.4h0M1819 1873.4h0M1824 1826.6h0M1827.1 1846.7h0M1824.7 1869.6h0M1823.2 1846h0M1818.6 1876.6h0M1826.1 1848.1h0M1819.3 1859.3h0M1828.7 1867.2h0M1819.9 1863.6h0M1819.2 1871.8h0M1824.5 1811h0M1826.7 1860.5h0M1819.5 1850.9h0M1824.4 1813.9h0M1821.9 1864.4h0M1822.3 1864.6h0M1825.4 1846.4h0M1825.3 1860.3h0M1824.8 1823.7h0M1826.6 1865.5h0M1824.6 1856.9h0M1827.2 1832h0M1820.5 1875.8h0M1826.4 1858.5h0M1821.7 1847.4h0M1820.8 1839.6h0M1823.9 1866.7h0M1819.9 1877.2h0M1825.6 1876.3h0M1819.8 1852.2h0M1823.6 1817h0M1824.4 1822.2h0M1826.6 1831.3h0M1818.9 1857.9h0M1825.9 1869.9h0M1822.8 1829.9h0M1827.9 1859.5h0M1826.3 1842.7h0M1829.5 1874.1h0M1827 1856.3h0M1824.8 1817.8h0M1821.8 1869.4h0M1821.8 1869.2h0M1821.6 1868.4h0M1824.9 1852.5h0M1821.2 1822.1h0M1823.1 1839.4h0M1828.5 1857.5h0M1818.9 1874.2h0M1819.4 1861.4h0M1821.6 1816.9h0M1826.3 1871.7h0M1824.4 1850.3h0M1833.6 1853.5h0M1829.8 1898h0M1837 1889.8h0M1834.5 1858.3h0M1833.7 1862.3h0M1831.1 1870.8h0M1833.2 1861.5h0M1829.4 1915.5h0M1832 1887.8h0M1831.4 1883.2h0M1837.3 1885.1h0M1835.4 1868h0M1833.1 1906.8h0M1834.1 1901.5h0M1828.2 1916.4h0M1836.9 1904.9h0M1838.1 1899.5h0M1834.1 1860.5h0M1829.1 1904.3h0M1836.4 1893.1h0M1832.4 1900.5h0M1838.1 1907.9h0M1832 1874.4h0M1874 1819.8h0M1875.1 1852.3h0M1875.5 1839.8h0M1874.4 1856.8h0M1872.7 1838h0M1873.8 1821.2h0M1872.6 1839.9h0M1874.9 1832.1h0M1873.4 1850h0M1874.9 1826.8h0M1875.2 1854.7h0M1874.7 1848.1h0M1874.1 1833.9h0M1873.7 1820.2h0M1873 1830.4h0M1893 1792.1h0M1887.7 1815.4h0M1887.7 1804.6h0M1887.7 1813.3h0M1887.7 1819.6h0M1887.7 1808.4h0M1887.7 1815.7h0M1887.7 1794.3h0M1887.7 1796.2h0M1887.7 1812.5h0M1887.7 1814.8h0M1891 1833.7h0M1887.7 1887.4h0M1887.7 1837.2h0M1887.7 1855.5h0M1887.7 1859.6h0M1887.7 1856.5h0M1887.7 1889.9h0M1887.7 1838.5h0M1887.7 1886.5h0M1887.7 1880.5h0M1887.7 1858.8h0M1887.7 1848.4h0M1887.7 1892.5h0M1887.7 1890.5h0M1887.7 1846.4h0M1887.7 1884.8h0M1887.7 1860.6h0M1887.7 1874.6h0M1887.7 1887.2h0M1887.7 1851.5h0M1887.7 1868.6h0M1887.7 1884.6h0M1887.7 1849.7h0M1887.7 1853.7h0M1887.7 1857.6h0M1887.7 1869.2h0M1887.7 1875.9h0M1887.7 1892.6h0M1887.7 1885.4h0M1887.7 1874.4h0M1887.7 1843.1h0M1887.7 1891.6h0M1887.7 1842.7h0M1892.2 1901h0M1887.7 1911h0M1887.7 1909.5h0M1887.7 1916.9h0M1887.7 1911.5h0M1887.7 1922.3h0M1887.7 1922.3h0M1887.7 1917.4h0M1887.7 1901.4h0M1887.7 1909.7h0M1887.7 1920.9h0M1839.5 1877.2h0M1842.1 1885.6h0M1839.4 1912.9h0M1835.9 1894.2h0M1842.9 1893.8h0M1835.8 1909.3h0M1835.5 1905.9h0M1843.4 1900.5h0M1839.5 1879.9h0M1834.8 1915.9h0M1842 1899h0M1839.9 1912.1h0M1839.9 1903.5h0M1844.2 1906.7h0M1836.8 1906.2h0M1839.4 1890.5h0M1842.4 1906.5h0M1837.4 1892.2h0M1840.8 1883.7h0M1837.4 1880.1h0M1842 1898.7h0M1820.9 1708.1h0M1820.9 1774.3h0M1820.9 1794.1h0M1863.3 1873.3h0M1874 1883.2h0M1891.4 1770.3h0M1834.4 1857.4h0"/>
<path fill="#BEBEBE" d="M1890.2 2105L1890.2 1912.4L1894.2 1912.4L1895.7 1917.3L1897.2 1917.3L1898.7 1918.3L1900.2 1913.7L1901.7 1915.1L1903.2 1914.8L1904.7 1912.4L1906.2 1901.3L1907.7 1900.2L1909.2 1894.3L1910.7 1894.7L1912.2 1903.7L1913.7 1907.3L1915.2 1898.6L1916.7 1904.9L1918.2 1908.7L1919.7 1909.3L1921.2 1912.9L1922.7 1907.7L1924.2 1899.9L1925.7 1902.2L1927.2 1897L1928.7 1891.6L1930.2 1886.5L1931.7 1893.5L1933.2 1903.1L1934.7 1910.7L1936.2 1910L1937.7 1913L1939.2 1911.1L1940.7 1906.6L1942.2 1898.7L1943.7 1901.9L1945.2 1901.8L1946.7 1898.2L1948.2 1917.5L1949.7 1910.2L1951.2 1922.5L1952.7 1916.7L1956.4 1916.7L1956.4 2105Z"/>
<path fill="none" stroke="#BEBEBE" stroke-width="9" stroke-linecap="round" d="M1894.1 1915.2h0M1894.8 1912h0M1894.5 1908h0M1897.3 1919.4h0M1897.3 1913.4h0M1897.1 1908h0M1898 1902.7h0M1898 1897.1h0M1897.3 1892.4h0M1897.3 1886.6h0M1897.4 1882.8h0M1897.7 1876.9h0M1897.7 1871.7h0M1898 1866.3h0M1897.5 1864.9h0M1898.9 1913.6h0M1900.3 1919.9h0M1900.1 1916.1h0M1900.6 1911.7h0M1900.3 1910.3h0M1902.5 1917.4h0M1902.1 1911.4h0M1902.8 1903.3h0M1902.7 1898.1h0M1902.5 1896.9h0M1905 1910.8h0M1905.6 1906.9h0M1905.8 1902.9h0M1905.2 1899.9h0M1905.5 1894.8h0M1905.2 1891.8h0M1905.4 1886.5h0M1905.1 1883.6h0M1905.3 1873.2h0M1908.4 1905.1h0M1908.3 1901.2h0M1908.2 1897.1h0M1908 1896.3h0M1911.4 1902.9h0M1911.7 1898.4h0M1911.3 1892.9h0M1911.9 1887.6h0M1911.9 1884.4h0M1911.1 1880.3h0M1911.4 1875.2h0M1911.5 1870.9h0M1911.6 1869.6h0M1913.2 1904.3h0M1912.8 1899.5h0M1913 1891.1h0M1913.5 1887.9h0M1913.4 1883h0M1912.8 1879.5h0M1913.5 1874.9h0M1913 1871.6h0M1914 1903.7h0M1913.9 1899.7h0M1914.1 1893.7h0M1914.7 1888.9h0M1914.4 1880h0M1914.7 1875.1h0M1914.2 1870.7h0M1914.8 1862h0M1914.8 1858.9h0M1914.3 1853.7h0M1914.8 1846.8h0M1914.6 1843.6h0M1914.4 1839.8h0M1916.4 1910h0M1917.1 1904.9h0M1917 1899.3h0M1916.3 1895h0M1916.6 1893h0M1918.2 1911h0M1918.5 1905.2h0M1918.1 1895.5h0M1918 1887.2h0M1921 1910.7h0M1920.7 1905.4h0M1921 1896.1h0M1923.4 1906.6h0M1923.5 1902h0M1923.5 1896.1h0M1924.2 1890.5h0M1923.7 1878.1h0M1923.4 1874.9h0M1923.6 1869.2h0M1924.2 1865.1h0M1923.9 1862h0M1923.8 1847.9h0M1924.3 1844.4h0M1924.2 1839.4h0M1923.8 1838.5h0M1925.9 1900.1h0M1926.3 1895.1h0M1926.4 1891.7h0M1926.6 1886.9h0M1925.8 1872.8h0M1926.2 1868.4h0M1925.7 1865.3h0M1926.4 1862.1h0M1926.1 1859.9h0M1928.3 1896.5h0M1928.1 1890.5h0M1927.7 1887.4h0M1927.4 1878.2h0M1928 1873.2h0M1927.6 1870.1h0M1927.6 1866.8h0M1927.9 1858.6h0M1930.4 1896.6h0M1930.4 1893.3h0M1929.8 1885.8h0M1929.9 1875.4h0M1930 1875.3h0M1933.2 1906.9h0M1933.4 1902.2h0M1933.6 1899.8h0M1937 1915.1h0M1937 1911.7h0M1936.4 1908.5h0M1936.3 1900.1h0M1936.6 1891.3h0M1938 1916.1h0M1937.9 1912.3h0M1937.6 1908.7h0M1938 1900h0M1938 1896.4h0M1938 1891.7h0M1939.9 1913.1h0M1939.6 1907.7h0M1939.8 1904.2h0M1939.6 1898.9h0M1939.9 1890.2h0M1939.7 1886h0M1939.8 1883.1h0M1939.8 1878.7h0M1941.8 1907.3h0M1942.1 1901.9h0M1943.4 1879.4h0M1946.2 1907.8h0M1946.1 1897.4h0M1946.5 1893.3h0M1945.9 1888.7h0M1946.9 1884.3h0M1946 1868.4h0M1946.9 1862.1h0M1946.6 1857.2h0M1946 1851.8h0M1946.1 1848h0M1946.2 1844h0M1946.4 1830.3h0M1947.9 1910.7h0M1947.6 1907h0M1948.1 1901.5h0M1948.5 1897.1h0M1948.4 1891.2h0M1947.6 1886.2h0M1947.9 1880.2h0M1947.9 1876.3h0M1947.5 1873.3h0M1948.1 1858.9h0M1947.9 1856h0M1948.5 1846.3h0M1948 1841.4h0M1948 1840.3h0M1950.6 1915.6h0M1950.4 1905.7h0M1950.8 1900h0M1950 1897h0M1950.3 1892.2h0M1951.9 1919.5h0M1952.2 1909.1h0M1951.8 1900.1h0M1951.8 1895.2h0M1952.5 1891.8h0M1952.2 1891h0M1944.5 1798h0M1943.2 1807.2h0M1945.6 1817.8h0M1946.2 1812.8h0M1944.8 1820.4h0M1945 1804h0M1945.1 1798.6h0M1945.2 1817.9h0M1945.1 1803h0M1940.5 1825.7h0M1944.2 1848.9h0M1939.7 1840.5h0M1939.8 1850.8h0M1942.5 1846.3h0M1940.8 1834.2h0M1944.6 1849.4h0M1939.6 1835.5h0M1938.3 1841.2h0M1941 1826h0M1939.8 1847.9h0M1940.1 1832h0M1941 1831.5h0M1916.7 1845.5h0M1915.1 1849.7h0M1916.7 1849.1h0M1919.9 1875.3h0M1913.8 1852.1h0M1910.7 1869h0M1910.3 1866.9h0M1919.7 1851.2h0M1914.6 1861.5h0M1918.3 1848.9h0M1919.6 1865.9h0M1915.8 1851h0M1911.4 1859h0M1917.1 1862.5h0M1919.6 1864.4h0M1916.4 1862.9h0M1915.9 1854.3h0M1916.1 1856.1h0M1916.4 1868.6h0M1919.1 1856h0M1919.5 1852.6h0M1911.7 1874.4h0M1917.3 1854.3h0M1916.8 1848.2h0M1920.4 1864.1h0M1919 1854.6h0M1948.4 1853.5h0M1948.5 1857h0M1947.4 1865.9h0M1947 1867.2h0M1950.1 1871.8h0M1948.1 1853.8h0M1949.5 1863.1h0M1951.5 1874.1h0M1952.9 1875.4h0M1944.1 1868.6h0M1952.3 1871.8h0M1947.6 1875.6h0M1948.4 1858.4h0M1947.3 1859.3h0M1950.4 1860.1h0M1952.3 1876.6h0M1906.8 1835.6h0M1944.5 1770.3h0M1944.5 1786.1h0M1932.6 1837.6h0"/>
<path fill="#0000FF" d="M1955.4 2105L1955.4 1946.4L1959.4 1946.4L1960.9 1939.7L1962.4 1948.4L1963.9 1943.7L1965.4 1946.5L1966.9 1939L1968.4 1938.3L1969.9 1938.6L1971.4 1932L1972.9 1937.2L1974.4 1941.7L1975.9 1927L1977.4 1938.5L1978.9 1937.4L1980.4 1937.8L1981.9 1923.8L1983.4 1930.2L1984.9 1931.4L1986.4 1930.3L1987.9 1936.3L1989.4 1936.8L1990.9 1937.2L1992.4 1947.8L1993.9 1948.7L1995.4 1951.2L1996.9 1949L1998.4 1941.2L1999.9 1943.9L2001.4 1947.4L2002.9 1960.4L2004.4 1961.1L2008.2 1961.1L2008.2 2105Z"/>
<path fill="none" stroke="#0000FF" stroke-width="9" stroke-linecap="round" d="M1960.1 1944.9h0M1959.6 1939.1h0M1960 1935.3h0M1960.1 1931.4h0M1959.8 1926.7h0M1959.4 1923.5h0M1959.7 1918.2h0M1959.4 1908.7h0M1959.9 1902.8h0M1959.3 1898.7h0M1959.7 1894.6h0M1959.4 1882.8h0M1959.6 1879.9h0M1959.7 1879.8h0M1961.9 1947.5h0M1962 1941.7h0M1961.8 1941h0M1963.9 1946.9h0M1963.9 1941.5h0M1964.4 1932.6h0M1963.9 1924.7h0M1964 1920.6h0M1964.3 1918.4h0M1966.6 1943.2h0M1966.4 1938.2h0M1969.5 1939.4h0M1969.3 1935.3h0M1968.7 1930.9h0M1969.5 1925.3h0M1969.5 1920.2h0M1969.4 1917.2h0M1969.5 1907.2h0M1968.6 1901.4h0M1969 1898h0M1969.1 1894.2h0M1972.2 1940.8h0M1973.1 1924.5h0M1972.3 1918.6h0M1972.4 1915.6h0M1972.9 1911.6h0M1972.7 1907.4h0M1972.6 1903h0M1973 1899.3h0M1973 1893.2h0M1972.4 1884.5h0M1972.8 1869.3h0M1972.4 1864.5h0M1972.5 1856h0M1972.6 1849.7h0M1974.7 1940.9h0M1974.9 1929.8h0M1974.8 1925.6h0M1974.8 1922.8h0M1974.8 1917.1h0M1975.2 1913.8h0M1974.5 1907.8h0M1975.2 1903.4h0M1974.4 1898.3h0M1975 1893.2h0M1974.6 1890.4h0M1975.1 1886.3h0M1974.7 1881.7h0M1974.8 1877h0M1974.5 1864.2h0M1974.8 1863.8h0M1978.6 1936.9h0M1978.3 1934h0M1978.7 1928.2h0M1978.7 1922.3h0M1978 1918.9h0M1978.3 1917.7h0M1980.6 1934.4h0M1980.9 1931h0M1980.9 1926.3h0M1980.7 1923.1h0M1980.7 1917.6h0M1980.6 1912.5h0M1980.4 1907.1h0M1980 1903.6h0M1980.8 1888.4h0M1980.6 1883.8h0M1980.2 1875.6h0M1980.6 1867.5h0M1980.4 1865.9h0M1983 1934.2h0M1982.7 1930.7h0M1983.3 1926.6h0M1982.5 1922.7h0M1982.9 1918.3h0M1982.6 1915h0M1983.2 1908.4h0M1982.7 1903.1h0M1982.9 1895h0M1985.1 1937h0M1985.8 1928.7h0M1985.6 1925.8h0M1985.6 1925.1h0M1986.8 1939.1h0M1987.1 1933.9h0M1989 1942.4h0M1988.9 1937h0M1989.1 1933.1h0M1988.6 1924.6h0M1989.5 1920h0M1989.1 1916.6h0M1989.3 1912.1h0M1989.1 1908.4h0M1991.1 1949h0M1991.7 1944.5h0M1991.6 1941h0M1991.4 1937.9h0M1991.2 1933.1h0M1991.4 1931.3h0M1994.4 1955.4h0M1993.8 1951.7h0M1994.6 1942.7h0M1994.1 1933.6h0M1994 1928.4h0M1994.6 1919.6h0M1994.4 1910.8h0M1994.2 1899.5h0M1994.3 1887.6h0M1994.7 1883.3h0M1994.3 1881.3h0M1997.9 1952h0M1998 1946.5h0M1997.6 1940.9h0M1997.1 1936.6h0M1997.8 1932.6h0M1997.6 1928.6h0M1997.2 1920h0M1997.3 1914.1h0M1997 1911.1h0M1997.1 1908h0M1997.8 1899.6h0M1997.6 1891.7h0M1997.7 1887.9h0M1997.9 1883.4h0M1997.5 1879.3h0M1997.6 1876.4h0M1997.9 1864.6h0M1997.5 1856.7h0M1999.9 1949.9h0M1999.4 1944.2h0M1999.4 1941h0M2000.1 1937.3h0M1999.6 1933.8h0M1999.3 1929.1h0M1999.6 1918.2h0M2001 1952h0M2001 1947.2h0M2001.1 1938.2h0M2001.2 1927.6h0M2001.8 1924.7h0M2001.4 1916.5h0M2004.3 1960.9h0M2004.3 1957.7h0M2004.4 1952.9h0M1968.2 1827.7h0M1968 1890.4h0M1967.7 1865.5h0M1967.3 1876.1h0M1968.1 1869.8h0M1970.3 1907.3h0M1968 1907.6h0M1965.1 1913.6h0M1969.3 1906.3h0M1969.1 1833.6h0M1968.7 1866.4h0M1968.6 1837.9h0M1967.4 1892.9h0M1969.5 1866.9h0M1964.8 1911h0M1968.3 1863.7h0M1967.5 1865.3h0M1970.1 1885.8h0M1967.5 1903.4h0M1971.4 1908.1h0M1967.2 1848.7h0M1965.4 1915.1h0M1970.2 1859.7h0M1966.3 1904.3h0M1970.6 1873.1h0M1969.3 1859.4h0M1967.9 1859.5h0M1969.3 1912.7h0M1970.5 1874.8h0M1971.2 1909.9h0M1966.2 1882.8h0M1966.8 1865.4h0M1966.8 1862.2h0M1969.9 1893.9h0M1969 1832.7h0M1968.3 1903.4h0M1965.4 1915.6h0M1967.2 1835.1h0M1969.1 1848.6h0M1979.3 1815.8h0M1977.1 1887.2h0M1980.7 1903.4h0M1978 1882.5h0M1981.5 1865.2h0M1976.8 1885.2h0M1979.6 1869.8h0M1979.5 1892.3h0M1980 1847.6h0M1980.2 1876.2h0M1982.2 1915.8h0M1980.4 1858.7h0M1978.7 1847.1h0M1980.1 1827.7h0M1980.6 1848.5h0M1981.1 1884.7h0M1977.4 1892.6h0M1981.2 1896.1h0M1980.7 1870h0M1977.6 1859h0M1977.1 1876.6h0M1981.2 1863.3h0M1981 1905.9h0M1977.7 1866.3h0M1977.1 1877.6h0M1981.2 1898.8h0M1978.8 1832h0M1978.7 1878.5h0M1976.5 1892.7h0M1980.3 1897.6h0M1977.7 1848.9h0M1978.2 1838.1h0M1977.6 1872.6h0M1979 1819.5h0M1978.1 1825.2h0M1979.9 1902.4h0M1978.5 1852.7h0M1978.9 1867.9h0M1977.4 1886.1h0M1980.1 1885.2h0M1981.4 1906.1h0M1979.8 1898.6h0M1980.4 1826.8h0M1988 1853.5h0M1988.6 1899.4h0M1986.2 1883h0M1989.3 1865.7h0M1987.5 1889.1h0M1987.9 1911.9h0M1987.6 1880.9h0M1988.6 1890.9h0M1985.2 1902.5h0M1989.3 1904.7h0M1987 1913.1h0M1989.5 1866.7h0M1989.4 1878.4h0M1989.6 1913h0M1988.1 1878.2h0M1986.8 1895h0M1990.7 1895.5h0M1988.6 1895.8h0M1986.8 1888.1h0M1985.3 1909.5h0M1988.6 1889.6h0M1985.7 1916.2h0M1989 1914.5h0M1987.5 1860h0M1989.3 1867.9h0M1990.3 1899.7h0M1987.9 1859.8h0M1999.9 1847.5h0M1998.7 1859.9h0M2000.2 1853.7h0M1999 1860h0M1999 1852h0M2000.3 1856.6h0M2003.9 1877.2h0M2002.9 1881h0M2004.5 1899.5h0M2004.7 1881.2h0M2004.5 1902.6h0M2003.2 1905.6h0M2003.3 1904.1h0M2003.9 1908.8h0M2003.5 1881.6h0M2004.7 1882.2h0M2003.7 1883h0M2003.4 1908.6h0M2003.1 1879.6h0M2002.7 1897.6h0M2002 1911.6h0M2004.7 1915.4h0M2003.6 1890.4h0M2002 1903.6h0M2001.4 1914h0M2003.9 1906.9h0M2001.1 1912h0M1999.9 1775.4h0M1999.9 1802h0M1999.9 1819.8h0M1999.9 1829.7h0M2010.2 1871.3h0"/>
<path fill="#BEBEBE" d="M2007.2 2105L2007.2 1930.6L2011.2 1930.6L2012.7 1943.8L2014.2 1931.1L2015.7 1938.1L2017.2 1932.8L2018.7 1935.9L2020.2 1937.2L2021.7 1939.6L2023.2 1941.2L2024.7 1933L2026.2 1932.6L2027.7 1928.8L2029.2 1933.7L2030.7 1930.5L2032.2 1921.8L2033.7 1922.3L2035.2 1919L2036.7 1917.9L2038.2 1912.5L2039.7 1914.1L2041.2 1916.4L2042.7 1916L2044.2 1918.2L2045.7 1918.5L2047.2 1920.7L2048.7 1917.5L2050.2 1923.6L2051.7 1922.2L2053.2 1913L2054.7 1911.1L2056.2 1911.2L2060 1911.2L2060 2105Z"/>
<path fill="none" stroke="#BEBEBE" stroke-width="9" stroke-linecap="round" d="M2011.6 1934.7h0M2011.3 1931h0M2011.1 1925.7h0M2011.5 1923.1h0M2013 1937.7h0M2012.9 1933.7h0M2013.5 1927.1h0M2013.2 1924h0M2016.3 1938.5h0M2016.3 1924.5h0M2015.8 1914.6h0M2015.7 1910.8h0M2016.4 1906h0M2016.5 1902.5h0M2016.3 1897.2h0M2016.1 1889.6h0M2016.1 1885.1h0M2015.9 1879.7h0M2016.2 1876.2h0M2016.6 1872.9h0M2016.3 1868.7h0M2016.6 1865.6h0M2016 1862.7h0M2016.2 1859.1h0M2016.2 1857.3h0M2017.6 1938.5h0M2017.6 1933.6h0M2017.4 1923.5h0M2017.6 1918.2h0M2017.2 1913.2h0M2017.5 1907.9h0M2017.6 1904h0M2017.5 1890h0M2021.2 1939h0M2021 1934.7h0M2020.3 1931.3h0M2021 1921.1h0M2020.7 1918.7h0M2023 1938.7h0M2023.2 1930.1h0M2024.8 1938.4h0M2024.6 1933.8h0M2024.6 1929.6h0M2028.4 1933.2h0M2027.6 1926.3h0M2028 1923.4h0M2031 1931.7h0M2030.9 1926.6h0M2031.2 1924.6h0M2033.2 1926.5h0M2033 1922.7h0M2033.5 1919.2h0M2033.9 1914.3h0M2033.1 1909.9h0M2033.5 1909.5h0M2035.2 1923.3h0M2035 1918.5h0M2037 1919.6h0M2037.2 1914.1h0M2036.7 1905.8h0M2037.2 1902.8h0M2039.3 1917.7h0M2038.9 1913.2h0M2039.3 1909h0M2039 1903.1h0M2039 1899.5h0M2039.7 1886.4h0M2039.4 1876.6h0M2042.4 1919.5h0M2042.5 1914.7h0M2042 1910.3h0M2042.3 1906.7h0M2042.5 1902.9h0M2042.2 1899.3h0M2044 1917.2h0M2044 1905.8h0M2043.4 1903h0M2043.9 1900.5h0M2045.4 1922.6h0M2045.4 1917.2h0M2046 1913.4h0M2045.4 1909.6h0M2045.9 1907.9h0M2047.6 1920h0M2047.4 1915.9h0M2050.2 1922.9h0M2050.8 1912.7h0M2050.5 1909.5h0M2050.4 1904.5h0M2050.5 1899.2h0M2050.9 1896.1h0M2050.4 1893.2h0M2050.6 1888.3h0M2050.7 1880h0M2050.3 1877.1h0M2050.3 1873h0M2050.6 1863.5h0M2053.8 1917h0M2053.8 1912.3h0M2054.2 1904.7h0M2049.4 1663.4h0M2049.8 1736.4h0M2049.8 1824.8h0M2050 1738.4h0M2049.8 1767.7h0M2048.1 1747.6h0M2048.6 1798.9h0M2049.2 1684.9h0M2049.9 1716.1h0M2050 1673h0M2047.9 1775h0M2049 1795.1h0M2048.6 1776.2h0M2049 1703.6h0M2051.2 1775.2h0M2049.4 1785.8h0M2050.5 1797.2h0M2048 1744h0M2047.8 1813.8h0M2049 1706.9h0M2049.1 1790.3h0M2048.3 1749.3h0M2050.4 1801.1h0M2050.9 1780.7h0M2050 1677.4h0M2049.3 1800.8h0M2050.9 1743.9h0M2051.3 1802.8h0M2049.8 1677.7h0M2048.1 1726.4h0M2051.1 1806.7h0M2049.6 1802.3h0M2047.9 1772.4h0M2048.6 1785.8h0M2047.6 1806.7h0M2048.8 1712h0M2048.7 1767h0M2049.4 1743.8h0M2049.5 1703.4h0M2049.3 1672h0M2049.5 1776.8h0M2049.4 1671.5h0M2048.8 1817.7h0M2050.3 1725.5h0M2050.7 1809.5h0M2048.5 1757.1h0M2049.7 1696.6h0M2049.8 1703.7h0M2049.3 1701.3h0M2050 1783.4h0M2049.7 1732.7h0M2050.6 1816.6h0M2047.9 1754.9h0M2048.8 1689.1h0M2049.7 1674.8h0M2047.7 1781.1h0M2049.2 1825.5h0M2048 1817h0M2051.1 1786.3h0M2048.5 1789.6h0M2048.6 1821.6h0M2049.4 1746.2h0M2050.4 1727.8h0M2048.1 1757.8h0M2050.1 1735.1h0M2047.4 1817.2h0M2027.6 1833.7h0M2030.6 1868.5h0M2027.8 1834.1h0M2028.8 1874.1h0M2029.5 1875.1h0M2029.5 1848.9h0M2025 1859.1h0M2024.6 1855.3h0M2023.3 1873.4h0M2024.6 1873.3h0M2028.3 1839.9h0M2027.9 1862.1h0M2027 1851.4h0M2030.2 1856.3h0M2030.3 1861.4h0M2054.6 1837.6h0M2053.8 1853h0M2054.6 1843h0M2052.2 1855.2h0M2055.2 1848.7h0M2056.2 1846.7h0M2055.7 1853h0M2055.6 1844.5h0M2053.2 1848.4h0M2019.7 1857.4h0M2017.7 1876.8h0M2022.4 1877.1h0M2017.9 1875.1h0M2018.5 1885.5h0M2021.9 1881.3h0M2018.2 1870.4h0M2020.4 1864.3h0M2021.3 1862.3h0M2021 1862h0M2021.9 1887h0M2049.4 1651.5h0M2035.5 1813.9h0M2035.5 1833.7h0M2035.5 1849.5h0M2023.7 1837.6h0"/>
<path fill="#0000FF" d="M2059 2105L2059 1941.1L2063 1941.1L2064.5 1937.4L2066 1936.2L2067.5 1935.5L2069 1932.7L2070.5 1928.4L2072 1934.3L2073.5 1936.1L2075 1932.7L2076.5 1930.3L2078 1934.9L2079.5 1926L2081 1926.9L2082.5 1929.7L2084 1925.9L2085.5 1925.6L2087 1916.7L2088.5 1918.4L2090 1912.9L2091.5 1934.2L2093 1929.6L2094.5 1924.2L2096 1915L2097.5 1913.6L2099 1912.3L2103.8 1912.3L2103.8 2105Z"/>
<path fill="none" stroke="#0000FF" stroke-width="9" stroke-linecap="round" d="M2063.4 1934.7h0M2063.5 1931.8h0M2062.9 1928h0M2062.9 1925.1h0M2063.3 1922.1h0M2063.7 1917h0M2062.9 1911.4h0M2062.9 1906.8h0M2063.7 1902h0M2063.2 1891.6h0M2063 1886.6h0M2063.3 1880.5h0M2064.7 1940.1h0M2065.3 1936.6h0M2065.1 1933.9h0M2069.1 1937.2h0M2068.9 1932h0M2068.8 1927.3h0M2072.1 1936.5h0M2072.2 1932.1h0M2071.5 1926.6h0M2072.5 1922.5h0M2071.6 1918.7h0M2071.9 1915.8h0M2072.4 1911.1h0M2071.9 1905.6h0M2071.7 1900.4h0M2072.2 1896.8h0M2071.5 1891.4h0M2071.6 1888.2h0M2071.9 1880.1h0M2072 1874h0M2073.9 1937.5h0M2073.7 1933.3h0M2073.5 1931.4h0M2077 1937.1h0M2076.8 1928.1h0M2077.7 1924.9h0M2077.4 1919.6h0M2077.8 1906.7h0M2076.8 1901.7h0M2077.2 1897.5h0M2077.1 1894.5h0M2077.5 1889.1h0M2077.6 1884.3h0M2077 1878.6h0M2076.8 1875.7h0M2077.3 1868.4h0M2079.9 1934.7h0M2079.9 1930.2h0M2080 1926.8h0M2079.9 1921.4h0M2079.3 1916.9h0M2079.7 1911.8h0M2079.2 1902.3h0M2079.1 1897.7h0M2079.4 1893.3h0M2079.6 1884.9h0M2079.8 1873.6h0M2079.5 1868.6h0M2079.2 1864.1h0M2079.4 1859.9h0M2079.6 1856h0M2081.9 1932.5h0M2081.7 1928.2h0M2081.9 1922.5h0M2081.3 1909.3h0M2081.2 1903.9h0M2081.9 1900.1h0M2081.5 1897.6h0M2084.9 1927.9h0M2084.3 1923h0M2084.4 1918.4h0M2084.2 1912.5h0M2084.5 1911.8h0M2086.1 1923.9h0M2086.3 1918.8h0M2086.2 1909.3h0M2086.8 1906h0M2086 1903h0M2086.5 1891h0M2086.4 1888h0M2090.1 1914.1h0M2090 1910.2h0M2090.5 1906.6h0M2089.9 1898.6h0M2089.8 1895.5h0M2090 1892.6h0M2090.4 1886.8h0M2089.9 1882.6h0M2090 1878.2h0M2092.4 1927.5h0M2092.2 1921.8h0M2092.1 1919h0M2094.4 1924.6h0M2094.5 1921.5h0M2094.7 1918.5h0M2097.9 1915.7h0M2097.1 1911.1h0M2096.9 1907.4h0M2097.6 1902.3h0M2097.4 1894.8h0M2077.9 1805.9h0M2077.3 1884h0M2075.2 1858.4h0M2077.5 1857.3h0M2079.5 1871.6h0M2080.9 1866.9h0M2077.5 1810.1h0M2080.2 1860.8h0M2079.1 1839.6h0M2077.8 1873.8h0M2079.4 1866.4h0M2079.9 1864.3h0M2078.8 1815.3h0M2078.2 1814.7h0M2078 1842.7h0M2076.5 1875.6h0M2079.2 1853.3h0M2078.2 1855.5h0M2080.6 1860.8h0M2077.7 1818h0M2074.9 1873.8h0M2077 1871.5h0M2078.8 1827.6h0M2079.3 1865.6h0M2079.5 1869.7h0M2080.4 1884.6h0M2076.8 1816.2h0M2077 1863.2h0M2079.7 1840.7h0M2077.6 1833.4h0M2079.2 1883.3h0M2076.2 1859.9h0M2077.3 1873.2h0M2077 1882.6h0M2077.5 1845h0M2079.6 1879.8h0M2075.3 1860.4h0M2077.4 1825.7h0M2077 1868.1h0M2093 1754.5h0M2092.8 1788.9h0M2093.3 1757.6h0M2094 1785.2h0M2093.3 1824.5h0M2093.6 1805.5h0M2093.7 1763.8h0M2093.1 1805.8h0M2093.2 1812.1h0M2093 1819.7h0M2092.3 1786.7h0M2092.7 1784.7h0M2093.1 1786.7h0M2092.5 1806.5h0M2093.5 1797h0M2091.9 1829.6h0M2093.2 1764.1h0M2093.7 1817h0M2092 1787.9h0M2093.7 1789.7h0M2093.3 1778.4h0M2093.9 1788.8h0M2093.1 1757.6h0M2093.4 1784h0M2092.8 1801.5h0M2092.8 1828.9h0M2093.4 1808.8h0M2093.2 1786.1h0M2094.7 1826.6h0M2093.3 1794.4h0M2091.8 1810.7h0M2102.1 1857.4h0M2100.3 1872.3h0M2100.3 1893.2h0M2100.3 1891.3h0M2100.3 1891.9h0M2100.3 1874.6h0M2100.3 1861.3h0M2100.3 1881.5h0M2100.3 1864.2h0M2100.3 1892.2h0M2100.3 1882.3h0M2067.2 1883.2h0M2064.8 1898h0M2066.4 1892.8h0M2064.5 1892.7h0M2067.7 1899.7h0M2068.7 1899.1h0M2066.7 1885.5h0M2066.3 1887.6h0M2069.5 1897.8h0M2068.1 1884.1h0M2065.6 1884.6h0M2066 1789.3h0M2093 1839.6h0M2093 1858.2h0"/>
<path fill="#BEBEBE" d="M2102.8 2105L2102.8 1900.1L2106.8 1900.1L2108.3 1891.9L2109.8 1895.2L2111.3 1882.8L2112.8 1883.1L2114.3 1892.4L2115.8 1892.5L2117.3 1888.7L2118.8 1892.6L2120.3 1886.8L2121.8 1899.7L2123.3 1897.4L2124.8 1896.1L2126.3 1894.3L2127.8 1888L2129.3 1895.8L2130.8 1903.7L2132.3 1893.9L2133.8 1900.8L2135.3 1909.7L2136.8 1907L2138.3 1906.2L2139.8 1905.6L2141.3 1903.9L2142.8 1908.5L2144.3 1909.8L2145.8 1912.1L2147.3 1909.6L2148.8 1909.5L2150.3 1909L2151.8 1921.3L2153.3 1918.8L2154.8 1915.2L2159.8 1915.2L2159.8 2105Z"/>
<path fill="none" stroke="#BEBEBE" stroke-width="9" stroke-linecap="round" d="M2106.7 1899.9h0M2106.7 1895.1h0M2107.4 1889.6h0M2107.2 1884.2h0M2107.2 1880h0M2107.1 1879.9h0M2108.3 1898h0M2108.3 1893.9h0M2108.8 1890h0M2108.4 1880.2h0M2108.2 1875.4h0M2108.6 1868h0M2111.2 1883.8h0M2111.6 1880.1h0M2111.6 1875.4h0M2111.3 1871.1h0M2111.4 1860.3h0M2113 1888.5h0M2113 1885h0M2113 1880h0M2113.5 1872.3h0M2115.7 1889.8h0M2115.6 1884.5h0M2115.9 1879.6h0M2115.2 1876.3h0M2115 1871.9h0M2115.2 1868.1h0M2115.5 1857.7h0M2115.6 1852.7h0M2115.4 1844h0M2115.6 1839.2h0M2115.3 1836.1h0M2115.8 1830.4h0M2115.1 1820.8h0M2115.4 1805.8h0M2119.3 1895.8h0M2119.2 1891.3h0M2118.6 1886.1h0M2119 1882.8h0M2119.1 1873.7h0M2118.5 1863.2h0M2118.9 1859.9h0M2118.9 1855.1h0M2118.9 1839.6h0M2121.9 1899.1h0M2121.8 1894.9h0M2121.2 1889.7h0M2121.2 1886.6h0M2121.5 1876.8h0M2125.2 1899.1h0M2125.5 1893.8h0M2125.7 1890.5h0M2125.3 1886.4h0M2125.6 1883.1h0M2125.4 1877.1h0M2125.3 1872.9h0M2125.2 1868.7h0M2125.2 1861.8h0M2127.6 1898.2h0M2127 1893.8h0M2127.2 1890.8h0M2127.6 1885.6h0M2127 1879.9h0M2126.9 1875.7h0M2127.8 1871.5h0M2127.4 1869h0M2129 1898.5h0M2128.5 1895.4h0M2128.4 1890.1h0M2128.8 1884.9h0M2128.6 1881.7h0M2129.1 1877.2h0M2128.9 1872h0M2128.5 1868.1h0M2128.9 1862.3h0M2128.4 1857.1h0M2128.8 1854.1h0M2129 1850.3h0M2128.7 1847h0M2128.7 1835.3h0M2128.7 1830.9h0M2131.5 1901.1h0M2131.3 1896.9h0M2131.6 1893.2h0M2130.6 1887.4h0M2131.1 1883.6h0M2133.2 1904.9h0M2133 1901.2h0M2133.2 1886.7h0M2132.9 1883.6h0M2133.2 1880.9h0M2134.6 1906.7h0M2134.7 1901.6h0M2135.3 1896.9h0M2134.7 1893.7h0M2135.2 1884.9h0M2134.7 1881.5h0M2135.3 1870.4h0M2134.9 1866.4h0M2136.5 1907.5h0M2137 1901.9h0M2136.5 1893.6h0M2136.6 1888.3h0M2138.6 1908.2h0M2137.9 1903h0M2138 1897.2h0M2138.5 1892.8h0M2138.4 1887.6h0M2137.7 1882.3h0M2137.8 1876.5h0M2137.9 1871.9h0M2137.9 1868.7h0M2138 1865.6h0M2137.7 1859.9h0M2137.9 1854h0M2138 1848.5h0M2137.6 1844.1h0M2138.2 1838.1h0M2138.4 1825.8h0M2137.8 1822.6h0M2138.1 1817.5h0M2141.1 1910.1h0M2140.4 1894.5h0M2140.4 1889.4h0M2141.2 1881.8h0M2140.9 1879.7h0M2144.1 1911.1h0M2144.2 1907.5h0M2144.1 1903h0M2144.1 1892.9h0M2144.5 1891.3h0M2145.9 1911.6h0M2146 1903h0M2146.2 1899.4h0M2146.2 1891h0M2146.4 1885.6h0M2145.8 1880.5h0M2146.1 1874.6h0M2145.9 1871.8h0M2146 1866.1h0M2145.6 1856h0M2145.4 1852.5h0M2145.9 1845.7h0M2149.3 1913.1h0M2149.1 1904.4h0M2148.8 1892.8h0M2149.3 1886.7h0M2149.1 1882.7h0M2148.9 1874.5h0M2152.6 1912.4h0M2152.5 1909.3h0M2152.2 1905.3h0M2152.5 1901.1h0M2153 1896.1h0M2153 1890.8h0M2152.4 1884.9h0M2152.8 1881.3h0M2152.4 1873.1h0M2152.8 1868.2h0M2152.4 1860.7h0M2152.6 1855.2h0M2152.6 1840.9h0M2154.6 1920.3h0M2155 1916.1h0M2155 1914.3h0M2120.7 1829.7h0M2120.4 1840h0M2121.8 1840.5h0M2120.3 1844.4h0M2122 1840.1h0M2119.9 1845.4h0M2138.5 1821.8h0M2137.4 1836.7h0M2138.6 1860.2h0M2139.7 1835h0M2137.3 1857.9h0M2137.9 1848.1h0M2140.9 1856.3h0M2137.1 1858.6h0M2137.9 1825.7h0M2139.7 1847h0M2140.1 1845.7h0M2138.6 1840.3h0M2139.9 1844.5h0M2150.4 1821.8h0M2150.2 1847.9h0M2152.1 1840.6h0M2148.5 1843.5h0M2153.2 1858.3h0M2149.7 1853.2h0M2148.5 1850.6h0M2149.9 1831.5h0M2150.4 1835.4h0M2150.8 1852.4h0M2151.8 1842.7h0M2149.1 1839.9h0M2150.4 1857.1h0M2126.6 1861.4h0M2128.4 1865h0M2129.5 1864.4h0M2127.8 1873.9h0M2129.7 1880.8h0M2123.1 1884.4h0M2129.9 1868.8h0M2129.5 1884.3h0M2127.3 1867.1h0M2126.1 1869.2h0M2120.7 1883.3h0M2130.2 1884.7h0M2120.5 1877.7h0M2132.9 1873.7h0M2134.6 1878.7h0M2135.4 1881h0M2123.4 1871.2h0M2122.6 1866.6h0M2124.5 1879.6h0M2124.2 1868.3h0M2125 1870h0M2110 1825.7h0M2130.6 1815.8h0M2151.2 1798h0"/>
<path fill="#0000FF" d="M2158.8 2105L2158.8 1916.6L2162.8 1916.6L2164.3 1912.9L2165.8 1907.6L2167.3 1921.3L2168.8 1920.8L2170.3 1929.1L2171.8 1928L2173.3 1924.7L2174.8 1928.3L2176.3 1923.3L2177.8 1916.5L2179.3 1920.6L2180.8 1917.9L2182.3 1916.3L2183.8 1928.7L2185.3 1922.2L2189.7 1922.2L2189.7 2105Z"/>
<path fill="none" stroke="#0000FF" stroke-width="9" stroke-linecap="round" d="M2163.6 1917h0M2163.1 1907.2h0M2162.9 1903.8h0M2163.1 1903.1h0M2165.3 1917.5h0M2165.8 1913.1h0M2165.5 1908.8h0M2165.4 1905.6h0M2165 1902.3h0M2165.7 1896.7h0M2165.3 1891.9h0M2165 1888h0M2165.4 1885h0M2168.2 1923h0M2168.2 1917.2h0M2167.6 1911.5h0M2167.8 1907.6h0M2171.7 1930.4h0M2171.8 1925.3h0M2171.7 1916.5h0M2171.3 1911.2h0M2171.4 1901h0M2172.9 1929.9h0M2173.1 1926.2h0M2172.7 1922.1h0M2173.1 1916.7h0M2173 1912h0M2175 1920.5h0M2175.1 1916.9h0M2175.1 1912.8h0M2175.1 1909.6h0M2175.6 1905.7h0M2175.5 1900h0M2175.3 1897.8h0M2178.4 1923.6h0M2178.7 1919.7h0M2178.6 1915.4h0M2178.6 1912.1h0M2178.5 1904.5h0M2181.5 1926h0M2181.9 1923.1h0M2181.4 1908.6h0M2182.2 1903.6h0M2181.7 1901h0M2185.1 1925.3h0M2185 1919.7h0M2185 1911.8h0M2185.5 1903.9h0M2185.2 1898.3h0M2185.1 1890.9h0M2184.6 1885.4h0M2185.4 1880.4h0M2185 1876.9h0M2166.2 1716.8h0M2166.8 1745.8h0M2166.4 1735.5h0M2165.4 1757.5h0M2166.4 1751.2h0M2166.5 1721.5h0M2165.7 1749.5h0M2166.7 1758.2h0M2166.2 1751.3h0M2166 1727.1h0M2167.1 1751.9h0M2166.7 1734.3h0M2166.1 1725.6h0M2166.7 1751.3h0M2166.8 1727.9h0M2167 1813.9h0M2168.8 1889.6h0M2169.4 1915.6h0M2166 1883.7h0M2168.7 1864.5h0M2170.3 1915.8h0M2166 1885.9h0M2168.1 1874.2h0M2167.5 1840h0M2166.5 1824.8h0M2169.2 1877h0M2167.2 1904.4h0M2167 1845.4h0M2169 1851.8h0M2166.9 1817.6h0M2167.2 1852.9h0M2166.8 1883.7h0M2168.1 1817.6h0M2166.8 1857h0M2165.9 1870.6h0M2165.5 1852.9h0M2168.7 1911h0M2168.8 1865.3h0M2167.5 1824.1h0M2169.5 1899h0M2164.8 1892.1h0M2166.6 1890.4h0M2168.2 1866.8h0M2166.8 1890h0M2168.5 1843.5h0M2165.9 1877.3h0M2167.8 1869h0M2166.9 1853.6h0M2167.9 1894.6h0M2167.9 1877.7h0M2169.1 1859.1h0M2169.4 1916h0M2164.4 1891.4h0M2166 1860.9h0M2168 1911.3h0M2167.7 1889.6h0M2167.2 1916.8h0M2168.9 1848.4h0M2176.1 1825.7h0M2176.6 1859.4h0M2178.2 1884.3h0M2178.7 1900.3h0M2176.8 1901.7h0M2175.2 1846.3h0M2175.6 1868.1h0M2176.6 1851h0M2176.4 1909.6h0M2175.5 1899.9h0M2176.7 1869.9h0M2176.8 1848h0M2175.4 1894.9h0M2177.9 1912.1h0M2175.9 1896.7h0M2176.7 1885.2h0M2177 1916.5h0M2177.3 1858.9h0M2175.9 1887.6h0M2176 1888.6h0M2176.3 1870.8h0M2178.3 1906.7h0M2177.1 1912.4h0M2187.2 1758.4h0M2186.2 1761h0M2186.2 1762.3h0M2186.2 1794.3h0M2186.2 1792.8h0M2186.2 1820.2h0M2186.2 1787.1h0M2186.2 1792.6h0M2186.2 1806.2h0M2186.2 1803.3h0M2186.2 1779.7h0M2186.2 1806.9h0M2186.2 1813.8h0M2186.2 1814.3h0M2186.2 1821.1h0M2186.2 1811.6h0M2186.2 1823.7h0M2186.2 1786.9h0M2186.2 1791.1h0M2186.2 1821.3h0M2186.2 1800.5h0M2186.2 1775.7h0M2186.2 1793.9h0M2186.2 1820.8h0M2186.2 1766h0M2186.4 1877.2h0M2186.2 1878.8h0M2186.2 1891.5h0M2185.6 1894.8h0M2186.2 1900.7h0M2185.6 1901.5h0M2185.1 1910.9h0M2186.2 1891.6h0M2186.2 1908.1h0M2185.4 1897.5h0M2186.2 1900.9h0M2166.2 1602h0M2166.2 1617.8h0M2166.2 1704.2h0M2166.2 1772.3h0M2166.2 1800h0M2187.2 1879.2h0M2188 1471h0M2166.6 1514h0M2166.6 1520.5h0M2166.6 1526.5h0M2166.6 1543.6h0"/>
<path fill="#BEBEBE" d="M2188.7 2105L2188.7 1896.4L2192.7 1896.4L2194.2 1902.4L2195.7 1901.3L2197.2 1907L2198.7 1904.3L2200.2 1902.1L2201.7 1895.8L2203.2 1898.7L2204.7 1897.2L2206.2 1904.9L2207.7 1909.9L2209.2 1906.9L2210.7 1911.2L2212.2 1912.6L2213.7 1917.2L2215.2 1912L2216.7 1917.9L2218.2 1915.3L2219.7 1910.3L2221.2 1917.3L2222.7 1919.7L2224.2 1918.7L2228.2 1918.7L2228.2 2105Z"/>
<path fill="none" stroke="#BEBEBE" stroke-width="9" stroke-linecap="round" d="M2193.2 1903.4h0M2192.8 1899.7h0M2193.2 1895.1h0M2192.9 1890.9h0M2193.3 1884.3h0M2193.4 1878.7h0M2192.7 1875h0M2192.7 1864.7h0M2192.6 1859.9h0M2193.2 1853.9h0M2193.3 1850.2h0M2193 1849.3h0M2194.4 1905.2h0M2194.3 1901.5h0M2194.6 1897.3h0M2196.9 1900.6h0M2196.9 1897h0M2197 1891.1h0M2196.1 1886.7h0M2196.8 1881h0M2197 1876.8h0M2196.5 1870.9h0M2199.3 1902.4h0M2199.6 1896.6h0M2199.1 1892.7h0M2199 1887.9h0M2199.4 1879.8h0M2199.2 1876h0M2200.7 1900.8h0M2200.7 1897.9h0M2201.3 1888.5h0M2201.1 1879.8h0M2200.9 1875.7h0M2201 1866.6h0M2201.3 1862.6h0M2201.2 1858.5h0M2200.7 1855.6h0M2200.7 1851.1h0M2201.1 1847.7h0M2200.7 1841.6h0M2200.6 1836.9h0M2200.6 1833.9h0M2201 1829.1h0M2204.2 1900.6h0M2203.9 1896h0M2203.6 1893h0M2204 1887.5h0M2203.3 1876h0M2203.7 1875.8h0M2206.6 1904.9h0M2206.8 1900.6h0M2207.1 1897.6h0M2206.7 1888.4h0M2207.1 1884.1h0M2206.8 1878.8h0M2206.7 1873.8h0M2206.5 1868.5h0M2206.7 1865.3h0M2209.1 1912.9h0M2209.2 1904.5h0M2209.7 1901.5h0M2209.4 1897.1h0M2209.2 1891.4h0M2209.9 1887.9h0M2209.3 1884.5h0M2209.5 1876.7h0M2209.3 1871.8h0M2209.5 1867.6h0M2209.8 1864.5h0M2209.6 1858.5h0M2209.6 1850.9h0M2209.6 1848.6h0M2211.8 1917.7h0M2212 1914.2h0M2212.5 1908.2h0M2212.5 1903.3h0M2212.5 1899.6h0M2212.7 1893.5h0M2211.8 1888.3h0M2212.1 1882.4h0M2211.8 1878.8h0M2212.2 1868.4h0M2215.4 1916.5h0M2215 1911.9h0M2216.3 1914.8h0M2216.6 1911h0M2216.7 1905.6h0M2216.5 1902.9h0M2218.8 1914.3h0M2219.2 1910.9h0M2218.7 1906.9h0M2218.5 1904h0M2218.8 1900.7h0M2218.9 1897h0M2218.3 1893h0M2218.5 1889.2h0M2218.7 1887h0M2220.7 1916.5h0M2221.5 1912.7h0M2221.4 1904.2h0M2220.8 1898.6h0M2221 1895.2h0M2220.9 1889.2h0M2221.2 1885.7h0M2221.5 1882.8h0M2221.1 1880.6h0M2223.7 1794.1h0M2224.6 1815.4h0M2221.5 1821.7h0M2222.1 1835.8h0M2223.4 1802.5h0M2223.3 1834.9h0M2222.7 1830.5h0M2222.1 1812.2h0M2224.7 1808.1h0M2224.7 1817.1h0M2224 1800.2h0M2222.4 1822.2h0M2224.1 1830.9h0M2197.9 1865.3h0M2197.3 1882.4h0M2197.8 1878.8h0M2199.6 1897.3h0M2194.5 1887.8h0M2196.6 1869.3h0M2196.9 1888.5h0M2194.9 1895.6h0M2192.7 1899.9h0M2197.7 1891.8h0M2193.3 1897h0M2200.5 1895.2h0M2200.2 1887.7h0M2221.7 1837.6h0M2222.3 1890.1h0M2223.7 1868.1h0M2221.9 1863h0M2220.8 1838.2h0M2223.8 1859.9h0M2223 1854.3h0M2222 1858.2h0M2223.5 1885.8h0M2217.8 1902.3h0M2222.2 1867.7h0M2223.4 1899.6h0M2221.3 1906.4h0M2220.5 1897.9h0M2218.2 1908.3h0M2218.8 1903.4h0M2224.6 1884.4h0M2224.7 1894.9h0M2223.6 1897.7h0M2223.8 1907.5h0M2217.6 1897.5h0M2207.8 1837.6h0M2223.7 1735.8h0M2223.7 1749.7h0"/>
<path fill="#0000FF" d="M2227.2 2105L2227.2 1945.6L2231.2 1945.6L2232.7 1955.1L2234.2 1947L2235.7 1945.8L2237.2 1937.5L2238.7 1942.4L2240.2 1947.6L2241.7 1938.7L2243.2 1936.4L2244.7 1940.8L2246.2 1952.3L2247.7 1959.7L2249.2 1961.9L2250.7 1956.4L2255.7 1956.4L2255.7 2105Z"/>
<path fill="none" stroke="#0000FF" stroke-width="9" stroke-linecap="round" d="M2231.1 1948h0M2231.5 1948h0M2233.9 1953.9h0M2234.1 1949.1h0M2234.1 1940.7h0M2233.2 1935.9h0M2233.7 1932.3h0M2237 1948.3h0M2237.7 1943.1h0M2237.3 1940.1h0M2237.7 1930.8h0M2237.9 1925.4h0M2237.4 1920.9h0M2239.8 1945.5h0M2239.6 1940.6h0M2239.5 1936.6h0M2239 1933.3h0M2239.5 1929.1h0M2239.4 1927.4h0M2243 1944.7h0M2242.5 1940.9h0M2242.9 1936.9h0M2242.6 1935.4h0M2244.2 1948.1h0M2244.9 1943.7h0M2244.7 1939.2h0M2244.4 1934.3h0M2246.1 1953.5h0M2246.4 1948.8h0M2245.7 1944.3h0M2245.7 1940.6h0M2246 1930.6h0M2249.4 1961.5h0M2249.5 1953.4h0M2248.9 1948.4h0M2248.6 1944.6h0M2249.1 1940.1h0M2251.9 1961.5h0M2251.7 1956h0M2252.4 1951.5h0M2251.5 1947.5h0M2252.2 1940.3h0M2251.7 1934.4h0M2251.8 1929.9h0M2251.9 1922.1h0M2252.4 1916.5h0M2251.8 1912.6h0M2251.4 1909.6h0M2252.1 1905.7h0M2252.2 1899.9h0M2252.2 1896.4h0M2251.9 1891.7h0M2234.4 1736.6h0M2232 1800.2h0M2233.1 1804.9h0M2232.7 1778.9h0M2236.3 1805.8h0M2234.6 1747.2h0M2234.2 1761.5h0M2236.4 1786.3h0M2232.8 1779.6h0M2234.6 1778.3h0M2235.2 1738.5h0M2234.8 1800.3h0M2234 1766.3h0M2236 1773.5h0M2235.3 1760.7h0M2232.9 1805.4h0M2236.5 1811.2h0M2236.3 1792.8h0M2232.8 1780.8h0M2233.8 1773.6h0M2234.6 1810.6h0M2232.5 1793.1h0M2235.7 1773.7h0M2233.3 1748h0M2233.6 1771.7h0M2236.3 1784.3h0M2235.4 1800.4h0M2234.2 1781.2h0M2235.9 1784.3h0M2233.5 1801.8h0M2234 1748.7h0M2236.4 1778.8h0M2233 1758.4h0M2239.5 1766.3h0M2236.5 1797.1h0M2237.8 1798.1h0M2238.8 1803.7h0M2240.5 1783.9h0M2238.8 1786.9h0M2236.2 1806.4h0M2239 1807h0M2236.9 1809.8h0M2237.9 1780.6h0M2237.9 1781.9h0M2241.7 1796.6h0M2239.4 1777.6h0M2239.9 1810.9h0M2241.9 1810.7h0M2238.9 1767.3h0M2238.5 1808.9h0M2240 1808h0M2238.5 1770.7h0M2239.3 1776.5h0M2239.6 1807h0M2240.5 1767.8h0M2240.7 1767.4h0M2238.7 1800.7h0M2238.2 1788h0M2239.6 1789.8h0M2237 1813.3h0M2241.5 1813.9h0M2247.3 1896.3h0M2246.8 1881.5h0M2246.4 1880.7h0M2240.8 1832.8h0M2247.6 1889.6h0M2242.5 1842.7h0M2238.7 1868.6h0M2241.7 1870.5h0M2242.9 1829.5h0M2243.6 1876.9h0M2237.2 1845.9h0M2247.6 1873.7h0M2238 1877.4h0M2235.1 1884h0M2238.5 1832.9h0M2245 1840.5h0M2243.8 1877.4h0M2236.9 1861.5h0M2239.1 1881.9h0M2237.7 1842.6h0M2245.3 1901.6h0M2238.5 1858.9h0M2249.2 1907.4h0M2240.3 1874.3h0M2242.6 1896.1h0M2246.4 1856.6h0M2237.7 1903.3h0M2247.3 1907.3h0M2249.1 1908.1h0M2244.5 1853.1h0M2238.8 1840.9h0M2239.6 1847.9h0M2245 1855.1h0M2235 1881.5h0M2236.4 1895.9h0M2237.8 1893h0M2243.8 1905.8h0M2238.5 1880h0M2234.9 1898.1h0M2242.4 1896.3h0M2240.4 1862.4h0M2241.4 1819.7h0M2240 1868.3h0M2242.2 1842.3h0M2238.2 1866.2h0M2238.6 1845.3h0M2242.7 1819.6h0M2243 1840.4h0M2237.2 1859.5h0M2243.4 1844.1h0M2242.1 1854.7h0M2244.6 1828.8h0M2245 1866.7h0M2245.4 1844.5h0M2243.1 1845.7h0M2243.6 1901.5h0M2244.2 1831.9h0M2244.2 1893h0M2235.6 1880.3h0M2239.8 1852.5h0M2244.2 1845.8h0M2239.7 1834.2h0M2238.8 1839.5h0M2234.2 1899.8h0M2243.2 1823.3h0M2239.4 1852.4h0M2242.3 1838.4h0M2241 1832.2h0M2234.8 1881.6h0M2237.3 1865.2h0M2243.3 1822h0M2239.7 1819.7h0M2234.1 1905.8h0M2243.8 1865.1h0M2247.5 1876h0M2249.4 1825.7h0M2251.3 1853h0M2249 1844.5h0M2248.9 1877h0M2251.4 1860.9h0M2252.2 1872.4h0M2249.1 1828.8h0M2248.5 1874.8h0M2248.4 1842.8h0M2249.8 1871h0M2248 1850.8h0M2248.4 1845h0M2247.1 1856h0M2249.9 1858h0M2249.7 1867.2h0M2247.3 1867.7h0M2247.5 1870.6h0M2249.9 1848.9h0M2250.4 1835.3h0M2250.8 1869.8h0M2248 1848.2h0"/>
<path fill="#BEBEBE" d="M2254.7 2105L2254.7 1935.3L2258.7 1935.3L2260.2 1938.4L2261.7 1936.5L2263.2 1944.4L2264.7 1942.8L2266.2 1933.8L2267.7 1933.9L2269.2 1934.9L2270.7 1935.1L2272.2 1930.3L2273.7 1935.5L2275.2 1932.4L2276.7 1929.1L2278.2 1923L2282.2 1923L2282.2 2105Z"/>
<path fill="none" stroke="#BEBEBE" stroke-width="9" stroke-linecap="round" d="M2258.7 1938h0M2259.1 1933.2h0M2259 1929.2h0M2262.3 1940.4h0M2262.5 1930.2h0M2262.3 1925.8h0M2262.9 1920.2h0M2262.5 1914.6h0M2262.5 1914.4h0M2265.4 1939.6h0M2265.9 1934.5h0M2265.6 1925.4h0M2265.4 1922.7h0M2266.4 1939.7h0M2266.5 1936.7h0M2267 1933.2h0M2266.6 1928.4h0M2267.1 1924.1h0M2266.8 1915.3h0M2266.9 1910h0M2266.7 1907.2h0M2269.5 1939.6h0M2269.7 1936.2h0M2272.6 1933.6h0M2272.5 1928.9h0M2272.3 1924h0M2272.6 1919h0M2273 1909.2h0M2272.4 1901.4h0M2272.7 1897.6h0M2273.2 1893.6h0M2273.1 1888.9h0M2272.5 1884.1h0M2272.4 1879.5h0M2272.8 1874.7h0M2273 1858.2h0M2272.7 1853h0M2272.8 1852.7h0M2274.7 1931h0M2275.5 1925.5h0M2275 1915.1h0M2275 1914.2h0M2275.1 1805.9h0M2276.8 1863.7h0M2274.4 1845.4h0M2275.8 1862.2h0M2273.3 1846.8h0M2274 1813.3h0M2278.3 1905.8h0M2274.9 1851.8h0M2275.5 1862h0M2272.8 1843.8h0M2278.5 1877.4h0M2276.1 1902.3h0M2274.8 1828.5h0M2278.5 1871.3h0M2276.8 1883.4h0M2276.8 1869.1h0M2277.4 1836.4h0M2276.8 1912.4h0M2277.4 1862.6h0M2274.4 1809.4h0M2277.6 1882.9h0M2276.2 1848.4h0M2277.8 1909.1h0M2277.2 1873h0M2274.8 1906.3h0M2274.3 1843.4h0M2277.9 1858.4h0M2275.5 1808.8h0M2273.6 1836.6h0M2274.7 1859h0M2273.2 1896.4h0M2271.6 1889.7h0M2274.1 1856.2h0M2275.3 1831.8h0M2273.9 1856.2h0M2276.7 1848.4h0M2276.3 1859.6h0M2265.2 1881.2h0M2266.8 1908.5h0M2266.2 1912.1h0M2264.5 1902.8h0M2262.8 1915.5h0M2264.2 1887.7h0M2266.8 1899h0M2266.3 1915.1h0M2263.7 1915h0M2264.5 1904h0M2267 1904h0M2271.2 1663.4h0M2271.2 1698.2h0M2271.2 1720h0M2271.2 1741.8h0M2271.2 1785.3h0M2276.3 1796h0"/>
<path d="M926.5 1330V1599" stroke="#0000FF" stroke-width="9.8" stroke-linecap="round"/>
<path fill="none" stroke="#fff" stroke-width="3.2" stroke-linecap="round" stroke-linejoin="round" d="M1200.7 1936.6L1211.4 1939L1220.5 1943L1219.7 1956.4L1220.9 1980.2M616.1 1928.7L615.7 1972.3M576.9 1916L580.9 1918M624.5 1916.8L622.1 1926.3M879.9 1939.8L881.5 1941.4M1849.4 1951.7L1851.8 1953.3M2211 1914.1L2213 1915.6M1646.2 1946.5L1646.2 1963.6M1192.8 1916L1194.4 1917.6"/>
</g>
<g id="axesA">
<path d="M241.0 134V2106.6" stroke="#000" stroke-width="4.9" fill="none"/>
<path d="M238.6 2104.3H2279" stroke="#000" stroke-width="4.6" fill="none"/>
<path d="M238.6 2107.2H2279" stroke="#777" stroke-width="1.4" fill="none"/>
<path d="M227.4 2105H238.4" stroke="#333" stroke-width="5.6"/>
<text x="215.3" y="2128.7" text-anchor="end" class="tk">0</text>
<path d="M227.4 1700H238.4" stroke="#333" stroke-width="5.6"/>
<text x="215.3" y="1723.7" text-anchor="end" class="tk">5</text>
<path d="M227.4 1295H238.4" stroke="#333" stroke-width="5.6"/>
<text x="215.3" y="1318.7" text-anchor="end" class="tk">10</text>
<path d="M227.4 890H238.4" stroke="#333" stroke-width="5.6"/>
<text x="215.3" y="913.7" text-anchor="end" class="tk">15</text>
<path d="M227.4 485H238.4" stroke="#333" stroke-width="5.6"/>
<text x="215.3" y="508.7" text-anchor="end" class="tk">20</text>
<path d="M309 2106.8V2119.3" stroke="#333" stroke-width="5.3"/>
<text x="309" y="2173.8" text-anchor="middle" class="tkx">1</text>
<path d="M626.8 2106.8V2119.3" stroke="#333" stroke-width="5.3"/>
<text x="626.8" y="2173.8" text-anchor="middle" class="tkx">3</text>
<path d="M935 2106.8V2119.3" stroke="#333" stroke-width="5.3"/>
<text x="935" y="2173.8" text-anchor="middle" class="tkx">5</text>
<path d="M1227 2106.8V2119.3" stroke="#333" stroke-width="5.3"/>
<text x="1227" y="2173.8" text-anchor="middle" class="tkx">7</text>
<path d="M1447 2106.8V2119.3" stroke="#333" stroke-width="5.3"/>
<text x="1447" y="2173.8" text-anchor="middle" class="tkx">9</text>
<path d="M1658 2106.8V2119.3" stroke="#333" stroke-width="5.3"/>
<text x="1658" y="2173.8" text-anchor="middle" class="tkx">11</text>
<path d="M1857 2106.8V2119.3" stroke="#333" stroke-width="5.3"/>
<text x="1857" y="2173.8" text-anchor="middle" class="tkx">13</text>
<path d="M1985.5 2106.8V2119.3" stroke="#333" stroke-width="5.3"/>
<text x="1985.5" y="2173.8" text-anchor="middle" class="tkx">15</text>
<path d="M2086 2106.8V2119.3" stroke="#333" stroke-width="5.3"/>
<text x="2086" y="2173.8" text-anchor="middle" class="tkx">17</text>
<path d="M2178.5 2106.8V2119.3" stroke="#333" stroke-width="5.3"/>
<text x="2178.5" y="2173.8" text-anchor="middle" class="tkx">19</text>
<path d="M2246.6 2106.8V2119.3" stroke="#333" stroke-width="5.3"/>
<text x="2246.6" y="2173.8" text-anchor="middle" class="tkx">21</text>
</g>
<g id="lead">
<path d="M304.6 200.9L319.2 215.5L304.6 230.1L290 215.5Z" fill="none" stroke="#0000FF" stroke-width="2.8" stroke-linejoin="miter"/><circle cx="304.6" cy="215.5" r="4.2" fill="#0000FF"/>
<path d="M398 1017.4L412.6 1032L398 1046.6L383.4 1032Z" fill="none" stroke="#BEBEBE" stroke-width="2.8" stroke-linejoin="miter"/><circle cx="398" cy="1032" r="4.2" fill="#BEBEBE"/>
<path d="M394.7 1287.2L409.3 1301.8L394.7 1316.4L380.1 1301.8Z" fill="none" stroke="#BEBEBE" stroke-width="2.8" stroke-linejoin="miter"/><circle cx="394.7" cy="1301.8" r="4.2" fill="#BEBEBE"/>
<path d="M395 1470.8L409.6 1485.4L395 1500L380.4 1485.4Z" fill="none" stroke="#BEBEBE" stroke-width="2.8" stroke-linejoin="miter"/><circle cx="395" cy="1485.4" r="4.2" fill="#BEBEBE"/>
<path d="M926.2 1305L940.8 1319.6L926.2 1334.2L911.6 1319.6Z" fill="none" stroke="#0000FF" stroke-width="2.8" stroke-linejoin="miter"/><circle cx="926.2" cy="1319.6" r="4.2" fill="#0000FF"/>
<path d="M1388.9 1429.2L1403.5 1443.8L1388.9 1458.4L1374.3 1443.8Z" fill="none" stroke="#BEBEBE" stroke-width="2.8" stroke-linejoin="miter"/><circle cx="1388.9" cy="1443.8" r="4.2" fill="#BEBEBE"/>
<path d="M1701.7 1489.5L1716.3 1504.1L1701.7 1518.7L1687.1 1504.1Z" fill="none" stroke="#0000FF" stroke-width="2.8" stroke-linejoin="miter"/><circle cx="1701.7" cy="1504.1" r="4.2" fill="#0000FF"/>
<path d="M2188 1342L2202.6 1356.6L2188 1371.2L2173.4 1356.6Z" fill="none" stroke="#0000FF" stroke-width="2.8" stroke-linejoin="miter"/><circle cx="2188" cy="1356.6" r="4.2" fill="#0000FF"/>
<path d="M243.5 1511.4H2279.4" stroke="#d0d0d0" stroke-width="1.6"/>
<path d="M243.5 1513.8H2279.4" stroke="#2a2a2a" stroke-width="3.3"/>
</g>
<g class="gl">
<text x="327.5" y="231.6">CELSR2</text>
<text x="287.5" y="1089.5">GCKR</text>
<text x="375" y="1275">APOB</text>
<text x="417" y="1525">LDAH, APOB</text>
<text x="679" y="1377.7">ANKRD31, HMGCR</text>
<text x="1151.5" y="1501.7">TRIB1, LINC00861</text>
<text x="1684" y="1480.2">ZPR1</text>
<text x="1966" y="1379">NECTIN2</text>
</g>
<text x="1259.8" y="88" text-anchor="middle" class="ttl">Manhattan plot</text>
<text x="70" y="86.8" class="tag">(A)</text>
<text x="1261" y="2250.5" text-anchor="middle" class="axt">Chromosome</text>
<g transform="translate(99.6 1250) rotate(-90)" class="axt" style="font-size:67.5px">
<text transform="scale(1.13 1)" x="-2" y="5.5">−</text>
<text x="43.2 55.8 93.8">log</text>
<text x="132 151.8" font-size="35">10</text>
<text x="171.2">(</text><text x="195.7" font-style="italic">p</text><text x="240.3">)</text>
</g>
<g id="qq">
<path fill="#BFBFBF" d="M863.7 3679.6L825.8 3754.1L808.2 3785L796.6 3803.7L787.9 3816.8L781 3826.9L775.2 3834.9L770.3 3841.7L765.9 3847.5L762.1 3852.5L758.6 3857L755.5 3861L752.6 3864.6L750 3867.9L747.5 3871L745.2 3873.8L743 3876.4L741 3878.9L739.1 3881.2L737.3 3883.4L735.6 3885.4L733.9 3887.3L732.3 3889.2L730.8 3890.9L729.4 3892.6L728 3894.2L726.7 3895.8L725.4 3897.2L724.2 3898.6L723 3900L721.8 3901.3L719.7 3903.8L718.6 3905L717.6 3906.1L716.6 3907.3L714.7 3909.4L713.8 3910.4L712.1 3912.3L711.2 3913.3L709.6 3915.1L708.8 3915.9L707.3 3917.6L705.8 3919.2L705.1 3920L703.8 3921.5L702.5 3922.9L701.2 3924.3L700 3925.6L698.2 3927.5L697.1 3928.8L696 3929.9L694.4 3931.6L693.4 3932.7L692 3934.3L690.6 3935.8L689.7 3936.7L688.4 3938.1L687.1 3939.5L685.9 3940.8L684.3 3942.4L683.2 3943.6L681.7 3945.1L680.7 3946.2L679.4 3947.7L678.1 3949L676.8 3950.3L675.6 3951.6L674.2 3953.1L673 3954.3L671.7 3955.7L670.4 3957L669.1 3958.3L667.9 3959.6L666.8 3960.8L665.4 3962.2L664.1 3963.5L662.9 3964.8L661.7 3966.1L660.3 3967.5L659 3968.8L657.7 3970.1L656.5 3971.3L655.2 3972.7L653.9 3974L652.7 3975.3L651.5 3976.5L650.2 3977.8L648.9 3979.1L647.6 3980.5L646.4 3981.6L645.2 3982.9L643.8 3984.2L642.6 3985.5L641.3 3986.8L640 3988.1L638.8 3989.3L637.5 3990.6L636.2 3991.9L634.9 3993.2L633.7 3994.5L632.5 3995.7L631.1 3997L629.9 3998.2L628.6 3999.5L627.4 4000.8L626.1 4002L624.8 4003.4L623.5 4004.6L622.3 4005.8L621 4007.1L619.8 4008.4L618.5 4009.6L617.2 4010.9L616 4012.1L614.7 4013.4L613.4 4014.7L612.2 4015.9L610.9 4017.2L609.7 4018.4L608.4 4019.7L607.1 4020.9L605.8 4022.2L604.6 4023.4L603.3 4024.7L602.1 4025.9L600.8 4027.2L599.5 4028.4L598.3 4029.7L597 4030.9L595.7 4032.1L594.5 4033.4L593.2 4034.6L591.9 4035.9L590.7 4037.1L589.4 4038.4L588.2 4039.6L586.9 4040.8L585.6 4042.1L584.3 4043.3L583.1 4044.5L581.8 4045.8L580.5 4047L579.3 4048.3L578 4049.5L576.7 4050.7L575.5 4052L574.2 4053.2L573 4054.4L571.7 4055.7L570.4 4056.9L569.2 4058.1L567.9 4059.4L566.6 4060.6L565.4 4061.8L564.1 4063.1L562.8 4064.3L561.6 4065.5L560.3 4066.8L559 4068L557.8 4069.2L556.5 4070.4L555.3 4071.7L554 4072.9L552.7 4074.1L551.5 4075.4L550.2 4076.6L548.9 4077.8L547.7 4079L546.4 4080.3L545.1 4081.5L543.9 4082.7L542.6 4083.9L541.3 4085.2L540.1 4086.4L538.8 4087.6L537.5 4088.8L536.3 4090.1L535 4091.3L533.8 4092.5L532.5 4093.7L531.2 4094.9L530 4096.2L528.7 4097.4L527.4 4098.6L526.2 4099.8L524.9 4101.1L523.6 4102.3L522.4 4103.5L521.1 4104.7L519.8 4105.9L518.6 4107.2L517.3 4108.4L516 4109.6L514.8 4110.8L513.5 4112L512.3 4113.3L511 4114.5L509.7 4115.7L508.5 4116.9L507.2 4118.1L505.9 4119.3L504.7 4120.6L503.4 4121.8L502.1 4123L500.9 4124.2L499.6 4125.4L498.3 4126.7L497.1 4127.9L495.8 4129.1L494.5 4130.3L493.3 4131.5L492 4132.7L490.8 4133.9L489.5 4135.2L488.2 4136.4L487 4137.6L485.7 4138.8L484.4 4140L483.2 4141.2L481.9 4142.5L480.6 4143.7L479.4 4144.9L478.1 4146.1L476.8 4147.3L475.6 4148.5L474.3 4149.7L473 4151L471.8 4152.2L470.5 4153.4L469.3 4154.6L468 4155.8L466.7 4157L465.5 4158.2L464.2 4159.5L462.9 4160.7L461.7 4161.9L460.4 4163.1L459.1 4164.3L457.9 4165.5L456.6 4166.7L455.3 4168L454.1 4169.2L452.8 4170.4L451.5 4171.6L450.3 4172.8L449 4174L447.8 4175.2L446.5 4176.4L445.2 4177.7L444 4178.9L442.7 4180.1L441.4 4181.3L440.2 4182.5L438.9 4183.7L437.6 4184.9L436.4 4186.1L435.1 4187.4L433.8 4188.6L432.6 4189.8L431.3 4191L430 4192.2L428.8 4193.4L427.5 4194.6L426.3 4195.8L425 4197L423.7 4198.3L422.5 4199.5L421.2 4200.7L419.9 4201.9L418.7 4203.1L417.4 4204.3L416.1 4205.5L414.9 4206.7L413.6 4207.9L412.3 4209.2L411.1 4210.4L409.8 4211.6L408.5 4212.8L407.3 4214L406 4215.2L404.8 4216.4L403.5 4217.6L402.2 4218.8L401 4220.1L399.7 4221.3L398.4 4222.5L397.2 4223.7L395.9 4224.9L394.6 4226.1L393.4 4227.3L392.1 4228.5L390.8 4229.7L389.6 4231L388.3 4232.2L387.1 4233.4L385.8 4234.6L384.5 4235.8L383.3 4237L382 4238.2L380.7 4239.4L379.5 4240.6L378.2 4241.8L376.9 4243.1L375.7 4244.3L375.7 4244.4L376.9 4243.2L378.2 4242L379.5 4240.8L380.7 4239.6L382 4238.4L383.3 4237.2L384.5 4235.9L385.8 4234.7L387.1 4233.5L388.3 4232.3L389.6 4231.1L390.8 4229.9L392.1 4228.7L393.4 4227.5L394.6 4226.3L395.9 4225.1L397.2 4223.9L398.4 4222.7L399.7 4221.5L401 4220.3L402.2 4219.1L403.5 4217.9L404.8 4216.6L406 4215.4L407.3 4214.2L408.5 4213L409.8 4211.8L411.1 4210.6L412.3 4209.4L413.6 4208.2L414.9 4207L416.1 4205.8L417.4 4204.6L418.7 4203.4L419.9 4202.2L421.2 4201L422.5 4199.8L423.7 4198.6L425 4197.4L426.3 4196.1L427.5 4194.9L428.8 4193.7L430 4192.5L431.3 4191.3L432.6 4190.1L433.8 4188.9L435.1 4187.7L436.4 4186.5L437.6 4185.3L438.9 4184.1L440.2 4182.9L441.4 4181.7L442.7 4180.5L444 4179.3L445.2 4178.1L446.5 4176.9L447.8 4175.7L449 4174.5L450.3 4173.3L451.5 4172.1L452.8 4170.8L454.1 4169.6L455.3 4168.4L456.6 4167.2L457.9 4166L459.1 4164.8L460.4 4163.6L461.7 4162.4L462.9 4161.2L464.2 4160L465.5 4158.8L466.7 4157.6L468 4156.4L469.3 4155.2L470.5 4154L471.8 4152.8L473 4151.6L474.3 4150.4L475.6 4149.2L476.8 4148L478.1 4146.8L479.4 4145.6L480.6 4144.4L481.9 4143.2L483.2 4142L484.4 4140.8L485.7 4139.6L487 4138.4L488.2 4137.2L489.5 4136L490.8 4134.8L492 4133.6L493.3 4132.4L494.5 4131.2L495.8 4130L497.1 4128.8L498.3 4127.6L499.6 4126.4L500.9 4125.2L502.1 4124L503.4 4122.8L504.7 4121.6L505.9 4120.4L507.2 4119.2L508.5 4118L509.7 4116.8L511 4115.6L512.3 4114.4L513.5 4113.2L514.8 4112L516 4110.8L517.3 4109.6L518.6 4108.4L519.8 4107.2L521.1 4106L522.4 4104.8L523.6 4103.6L524.9 4102.4L526.2 4101.2L527.4 4100L528.7 4098.8L530 4097.6L531.2 4096.4L532.5 4095.2L533.8 4094L535 4092.8L536.3 4091.6L537.5 4090.5L538.8 4089.3L540.1 4088.1L541.3 4086.9L542.6 4085.7L543.9 4084.5L545.1 4083.3L546.4 4082.1L547.7 4080.9L548.9 4079.7L550.2 4078.5L551.5 4077.3L552.7 4076.1L554 4075L555.3 4073.8L556.5 4072.6L557.8 4071.4L559 4070.2L560.3 4069L561.6 4067.8L562.8 4066.6L564.1 4065.4L565.4 4064.3L566.6 4063.1L567.9 4061.9L569.2 4060.7L570.4 4059.5L571.7 4058.3L573 4057.1L574.2 4056L575.5 4054.8L576.7 4053.6L578 4052.4L579.3 4051.2L580.5 4050.1L581.8 4048.9L583.1 4047.7L584.3 4046.5L585.6 4045.3L586.9 4044.1L588.2 4043L589.4 4041.8L590.7 4040.6L591.9 4039.4L593.2 4038.3L594.5 4037.1L595.7 4035.9L597 4034.7L598.3 4033.6L599.5 4032.4L600.8 4031.2L602.1 4030L603.3 4028.9L604.6 4027.7L605.8 4026.5L607.1 4025.4L608.4 4024.2L609.7 4023L610.9 4021.9L612.2 4020.7L613.4 4019.5L614.7 4018.4L616 4017.2L617.2 4016.1L618.5 4014.9L619.8 4013.7L621 4012.6L622.3 4011.4L623.5 4010.2L624.8 4009.1L626.1 4007.9L627.4 4006.8L628.6 4005.6L629.9 4004.4L631.1 4003.3L632.5 4002.1L633.7 4001L634.9 3999.9L636.2 3998.7L637.5 3997.5L638.8 3996.4L640 3995.2L641.3 3994.1L642.6 3993L643.8 3991.8L645.2 3990.6L646.4 3989.5L647.6 3988.4L648.9 3987.2L650.2 3986.1L651.5 3984.9L652.7 3983.9L653.9 3982.8L655.2 3981.6L656.5 3980.4L657.7 3979.3L659 3978.2L660.3 3977.1L661.7 3975.8L662.9 3974.8L664.1 3973.7L665.4 3972.5L666.8 3971.3L667.9 3970.3L669.1 3969.2L670.4 3968.1L671.7 3967L673 3965.8L674.2 3964.8L675.6 3963.6L676.8 3962.5L678.1 3961.4L679.4 3960.3L680.7 3959.1L681.7 3958.2L683.2 3957L684.3 3956L685.9 3954.7L687.1 3953.6L688.4 3952.5L689.7 3951.4L690.6 3950.6L692 3949.5L693.4 3948.2L694.4 3947.4L696 3946L697.1 3945.1L698.2 3944.2L700 3942.7L701.2 3941.7L702.5 3940.6L703.8 3939.5L705.1 3938.4L705.8 3937.8L707.3 3936.6L708.8 3935.3L709.6 3934.7L711.2 3933.3L712.1 3932.7L713.8 3931.2L714.7 3930.5L716.6 3928.9L717.6 3928.1L718.6 3927.3L719.7 3926.5L721.8 3924.7L723 3923.8L724.2 3922.9L725.4 3921.9L726.7 3920.9L728 3919.8L729.4 3918.7L730.8 3917.6L732.3 3916.4L733.9 3915.2L735.6 3913.9L737.3 3912.6L739.1 3911.2L741 3909.8L743 3908.2L745.2 3906.6L747.5 3904.9L750 3903.1L752.6 3901.2L755.5 3899.1L758.6 3896.8L762.1 3894.4L765.9 3891.8L770.3 3888.8L775.2 3885.6L781 3881.8L787.9 3877.5L796.6 3872.4L808.2 3866L825.8 3857.5L863.7 3843.9Z"/>
<path fill="none" stroke="#000" stroke-width="21.8" stroke-linecap="round" stroke-linejoin="round" d="M335.4 4283L337.9 4280.6L340.5 4278.2L343 4275.9L345.6 4273.5L348.1 4271.1L350.6 4268.7L353.1 4266.3L355.6 4263.9L358.1 4261.5L360.7 4259.1L363.1 4256.7L365.6 4254.3L368.1 4251.9L370.6 4249.5L373.1 4247.1L375.6 4244.7L378.1 4242.3L380.6 4239.9L383 4237.5L385.5 4235.1L388 4232.7L390.5 4230.3L393 4227.9L395.4 4225.4L397.9 4223L400.4 4220.6L402.9 4218.2L405.4 4215.8L407.8 4213.4L410.3 4211L412.8 4208.6L415.3 4206.2L417.8 4203.8L420.3 4201.4L422.8 4199L425.3 4196.6L427.8 4194.2L430.3 4191.9L432.9 4189.5L435.4 4187.1L437.9 4184.7L440.4 4182.3L443 4180L445.5 4177.6L448.1 4175.2L450.6 4172.9L453.2 4170.5L455.7 4168.1L458.3 4165.8L460.8 4163.4L463.4 4161L465.9 4158.7L468.5 4156.3L471 4153.9L473.6 4151.5L476.1 4149.1L478.6 4146.7L481.1 4144.3L483.6 4141.9L486.1 4139.5L488.6 4137.1L491.1 4134.7L493.6 4132.2L496 4129.8L498.5 4127.4L500.9 4124.9L503.3 4122.4L505.8 4119.9L508.1 4117.4L510.5 4114.9L512.9 4112.4L515.2 4109.9L517.5 4107.3L519.8 4104.8L522.1 4102.2L524.4 4099.6L526.6 4097L528.9 4094.4L531.1 4091.8L533.3 4089.1L535.5 4086.5L537.7 4083.8L539.9 4081.2L542 4078.5L544.2 4075.8L546.3 4073L548.4 4070.3L550.5 4067.6L552.6 4064.8L554.7 4062L556.8 4059.3L558.8 4056.5L560.9 4053.7L563 4050.8L565 4048L567 4045.2L569 4042.3L571 4039.4L573 4036.5L575 4033.6L576.9 4030.7L578.9 4027.8L580.8 4024.9L582.7 4021.9L584.5 4019L586.4 4016L588.2 4013L589.9 4010L591.7 4007L593.4 4003.9L595.1 4000.9L596.8 3997.9L598.4 3994.8L600 3991.7L601.5 3988.6L603.1 3985.5L604.5 3982.4L606 3979.3L607.4 3976.1L608.8 3973L610.1 3969.8L611.5 3966.6L612.7 3963.4L614 3960.2L615.2 3957L616.4 3953.8L617.5 3950.6L618.7 3947.3L619.8 3944.1L620.8 3940.8L621.9 3937.5L622.9 3934.3L623.9 3931L624.8 3927.7L625.8 3924.4L626.7 3921L627.6 3917.7L628.4 3914.4L629.2 3911L630 3907.7L630.8 3904.3L631.6 3901L632.3 3897.6L633 3894.2L633.7 3890.8L634.4 3887.4L635 3884L635.7 3880.6L636.3 3877.2L636.9 3873.8L637.4 3870.4L638 3867L638.5 3863.5L639.1 3860.1L639.6 3856.7L640 3853.2L640.5 3849.8L641 3846.3L641.4 3842.9L641.8 3839.4L642.2 3835.9L642.6 3832.5L643 3829L643.4 3825.5L643.8 3822L644.1 3818.6L644.4 3815.1L644.8 3811.6L645.1 3808.1L645.4 3804.6L645.7 3801.2L646 3797.7L646.3 3794.2L646.6 3790.7L646.8 3787.2L647.1 3783.7L647.3 3780.2L647.6 3776.7L647.8 3773.2L648.1 3769.8L648.3 3766.3L648.6 3762.8L648.8 3759.3L649 3755.8L649.2 3752.3L649.5 3748.9L649.7 3745.4L649.9 3741.9L650.1 3738.4L650.4 3735L650.6 3731.5L650.8 3728.1L651 3724.6L651.3 3721.1L651.5 3717.7L651.8 3714.3L652.2 3710.9L652.6 3707.5L653.2 3704.2L653.9 3700.9L654.8 3697.7L655.8 3694.5L657.1 3691.5L658.6 3688.5L660.4 3685.6L662.5 3682.8L664.8 3680.2L667.2 3677.5L669.7 3675L672 3672.4L674.2 3669.8L676.2 3667.2L677.9 3664.3L679.3 3661.3L680.3 3658L681.1 3654.6L681.8 3651L682.5 3647.5L683.3 3644.1L684.4 3640.8L685.8 3637.7L687.7 3635L690.1 3632.6L693 3630.5L696.1 3628.6L699.1 3626.6L701.9 3624.4L704.2 3622L706.1 3619.2L707.6 3616.2L708.6 3612.9L709.4 3609.5L709.9 3605.9L710.4 3602.3L710.8 3598.7L711.3 3595.2L712.1 3591.8L713.2 3588.7L714.8 3585.9L716.9 3583.5L719.7 3581.5L722.8 3579.8L726 3578L728.9 3576.1L731.3 3573.7L733.3 3571L734.9 3568.1L736.2 3564.9L737.2 3561.6L738.1 3558.2L738.9 3554.7L739.9 3551.3L740.9 3548L742.3 3544.8L743.9 3541.8L746 3539L748.3 3536.4L750.8 3533.9L753.3 3531.4"/>
<circle cx="865.6" cy="2511.8" r="10.9"/>
<circle cx="827.9" cy="2567.6" r="10.9"/>
<circle cx="810.2" cy="2642.5" r="10.9"/>
<circle cx="799.5" cy="2662.6" r="10.9"/>
<circle cx="787.4" cy="2664.4" r="10.9"/>
<circle cx="779.7" cy="2671" r="10.9"/>
<circle cx="776.7" cy="2684" r="10.9"/>
<circle cx="772.1" cy="2740.3" r="10.9"/>
<circle cx="766" cy="3279" r="10.9"/>
<circle cx="763" cy="3282" r="10.9"/>
<circle cx="759" cy="3369.4" r="10.9"/>
<circle cx="757" cy="3371" r="10.9"/>
<path d="M246.2 4368.5L2278.0 2425.9" stroke="#FF0000" stroke-width="4"/>
<rect x="246.2" y="2425.9" width="2031.8" height="1942.6" fill="none" stroke="#8c8c8c" stroke-width="6.8"/>
<rect x="246.2" y="2425.9" width="2031.8" height="1942.6" fill="none" stroke="#0d0d0d" stroke-width="4.2"/>
<path d="M227.8 4283H243" stroke="#333" stroke-width="5.4"/>
<text x="215.3" y="4306.7" text-anchor="end" class="tk">0</text>
<path d="M335.2 4371V4385" stroke="#333" stroke-width="5.4"/>
<text x="335.2" y="4446.5" text-anchor="middle" class="tk">0</text>
<path d="M227.8 3903.3H243" stroke="#333" stroke-width="5.4"/>
<text x="215.3" y="3927" text-anchor="end" class="tk">5</text>
<path d="M732.5 4371V4385" stroke="#333" stroke-width="5.4"/>
<text x="732.5" y="4446.5" text-anchor="middle" class="tk">5</text>
<path d="M227.8 3523.7H243" stroke="#333" stroke-width="5.4"/>
<text x="215.3" y="3547.4" text-anchor="end" class="tk">10</text>
<path d="M1129.8 4371V4385" stroke="#333" stroke-width="5.4"/>
<text x="1129.8" y="4446.5" text-anchor="middle" class="tk">10</text>
<path d="M227.8 3144.1H243" stroke="#333" stroke-width="5.4"/>
<text x="215.3" y="3167.8" text-anchor="end" class="tk">15</text>
<path d="M1527.1 4371V4385" stroke="#333" stroke-width="5.4"/>
<text x="1527.1" y="4446.5" text-anchor="middle" class="tk">15</text>
<path d="M227.8 2764.4H243" stroke="#333" stroke-width="5.4"/>
<text x="215.3" y="2788.1" text-anchor="end" class="tk">20</text>
<path d="M1924.4 4371V4385" stroke="#333" stroke-width="5.4"/>
<text x="1924.4" y="4446.5" text-anchor="middle" class="tk">20</text>
</g>
<text x="1260.5" y="2376.7" text-anchor="middle" class="ttl">QQ plot</text>
<text x="71" y="2375.6" class="tag">(B)</text>
<text x="1261" y="4524.6" text-anchor="middle" class="axt">Expected −log<tspan dy="14" font-size="48.4">10</tspan><tspan dy="-14">(</tspan><tspan font-style="italic">p</tspan>)</text>
<text transform="translate(102 3399) rotate(-90)" text-anchor="middle" class="axt">Observed −log<tspan dy="14" font-size="48.4">10</tspan><tspan dy="-14">(</tspan><tspan font-style="italic">p</tspan>)</text>
</svg>
</body></html>
